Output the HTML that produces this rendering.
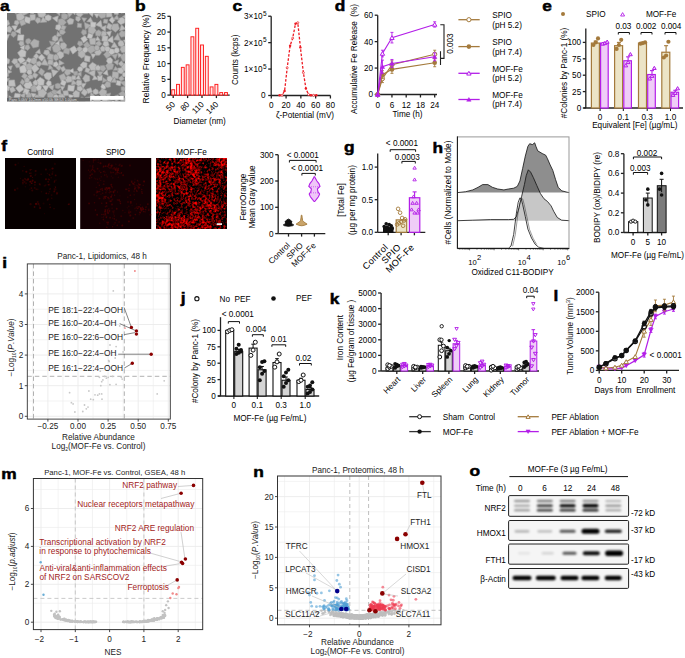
<!DOCTYPE html>
<html><head><meta charset="utf-8"><style>
html,body{margin:0;padding:0;background:#fff;}
svg{display:block;font-family:"Liberation Sans",sans-serif;font-size:8.2px;}
</style></head><body>
<svg width="685" height="658" viewBox="0 0 685 658">
<defs>
<clipPath id="clipA"><rect x="7" y="13" width="118.2" height="88.5"/></clipPath>
<filter id="fm" x="0" y="0" width="1" height="1" color-interpolation-filters="sRGB">
 <feTurbulence type="fractalNoise" baseFrequency="0.42" numOctaves="2" seed="4" result="n"/>
 <feColorMatrix in="n" type="matrix" values="1 0 0 0 0  0 0 0 0 0  0 0 0 0 0  0 0 0 0 1" result="n1"/>
 <feTurbulence type="fractalNoise" baseFrequency="0.06" numOctaves="2" seed="9" result="m"/>
 <feColorMatrix in="m" type="matrix" values="1 0 0 0 0  0 0 0 0 0  0 0 0 0 0  0 0 0 0 1" result="m1"/>
 <feComposite in="n1" in2="m1" operator="arithmetic" k1="0" k2="1" k3="0.5" k4="-0.25" result="nm"/>
 <feGaussianBlur in="nm" stdDeviation="0.35" result="nb"/><feComponentTransfer in="nb"><feFuncR type="linear" slope="2.2" intercept="-0.8"/><feFuncA type="linear" slope="0" intercept="1"/></feComponentTransfer>
</filter>
<filter id="blur5" x="-5%" y="-5%" width="110%" height="110%"><feGaussianBlur stdDeviation="0.45"/></filter>
<filter id="bandblur" x="-10%" y="-10%" width="120%" height="120%"><feGaussianBlur stdDeviation="1.05"/></filter>
<filter id="semblur" x="-5%" y="-5%" width="110%" height="110%"><feGaussianBlur stdDeviation="0.45"/></filter>

</defs>
<rect width="685" height="658" fill="#fff"/>
<text transform="translate(0,10.8) scale(1.12,1)" font-size="15.5" font-weight="bold" fill="#000" stroke="#000" stroke-width="0.5">a</text>
<g clip-path="url(#clipA)">
<rect x="7" y="13" width="118.2" height="88.5" fill="#727272"/>
<g filter="url(#semblur)">
<polygon points="34.25,57.13 36.77,59.63 36.65,63.03 33.84,64.44 30.83,62.76 30.79,59.14" fill="rgb(177,177,177)" stroke="rgb(152,152,152)" stroke-width="0.6"/>
<polygon points="3.77,87.13 6.58,84.96 9.97,87.13 8.39,90.89 4.84,90.56" fill="rgb(198,198,198)" stroke="rgb(173,173,173)" stroke-width="0.6"/>
<polygon points="35.86,99.53 37.12,102.87 35.43,106.24 31.71,105.79 29.98,102.38 32,98.95" fill="rgb(183,183,183)" stroke="rgb(158,158,158)" stroke-width="0.6"/>
<polygon points="111.04,55.26 106.66,58.62 103.48,54.41 107.44,50.46" fill="rgb(171,171,171)" stroke="rgb(146,146,146)" stroke-width="0.6"/>
<polygon points="24.37,64.87 27.76,68.92 25.18,72.96 20.36,72.7 19.35,67.12" fill="rgb(197,197,197)" stroke="rgb(172,172,172)" stroke-width="0.6"/>
<polygon points="64.36,78.8 67.96,75.67 72.28,77.14 72.05,81.83 67.13,82.46" fill="rgb(184,184,184)" stroke="rgb(159,159,159)" stroke-width="0.6"/>
<polygon points="44.6,10.88 45.94,14.72 43.06,17.68 38.76,16.87 37.52,12.96 40.53,9.56" fill="rgb(187,187,187)" stroke="rgb(162,162,162)" stroke-width="0.6"/>
<polygon points="58.96,75.8 64.04,73.37 66.64,78.64 61.2,81.5" fill="rgb(175,175,175)" stroke="rgb(150,150,150)" stroke-width="0.6"/>
<polygon points="90.66,92.08 95.28,96.21 89.97,98.3" fill="rgb(178,178,178)" stroke="rgb(153,153,153)" stroke-width="0.6"/>
<polygon points="112.43,23.4 109.19,20.19 112.03,16.56 115.29,19.77" fill="rgb(195,195,195)" stroke="rgb(170,170,170)" stroke-width="0.6"/>
<polygon points="56.11,41.69 51.56,46.74 49.12,40.95" fill="rgb(169,169,169)" stroke="rgb(144,144,144)" stroke-width="0.6"/>
<polygon points="78.98,97.23 74.2,97.73 72.77,93.34 75.74,90.14 79.69,92.31" fill="rgb(184,184,184)" stroke="rgb(159,159,159)" stroke-width="0.6"/>
<polygon points="84.22,22.16 91.49,25.4 85.32,29.64" fill="rgb(176,176,176)" stroke="rgb(151,151,151)" stroke-width="0.6"/>
<polygon points="118.6,93.67 123.33,90.2 126.12,94.81 122.1,98.46" fill="rgb(168,168,168)" stroke="rgb(143,143,143)" stroke-width="0.6"/>
<polygon points="93.04,34.5 88.12,32.45 88.32,27.28 93.52,26.05 96.22,30.69" fill="rgb(177,177,177)" stroke="rgb(152,152,152)" stroke-width="0.6"/>
<polygon points="107.13,99.65 111.79,101.34 108.32,105" fill="rgb(187,187,187)" stroke="rgb(162,162,162)" stroke-width="0.6"/>
<polygon points="105.71,47.71 104.54,51.37 101.14,51.43 100.03,47.98 102.5,45.67" fill="rgb(185,185,185)" stroke="rgb(160,160,160)" stroke-width="0.6"/>
<polygon points="43.79,85.12 38.61,85.67 36.18,80.94 40.13,77.28 44.33,79.91" fill="rgb(194,194,194)" stroke="rgb(169,169,169)" stroke-width="0.6"/>
<polygon points="7.95,66.46 12.4,65.68 10.8,70.45" fill="rgb(184,184,184)" stroke="rgb(159,159,159)" stroke-width="0.6"/>
<polygon points="95.38,37.91 95.88,44.43 90.16,44.7 89.21,38.58" fill="rgb(181,181,181)" stroke="rgb(156,156,156)" stroke-width="0.6"/>
<polygon points="123.83,53.03 128.32,55.38 127.58,60.68 122.75,61.49 120.37,56.83" fill="rgb(170,170,170)" stroke="rgb(145,145,145)" stroke-width="0.6"/>
<polygon points="10.43,32.46 6.02,31.58 5.82,27.61 9.45,25.84 12.35,28.69" fill="rgb(185,185,185)" stroke="rgb(160,160,160)" stroke-width="0.6"/>
<polygon points="77.18,27.31 77.68,23.02 81.65,23.71 81.45,27.52" fill="rgb(177,177,177)" stroke="rgb(152,152,152)" stroke-width="0.6"/>
<polygon points="112.79,35.91 113.37,43.22 106.88,40.41" fill="rgb(194,194,194)" stroke="rgb(169,169,169)" stroke-width="0.6"/>
<polygon points="111.06,47.51 114.29,41.91 117.89,47.44" fill="rgb(185,185,185)" stroke="rgb(160,160,160)" stroke-width="0.6"/>
<polygon points="64.65,47.44 70.32,48.93 68.84,54.51 62.87,52.78" fill="rgb(168,168,168)" stroke="rgb(143,143,143)" stroke-width="0.6"/>
<polygon points="58.67,64.52 56.42,67.32 53.16,66.07 53.41,62.65 56.6,61.62" fill="rgb(194,194,194)" stroke="rgb(169,169,169)" stroke-width="0.6"/>
<polygon points="82.99,68.82 81.72,71.23 79.09,71.66 77.36,69.48 78.44,67.07 81.37,66.53" fill="rgb(192,192,192)" stroke="rgb(167,167,167)" stroke-width="0.6"/>
<polygon points="78.09,51.88 81.46,49.9 84.82,51.97 85.44,56.11 81.61,58.2 78.25,55.85" fill="rgb(180,180,180)" stroke="rgb(155,155,155)" stroke-width="0.6"/>
<polygon points="51.21,72.93 51.56,77.19 49.11,80.41 45.37,78.63 43.48,74.83 46.97,72.4" fill="rgb(189,189,189)" stroke="rgb(164,164,164)" stroke-width="0.6"/>
<polygon points="125.1,36.54 121.25,37.33 118.67,33.98 121.56,30.42 125.42,31.95" fill="rgb(172,172,172)" stroke="rgb(147,147,147)" stroke-width="0.6"/>
<polygon points="92.97,22.19 86.76,21.8 90.56,17.17" fill="rgb(186,186,186)" stroke="rgb(161,161,161)" stroke-width="0.6"/>
<polygon points="45.75,91.7 42.37,85.73 49.09,85.6" fill="rgb(197,197,197)" stroke="rgb(172,172,172)" stroke-width="0.6"/>
<polygon points="110.47,30.16 106.39,27.61 108.4,22.96 113.02,25.48" fill="rgb(185,185,185)" stroke="rgb(160,160,160)" stroke-width="0.6"/>
<polygon points="88.29,91.9 84.91,96.05 81.12,92.92 83.77,88.48" fill="rgb(185,185,185)" stroke="rgb(160,160,160)" stroke-width="0.6"/>
<polygon points="30.43,81.19 32.61,85.23 30.54,88.66 25.85,88.65 23.64,85.21 26.27,81.85" fill="rgb(193,193,193)" stroke="rgb(168,168,168)" stroke-width="0.6"/>
<polygon points="86.15,83.56 83.02,88.55 80.72,83.38" fill="rgb(189,189,189)" stroke="rgb(164,164,164)" stroke-width="0.6"/>
<polygon points="23.28,40.86 17.43,40.35 17.99,34.72 23.99,34.89" fill="rgb(197,197,197)" stroke="rgb(172,172,172)" stroke-width="0.6"/>
<polygon points="60.99,49.8 57.25,52.96 53.4,51.78 52.11,47.36 55.17,43.9 59.84,45.35" fill="rgb(173,173,173)" stroke="rgb(148,148,148)" stroke-width="0.6"/>
<polygon points="28.77,12.96 22.57,16.04 20.15,10.19 25.5,7.07" fill="rgb(182,182,182)" stroke="rgb(157,157,157)" stroke-width="0.6"/>
<polygon points="35.48,19.79 30.11,20.55 29.94,14.68 35.18,14.22" fill="rgb(185,185,185)" stroke="rgb(160,160,160)" stroke-width="0.6"/>
<polygon points="111.84,77.71 112.65,71.62 118.89,72.28 118.06,78.84" fill="rgb(179,179,179)" stroke="rgb(154,154,154)" stroke-width="0.6"/>
<polygon points="9.7,78.48 6.25,82.82 4.07,77.53" fill="rgb(181,181,181)" stroke="rgb(156,156,156)" stroke-width="0.6"/>
<polygon points="40.8,67.99 44.87,71.19 42.3,76.12 38.28,72.81" fill="rgb(171,171,171)" stroke="rgb(146,146,146)" stroke-width="0.6"/>
<polygon points="59.72,97.19 55.71,101.8 51.28,97.61 55.28,93.25" fill="rgb(190,190,190)" stroke="rgb(165,165,165)" stroke-width="0.6"/>
<polygon points="62.15,79.39 66.49,81.83 64.59,85.92 60.26,84.28" fill="rgb(195,195,195)" stroke="rgb(170,170,170)" stroke-width="0.6"/>
<polygon points="100.84,86.86 102.28,84 105.75,84.98 105.45,88.56 102.49,89.82" fill="rgb(198,198,198)" stroke="rgb(173,173,173)" stroke-width="0.6"/>
<polygon points="16.18,14.54 21.28,12.36 24.7,17 21.74,21.63 17.03,19.86" fill="rgb(187,187,187)" stroke="rgb(162,162,162)" stroke-width="0.6"/>
<polygon points="82.9,68.41 80.09,64.89 82.97,61.8 87.13,63.04 86.76,67.16" fill="rgb(190,190,190)" stroke="rgb(165,165,165)" stroke-width="0.6"/>
<polygon points="26.01,39.35 29.01,38.23 31.17,40.46 30.32,43.12 27.55,44.47 25.45,42.07" fill="rgb(168,168,168)" stroke="rgb(143,143,143)" stroke-width="0.6"/>
<polygon points="17.51,25.43 15.1,31.14 11.68,26.04" fill="rgb(195,195,195)" stroke="rgb(170,170,170)" stroke-width="0.6"/>
<polygon points="75.31,83.56 77.33,80.09 81.49,80.57 82.05,84.76 78.21,86.3" fill="rgb(185,185,185)" stroke="rgb(160,160,160)" stroke-width="0.6"/>
<polygon points="106.11,68.8 103.27,71.67 99.85,69.98 100.12,65.76 104.21,65.18" fill="rgb(169,169,169)" stroke="rgb(144,144,144)" stroke-width="0.6"/>
<polygon points="52.75,60.39 47.28,59.07 48.16,53.16 53.69,54.7" fill="rgb(178,178,178)" stroke="rgb(153,153,153)" stroke-width="0.6"/>
<polygon points="63.29,18.09 66.38,22.59 62.68,26.28 58.22,24.49 58.24,19.47" fill="rgb(170,170,170)" stroke="rgb(145,145,145)" stroke-width="0.6"/>
<polygon points="85.36,74.35 89.65,76.02 89.84,80.78 85.17,82.6 82.61,78.49" fill="rgb(182,182,182)" stroke="rgb(157,157,157)" stroke-width="0.6"/>
<polygon points="16.84,62.43 19.73,63.38 20.09,67 16.54,68.04 14.79,64.99" fill="rgb(178,178,178)" stroke="rgb(153,153,153)" stroke-width="0.6"/>
<polygon points="22.08,78.99 25.13,81.84 22.93,85.24 20,82.68" fill="rgb(173,173,173)" stroke="rgb(148,148,148)" stroke-width="0.6"/>
<polygon points="19.24,92.75 15.65,88.09 20.4,84.35 23.99,89.28" fill="rgb(193,193,193)" stroke="rgb(168,168,168)" stroke-width="0.6"/>
<polygon points="99.96,10.66 104.18,10.17 106.18,13.87 105.26,17.51 100.94,18.4 97.9,14.86" fill="rgb(174,174,174)" stroke="rgb(149,149,149)" stroke-width="0.6"/>
<polygon points="40.97,64.74 44.77,58.26 48.58,65.46" fill="rgb(181,181,181)" stroke="rgb(156,156,156)" stroke-width="0.6"/>
<polygon points="57.24,22.31 52.39,17.92 58.44,15.74" fill="rgb(192,192,192)" stroke="rgb(167,167,167)" stroke-width="0.6"/>
<polygon points="126.07,52.16 121.83,52.68 120,49.36 121.33,45.88 125.45,45.62 128.15,48.53" fill="rgb(180,180,180)" stroke="rgb(155,155,155)" stroke-width="0.6"/>
<polygon points="84.84,55.34 90.27,56.44 89.63,61.9 84.4,60.88" fill="rgb(190,190,190)" stroke="rgb(165,165,165)" stroke-width="0.6"/>
<polygon points="95.42,50.75 90.66,53.65 86.27,49.99 88.77,44.98 94.15,45.89" fill="rgb(171,171,171)" stroke="rgb(146,146,146)" stroke-width="0.6"/>
<polygon points="100.93,20.36 102.45,27.81 95.44,25.01" fill="rgb(189,189,189)" stroke="rgb(164,164,164)" stroke-width="0.6"/>
<polygon points="63.03,34.87 59.58,34.06 59.55,30.28 63.03,28.77 65.65,32.19" fill="rgb(172,172,172)" stroke="rgb(147,147,147)" stroke-width="0.6"/>
<polygon points="94.8,77.25 87.69,72.83 95.26,69.79" fill="rgb(185,185,185)" stroke="rgb(160,160,160)" stroke-width="0.6"/>
<polygon points="109.81,36.7 105.99,32.32 111.44,30.96" fill="rgb(193,193,193)" stroke="rgb(168,168,168)" stroke-width="0.6"/>
<polygon points="78.23,75.19 73.88,75.48 73.66,71.56 77.44,71.03" fill="rgb(169,169,169)" stroke="rgb(144,144,144)" stroke-width="0.6"/>
<polygon points="98.44,95.77 101.51,98.84 99.36,102.54 95.49,103.03 92.73,100.1 94.65,96.5" fill="rgb(185,185,185)" stroke="rgb(160,160,160)" stroke-width="0.6"/>
<polygon points="74.03,19.62 72.74,24.06 68.66,24.56 66.78,20.8 69.89,17.91" fill="rgb(183,183,183)" stroke="rgb(158,158,158)" stroke-width="0.6"/>
<polygon points="63.29,41.62 57.98,41.14 61.13,36.48" fill="rgb(172,172,172)" stroke="rgb(147,147,147)" stroke-width="0.6"/>
<polygon points="101.9,43.95 98.42,46.66 95.08,43.13 99.22,40.42" fill="rgb(174,174,174)" stroke="rgb(149,149,149)" stroke-width="0.6"/>
<polygon points="35.05,20.61 36.8,17.54 39.99,18.09 40.92,21.68 37.49,23.49" fill="rgb(178,178,178)" stroke="rgb(153,153,153)" stroke-width="0.6"/>
<polygon points="97.34,75.98 102.27,75.23 102.25,80.18 98.05,80.64" fill="rgb(192,192,192)" stroke="rgb(167,167,167)" stroke-width="0.6"/>
<polygon points="24.21,50.19 19.94,47.43 24.67,45.09" fill="rgb(195,195,195)" stroke="rgb(170,170,170)" stroke-width="0.6"/>
<polygon points="37.18,85.19 33.66,85.47 32.91,82.01 35.62,79.85 38,82.1" fill="rgb(189,189,189)" stroke="rgb(164,164,164)" stroke-width="0.6"/>
<polygon points="98.57,92.43 102.08,88.51 106.67,90.78 106.5,96.1 101.22,96.75" fill="rgb(179,179,179)" stroke="rgb(154,154,154)" stroke-width="0.6"/>
<polygon points="81.75,96.73 85.99,98.9 85.14,103.88 80.1,104.25 78.43,100.06" fill="rgb(170,170,170)" stroke="rgb(145,145,145)" stroke-width="0.6"/>
<polygon points="75.53,78.95 78.78,74.71 80.63,79.56" fill="rgb(189,189,189)" stroke="rgb(164,164,164)" stroke-width="0.6"/>
<polygon points="73.02,13.26 68.71,17.7 66.84,11.68" fill="rgb(177,177,177)" stroke="rgb(152,152,152)" stroke-width="0.6"/>
<polygon points="68.19,94.29 74.01,95.54 70,99.69" fill="rgb(197,197,197)" stroke="rgb(172,172,172)" stroke-width="0.6"/>
<polygon points="112.62,69.37 107.59,70.24 105.44,65.62 109.06,61.79 113.84,64.45" fill="rgb(169,169,169)" stroke="rgb(144,144,144)" stroke-width="0.6"/>
<polygon points="85.03,35.6 87.52,39.72 83.53,43.06 80.74,38.31" fill="rgb(196,196,196)" stroke="rgb(171,171,171)" stroke-width="0.6"/>
<polygon points="33.1,7.96 35.28,11.11 33.34,13.88 30.09,13.17 29.79,9.44" fill="rgb(191,191,191)" stroke="rgb(166,166,166)" stroke-width="0.6"/>
<polygon points="62.44,99.96 59.52,99.01 58.24,95.63 61.11,93.66 64.31,94.43 65.14,97.77" fill="rgb(182,182,182)" stroke="rgb(157,157,157)" stroke-width="0.6"/>
<polygon points="92.1,100.45 89.09,104.37 84.91,102.45 85.36,97.47 89.61,96.9" fill="rgb(197,197,197)" stroke="rgb(172,172,172)" stroke-width="0.6"/>
<polygon points="119.53,97.7 117.62,100.06 114.19,98.86 114.81,95.64 118.14,94.67" fill="rgb(176,176,176)" stroke="rgb(151,151,151)" stroke-width="0.6"/>
<polygon points="92.42,62.2 96.36,64.76 95.85,70.04 90.78,70.52 88.63,65.83" fill="rgb(187,187,187)" stroke="rgb(162,162,162)" stroke-width="0.6"/>
<polygon points="92.48,16.66 87.73,12.15 94.22,10.69" fill="rgb(198,198,198)" stroke="rgb(173,173,173)" stroke-width="0.6"/>
<polygon points="34.61,84.78 37.62,88.02 35.79,91.93 31.42,91.66 30.77,86.87" fill="rgb(172,172,172)" stroke="rgb(147,147,147)" stroke-width="0.6"/>
<polygon points="125.1,19.25 124.76,22.84 120.88,24.76 117.61,22.04 118.85,18.45 122.26,17.32" fill="rgb(192,192,192)" stroke="rgb(167,167,167)" stroke-width="0.6"/>
<polygon points="74.31,45.85 77.56,50.27 72.82,54.14 69.57,48.81" fill="rgb(193,193,193)" stroke="rgb(168,168,168)" stroke-width="0.6"/>
<polygon points="103.18,22.96 103.98,19.05 107.88,19.47 107.26,23.53" fill="rgb(179,179,179)" stroke="rgb(154,154,154)" stroke-width="0.6"/>
<polygon points="126.53,45.65 123.47,40.12 129.75,39.74" fill="rgb(196,196,196)" stroke="rgb(171,171,171)" stroke-width="0.6"/>
<polygon points="122.55,63.69 127.44,63.1 129.25,68.48 125.76,71.74 121.08,69.03" fill="rgb(186,186,186)" stroke="rgb(161,161,161)" stroke-width="0.6"/>
<polygon points="120.6,40.45 113.41,39.75 117.89,33.18" fill="rgb(178,178,178)" stroke="rgb(153,153,153)" stroke-width="0.6"/>
<polygon points="29.58,23.6 23.5,21.95 25.58,16.41 30.78,18.02" fill="rgb(195,195,195)" stroke="rgb(170,170,170)" stroke-width="0.6"/>
<polygon points="128.68,99.89 125.37,105.7 119.51,102.53 122.76,96.77" fill="rgb(170,170,170)" stroke="rgb(145,145,145)" stroke-width="0.6"/>
<polygon points="8.25,20.16 9.74,24.08 6.45,26.45 2.42,24.44 3.94,19.85" fill="rgb(189,189,189)" stroke="rgb(164,164,164)" stroke-width="0.6"/>
<polygon points="119.75,81.86 128.16,80.46 125.62,87.4" fill="rgb(171,171,171)" stroke="rgb(146,146,146)" stroke-width="0.6"/>
<polygon points="101.56,36.27 100.45,33.11 102.81,30.97 105.79,31.62 106.63,34.44 104.54,36.92" fill="rgb(181,181,181)" stroke="rgb(156,156,156)" stroke-width="0.6"/>
<polygon points="75.65,13.99 79.55,10.31 83.69,13.65 79.88,17.69" fill="rgb(186,186,186)" stroke="rgb(161,161,161)" stroke-width="0.6"/>
<polygon points="86.13,48.83 83.29,44.7 87.08,41.3 90.81,45.64" fill="rgb(168,168,168)" stroke="rgb(143,143,143)" stroke-width="0.6"/>
<polygon points="26.02,96.74 26.58,93.45 29.5,92.32 31.56,94.66 31.04,98.03 28.16,98.92" fill="rgb(170,170,170)" stroke="rgb(145,145,145)" stroke-width="0.6"/>
<polygon points="48.05,86.38 54.14,84.93 52.79,90.55" fill="rgb(180,180,180)" stroke="rgb(155,155,155)" stroke-width="0.6"/>
<polygon points="42.21,101.36 35,101.61 34.42,95.37 41.03,94.52" fill="rgb(177,177,177)" stroke="rgb(152,152,152)" stroke-width="0.6"/>
<polygon points="1.7,35.5 9.55,34.19 6.42,41.89" fill="rgb(194,194,194)" stroke="rgb(169,169,169)" stroke-width="0.6"/>
<polygon points="118.03,23.76 119.44,28.67 115.46,32.24 110.88,28.68 112.9,23.97" fill="rgb(177,177,177)" stroke="rgb(152,152,152)" stroke-width="0.6"/>
<polygon points="85.99,67.36 90.37,69.24 88.42,73.03 84.79,71.53" fill="rgb(185,185,185)" stroke="rgb(160,160,160)" stroke-width="0.6"/>
<polygon points="9.15,102.62 9.05,95.82 15.12,99.48" fill="rgb(196,196,196)" stroke="rgb(171,171,171)" stroke-width="0.6"/>
<polygon points="19.13,21.24 23.88,19.15 25.84,23.88 21.33,26.1" fill="rgb(175,175,175)" stroke="rgb(150,150,150)" stroke-width="0.6"/>
<polygon points="113.46,19.12 117.12,14.64 119.29,19.99" fill="rgb(174,174,174)" stroke="rgb(149,149,149)" stroke-width="0.6"/>
<polygon points="38.62,46.78 33.06,48.03 30.08,43.14 34.09,38.99 39.12,41" fill="rgb(174,174,174)" stroke="rgb(149,149,149)" stroke-width="0.6"/>
<polygon points="63.79,56.22 60.86,58.96 57.27,57.6 56.9,53.57 59.48,50.98 63.49,52.7" fill="rgb(186,186,186)" stroke="rgb(161,161,161)" stroke-width="0.6"/>
<polygon points="55.77,67.81 58.89,64.69 61.79,67.86 58.85,70.76" fill="rgb(175,175,175)" stroke="rgb(150,150,150)" stroke-width="0.6"/>
<polygon points="9.07,88.54 13.1,86.49 15.65,90.5 11.34,92.9" fill="rgb(184,184,184)" stroke="rgb(159,159,159)" stroke-width="0.6"/>
<polygon points="41.66,61.27 37.92,57.47 41.69,54.12 44.98,57.51" fill="rgb(192,192,192)" stroke="rgb(167,167,167)" stroke-width="0.6"/>
<polygon points="49.56,64.2 53.06,68.53 47.89,69.67" fill="rgb(177,177,177)" stroke="rgb(152,152,152)" stroke-width="0.6"/>
<polygon points="80.63,19.46 78.34,21.67 75.71,20.04 75.9,16.66 79.53,16.31" fill="rgb(182,182,182)" stroke="rgb(157,157,157)" stroke-width="0.6"/>
<polygon points="122.48,72.56 126.94,72.74 126.47,76.82 122.41,76.8" fill="rgb(192,192,192)" stroke="rgb(167,167,167)" stroke-width="0.6"/>
<polygon points="107.49,58.19 110.7,57.4 112.75,59.94 111.99,63.2 108.66,63.95 106.47,61.25" fill="rgb(193,193,193)" stroke="rgb(168,168,168)" stroke-width="0.6"/>
<polygon points="21.64,56.21 25.52,60.33 20.76,63.74 17.44,59.5" fill="rgb(193,193,193)" stroke="rgb(168,168,168)" stroke-width="0.6"/>
<polygon points="107.02,81.06 107.15,77.11 110.32,75.84 112.89,78.58 110.89,82.14" fill="rgb(187,187,187)" stroke="rgb(162,162,162)" stroke-width="0.6"/>
<polygon points="31.71,76 34.19,72.61 38.25,74.69 35.65,78.52" fill="rgb(181,181,181)" stroke="rgb(156,156,156)" stroke-width="0.6"/>
<polygon points="14.47,79.89 15.42,86.29 8.65,86.3 8.7,80.18" fill="rgb(192,192,192)" stroke="rgb(167,167,167)" stroke-width="0.6"/>
<polygon points="43.41,97.72 38.23,96.16 38.04,90.66 43.14,88.64 46.92,92.84" fill="rgb(182,182,182)" stroke="rgb(157,157,157)" stroke-width="0.6"/>
<polygon points="119.47,31.03 121.43,24.57 125.71,29.04" fill="rgb(185,185,185)" stroke="rgb(160,160,160)" stroke-width="0.6"/>
<polygon points="22.93,97.39 27.66,98.57 28,103.34 23.23,104.92 19.65,101.56" fill="rgb(194,194,194)" stroke="rgb(169,169,169)" stroke-width="0.6"/>
<polygon points="63.66,100.28 63.27,105.4 59.09,105.65 56.27,102.02 59.92,98.71" fill="rgb(182,182,182)" stroke="rgb(157,157,157)" stroke-width="0.6"/>
<polygon points="20.82,94.09 19.25,99.64 13.69,98.29 15.03,93.27" fill="rgb(195,195,195)" stroke="rgb(170,170,170)" stroke-width="0.6"/>
<polygon points="125.59,25.46 124.62,19.51 130.99,21.57" fill="rgb(189,189,189)" stroke="rgb(164,164,164)" stroke-width="0.6"/>
<polygon points="26.51,69.74 25.31,65.01 29.37,63.06 33.18,65.87 30.97,70.61" fill="rgb(174,174,174)" stroke="rgb(149,149,149)" stroke-width="0.6"/>
<polygon points="66.79,44.94 65.78,48.39 62.39,49.68 59.88,46.78 60.82,42.99 64.31,42.46" fill="rgb(179,179,179)" stroke="rgb(154,154,154)" stroke-width="0.6"/>
<polygon points="16.49,35.11 13.5,37.53 10.52,34.97 12.01,31.55 15.59,31.58" fill="rgb(168,168,168)" stroke="rgb(143,143,143)" stroke-width="0.6"/>
<polygon points="117.81,65.17 113.36,61.92 118.56,59.7" fill="rgb(179,179,179)" stroke="rgb(154,154,154)" stroke-width="0.6"/>
<polygon points="8.99,63.47 5.94,64.35 2.73,62.63 3.6,59.07 6.7,57.63 9.73,59.78" fill="rgb(190,190,190)" stroke="rgb(165,165,165)" stroke-width="0.6"/>
<polygon points="68.18,84.94 74.7,85.55 73.72,91.33 67.58,90.79" fill="rgb(195,195,195)" stroke="rgb(170,170,170)" stroke-width="0.6"/>
<polygon points="33.15,75.54 32.9,78.62 29.53,79.32 27.54,76.42 30.22,74.31" fill="rgb(181,181,181)" stroke="rgb(156,156,156)" stroke-width="0.6"/>
<polygon points="117.53,68.19 121.87,67.71 124.1,71.07 121.47,73.94 117.78,72.51" fill="rgb(189,189,189)" stroke="rgb(164,164,164)" stroke-width="0.6"/>
<polygon points="64.25,63.32 58.6,65.92 59.13,60.07" fill="rgb(181,181,181)" stroke="rgb(156,156,156)" stroke-width="0.6"/>
<polygon points="109.12,45.27 105.33,46.99 102.81,44.52 104.1,40.64 107.8,41.04" fill="rgb(190,190,190)" stroke="rgb(165,165,165)" stroke-width="0.6"/>
<polygon points="105.94,11.26 111.59,10.55 112.14,16.65 106.43,17.13" fill="rgb(188,188,188)" stroke="rgb(163,163,163)" stroke-width="0.6"/>
<polygon points="67.53,18.58 64.42,19.9 61.43,18.01 61.23,14.54 64.62,13.1 68.04,14.78" fill="rgb(168,168,168)" stroke="rgb(143,143,143)" stroke-width="0.6"/>
<polygon points="126.83,12.23 121.13,13.19 122.9,8.06" fill="rgb(186,186,186)" stroke="rgb(161,161,161)" stroke-width="0.6"/>
<polygon points="107.63,96.27 107.87,100.67 103.68,102.61 101.21,98.94 103.7,94.92" fill="rgb(191,191,191)" stroke="rgb(166,166,166)" stroke-width="0.6"/>
<polygon points="98.51,93.46 95.8,94.55 93.2,93.58 92.94,90.39 95.6,88.83 98.09,90.3" fill="rgb(188,188,188)" stroke="rgb(163,163,163)" stroke-width="0.6"/>
<polygon points="121.21,81.35 120.27,85.8 116.08,84.73 116.64,80.39" fill="rgb(196,196,196)" stroke="rgb(171,171,171)" stroke-width="0.6"/>
<polygon points="3.75,96.26 7.99,96.79 8.49,100.81 5.36,102.69 1.87,100.24" fill="rgb(189,189,189)" stroke="rgb(164,164,164)" stroke-width="0.6"/>
<polygon points="111.39,55.12 108.63,52.6 109.53,48.6 113.83,49.34 114.96,52.83" fill="rgb(196,196,196)" stroke="rgb(171,171,171)" stroke-width="0.6"/>
<polygon points="100.05,36.25 95.76,35.72 95.15,31.7 98.85,29.7 102.1,32.5" fill="rgb(171,171,171)" stroke="rgb(146,146,146)" stroke-width="0.6"/>
<polygon points="81.27,76.4 76.79,74.01 81.24,71.67" fill="rgb(176,176,176)" stroke="rgb(151,151,151)" stroke-width="0.6"/>
<polygon points="114.37,52.57 114,49.64 115.94,47.51 118.94,48.38 119.25,51.41 117.29,53.15" fill="rgb(197,197,197)" stroke="rgb(172,172,172)" stroke-width="0.6"/>
<polygon points="8.04,96.31 3.34,96.58 2.35,92.25 7.43,91.05" fill="rgb(182,182,182)" stroke="rgb(157,157,157)" stroke-width="0.6"/>
<polygon points="93.86,13.56 99.49,13.18 97,18.12" fill="rgb(193,193,193)" stroke="rgb(168,168,168)" stroke-width="0.6"/>
<polygon points="65.74,69.31 70.04,69.41 70.49,73.81 67,75.67 64.23,72.9" fill="rgb(176,176,176)" stroke="rgb(151,151,151)" stroke-width="0.6"/>
<polygon points="51.22,107.49 46.84,105.39 46.92,101.36 50.04,98.27 54.08,100.28 54.61,104.27" fill="rgb(176,176,176)" stroke="rgb(151,151,151)" stroke-width="0.6"/>
<polygon points="118.25,63.71 121.48,60.72 123.97,64 121.2,66.57" fill="rgb(183,183,183)" stroke="rgb(158,158,158)" stroke-width="0.6"/>
<polygon points="69.33,101.55 66.7,103.83 63.64,102.5 63.95,98.8 67.45,98.25" fill="rgb(170,170,170)" stroke="rgb(145,145,145)" stroke-width="0.6"/>
<polygon points="57.41,90.75 56.72,94.26 52.99,94.97 50.96,91.86 53.84,89.48" fill="rgb(168,168,168)" stroke="rgb(143,143,143)" stroke-width="0.6"/>
<polygon points="59.13,30.42 55.58,28.92 56.06,25.17 59.8,24.22 61.58,27.7" fill="rgb(192,192,192)" stroke="rgb(167,167,167)" stroke-width="0.6"/>
<polygon points="82.88,48.84 79.49,52.23 76.15,48.96 79.36,46.13" fill="rgb(180,180,180)" stroke="rgb(155,155,155)" stroke-width="0.6"/>
<polygon points="48.11,99.06 43.2,103.2 41.5,97.36" fill="rgb(196,196,196)" stroke="rgb(171,171,171)" stroke-width="0.6"/>
<polygon points="103.18,71.69 99.89,76.72 97.27,71.3" fill="rgb(174,174,174)" stroke="rgb(149,149,149)" stroke-width="0.6"/>
<polygon points="44.55,50.2 48.54,49.8 49.83,53.17 47.01,55.57 43.52,53.6" fill="rgb(183,183,183)" stroke="rgb(158,158,158)" stroke-width="0.6"/>
<polygon points="95.21,27.21 90.57,27.17 90.67,21.84 96.11,22.48" fill="rgb(198,198,198)" stroke="rgb(173,173,173)" stroke-width="0.6"/>
<polygon points="83.06,9.14 87.62,8.67 88.16,13.93 82.99,14.11" fill="rgb(176,176,176)" stroke="rgb(151,151,151)" stroke-width="0.6"/>
<polygon points="58.14,89.06 55.28,88 54.95,84.3 57.93,83.02 60.62,84.23 60.67,87.6" fill="rgb(168,168,168)" stroke="rgb(143,143,143)" stroke-width="0.6"/>
<polygon points="113.23,11.11 116,8.57 118.94,10.82 118.16,14.57 114.39,14.29" fill="rgb(197,197,197)" stroke="rgb(172,172,172)" stroke-width="0.6"/>
<polygon points="82.61,29.53 86.26,30.37 86.63,33.81 83.13,35.55 81.15,32.47" fill="rgb(169,169,169)" stroke="rgb(144,144,144)" stroke-width="0.6"/>
<polygon points="93.07,34.8 91.55,38.83 87.12,37.71 88.37,33.17" fill="rgb(198,198,198)" stroke="rgb(173,173,173)" stroke-width="0.6"/>
<polygon points="81.58,17.68 86.76,18.13 84.01,22.14" fill="rgb(178,178,178)" stroke="rgb(153,153,153)" stroke-width="0.6"/>
<polygon points="115.49,66.34 118.49,70.33 113.13,70.56" fill="rgb(174,174,174)" stroke="rgb(149,149,149)" stroke-width="0.6"/>
<polygon points="122.33,16.74 127.19,13.43 127.49,19.91" fill="rgb(183,183,183)" stroke="rgb(158,158,158)" stroke-width="0.6"/>
<polygon points="76.47,10.37 74.74,14.96 71.39,11.23" fill="rgb(186,186,186)" stroke="rgb(161,161,161)" stroke-width="0.6"/>
<polygon points="50.79,91.55 54.13,94.83 51.74,98.92 47.62,97.77 47.09,93.59" fill="rgb(170,170,170)" stroke="rgb(145,145,145)" stroke-width="0.6"/>
<polygon points="68.86,95.48 63.61,95.78 62.9,91.08 67.83,90.45" fill="rgb(184,184,184)" stroke="rgb(159,159,159)" stroke-width="0.6"/>
<polygon points="58.29,71.18 53.07,77.08 51.3,69.15" fill="rgb(187,187,187)" stroke="rgb(162,162,162)" stroke-width="0.6"/>
<polygon points="76.9,98.25 76.47,102.94 71.68,102.67 71.94,97.68" fill="rgb(173,173,173)" stroke="rgb(148,148,148)" stroke-width="0.6"/>
<polygon points="35.52,52.63 39.58,48.89 40.64,53.94" fill="rgb(185,185,185)" stroke="rgb(160,160,160)" stroke-width="0.6"/>
<polygon points="24.5,48.65 25.51,45.21 28.7,44.74 30.16,47.95 27.75,50.39" fill="rgb(173,173,173)" stroke="rgb(148,148,148)" stroke-width="0.6"/>
<polygon points="3.38,66.76 7.56,67.97 6.75,71.93 2.15,71.35" fill="rgb(176,176,176)" stroke="rgb(151,151,151)" stroke-width="0.6"/>
<polygon points="17.55,52.65 21.79,49 26.13,51.38 25.44,56.64 20.38,57.27" fill="rgb(193,193,193)" stroke="rgb(168,168,168)" stroke-width="0.6"/>
<polygon points="13.89,100.29 19.58,101.35 16,105.39" fill="rgb(174,174,174)" stroke="rgb(149,149,149)" stroke-width="0.6"/>
<polygon points="102.49,83.11 102.69,77.2 107.56,80.52" fill="rgb(168,168,168)" stroke="rgb(143,143,143)" stroke-width="0.6"/>
<polygon points="55.38,92.45 60.64,89.06 61.17,95.18" fill="rgb(183,183,183)" stroke="rgb(158,158,158)" stroke-width="0.6"/>
<polygon points="103.06,73.59 107.17,69.6 108.23,75.43" fill="rgb(192,192,192)" stroke="rgb(167,167,167)" stroke-width="0.6"/>
<polygon points="99.82,49.49 101.66,52.61 99.48,55.21 95.91,55.22 94.51,52.13 96.61,49.68" fill="rgb(184,184,184)" stroke="rgb(159,159,159)" stroke-width="0.6"/>
<polygon points="29.35,90.07 27.51,94.98 22.91,92.97 24.51,88.22" fill="rgb(193,193,193)" stroke="rgb(168,168,168)" stroke-width="0.6"/>
<polygon points="110.9,82.26 114.66,76.88 116.74,82.7" fill="rgb(176,176,176)" stroke="rgb(151,151,151)" stroke-width="0.6"/>
<polygon points="105.39,31.4 100.51,27.72 106.18,25.32" fill="rgb(188,188,188)" stroke="rgb(163,163,163)" stroke-width="0.6"/>
<polygon points="111.84,96.18 114.68,99.94 110.21,100.51" fill="rgb(177,177,177)" stroke="rgb(152,152,152)" stroke-width="0.6"/>
<polygon points="121.93,46.84 118.64,45.77 117.94,42.89 120,40.2 122.94,41.04 124.45,44.42" fill="rgb(187,187,187)" stroke="rgb(162,162,162)" stroke-width="0.6"/>
<polygon points="15.12,31.37 20.55,28.03 20.5,34" fill="rgb(194,194,194)" stroke="rgb(169,169,169)" stroke-width="0.6"/>
<polygon points="36.33,65.39 36.26,62.24 39.59,60.94 41.86,63.58 39.71,66.47" fill="rgb(181,181,181)" stroke="rgb(156,156,156)" stroke-width="0.6"/>
<polygon points="53.22,55.83 55.84,54.04 58.43,55.85 58.84,58.9 55.8,60.8 53.38,58.95" fill="rgb(175,175,175)" stroke="rgb(150,150,150)" stroke-width="0.6"/>
<polygon points="11.8,71.92 7.53,74.1 7.66,69.54" fill="rgb(190,190,190)" stroke="rgb(165,165,165)" stroke-width="0.6"/>
<polygon points="47.06,21.99 40.45,22.55 42.96,16.62" fill="rgb(182,182,182)" stroke="rgb(157,157,157)" stroke-width="0.6"/>
<polygon points="14.49,64.47 11.58,62.02 13.58,58.78 17.23,59.03 17.7,62.73" fill="rgb(184,184,184)" stroke="rgb(159,159,159)" stroke-width="0.6"/>
<polygon points="115.42,59.7 111.51,54.72 117.71,53.71" fill="rgb(172,172,172)" stroke="rgb(147,147,147)" stroke-width="0.6"/>
<polygon points="34.54,73.09 30.83,67.83 35.38,63.98 39.16,68.67" fill="rgb(190,190,190)" stroke="rgb(165,165,165)" stroke-width="0.6"/>
<polygon points="29.55,79.26 28.8,82.45 25.23,82.51 24.27,79.01 27.28,76.91" fill="rgb(180,180,180)" stroke="rgb(155,155,155)" stroke-width="0.6"/>
<polygon points="63.82,65.91 65.8,69.77 62.51,72.01 60.44,68.3" fill="rgb(181,181,181)" stroke="rgb(156,156,156)" stroke-width="0.6"/>
<polygon points="31.39,70.06 31.98,73.63 28.76,74.98 26.49,72.3 28.22,69.48" fill="rgb(191,191,191)" stroke="rgb(166,166,166)" stroke-width="0.6"/>
<polygon points="78.44,40.91 82.3,41.44 82.97,44.77 79.78,46.6 77.3,44.1" fill="rgb(169,169,169)" stroke="rgb(144,144,144)" stroke-width="0.6"/>
<polygon points="90.9,53.64 96.09,54.09 92.86,58.66" fill="rgb(189,189,189)" stroke="rgb(164,164,164)" stroke-width="0.6"/>
<polygon points="102.44,35.62 108.13,36.19 107.23,41.31 101.85,40.94" fill="rgb(191,191,191)" stroke="rgb(166,166,166)" stroke-width="0.6"/>
<polygon points="77.1,83.64 71.08,85.57 72.58,79.32" fill="rgb(178,178,178)" stroke="rgb(153,153,153)" stroke-width="0.6"/>
<polygon points="33.02,98.25 30.91,93.12 36.23,93.95" fill="rgb(189,189,189)" stroke="rgb(164,164,164)" stroke-width="0.6"/>
<polygon points="86.41,89.14 90.77,87.69 92.53,91.93 87.97,93.6" fill="rgb(187,187,187)" stroke="rgb(162,162,162)" stroke-width="0.6"/>
<polygon points="64.73,86.5 62.16,90.83 60.27,86.21" fill="rgb(187,187,187)" stroke="rgb(162,162,162)" stroke-width="0.6"/>
<polygon points="55.61,12.33 60.36,10.66 59.76,15.79" fill="rgb(185,185,185)" stroke="rgb(160,160,160)" stroke-width="0.6"/>
<polygon points="19.47,23.07 17.11,25.62 14.04,23.79 14.87,20.69 17.98,20.02" fill="rgb(180,180,180)" stroke="rgb(155,155,155)" stroke-width="0.6"/>
<polygon points="24.65,98.73 19.87,95.22 25.28,92.76" fill="rgb(177,177,177)" stroke="rgb(152,152,152)" stroke-width="0.6"/>
<polygon points="31.71,59.15 30.03,63.11 26.07,61.11 28.11,57.73" fill="rgb(192,192,192)" stroke="rgb(167,167,167)" stroke-width="0.6"/>
<polygon points="121.03,86.99 124.32,86.36 125.96,88.89 124.21,91.46 121.12,90.46" fill="rgb(169,169,169)" stroke="rgb(144,144,144)" stroke-width="0.6"/>
<polygon points="83.2,89.13 80.23,91.45 77.04,90.02 77.24,86.41 80.95,85.96" fill="rgb(188,188,188)" stroke="rgb(163,163,163)" stroke-width="0.6"/>
<polygon points="52.16,40.07 52.47,36.96 55.05,35.21 57.99,36.97 58.08,40.09 55.13,41.59" fill="rgb(181,181,181)" stroke="rgb(156,156,156)" stroke-width="0.6"/>
<polygon points="56.17,36.95 57.54,31.48 61.39,35.79" fill="rgb(177,177,177)" stroke="rgb(152,152,152)" stroke-width="0.6"/>
<polygon points="60.61,28.71 62.22,24.97 66.33,26.5 64.25,30.41" fill="rgb(175,175,175)" stroke="rgb(150,150,150)" stroke-width="0.6"/>
<polygon points="71.87,79.75 71.92,75.83 75.69,75.8 75.77,79.63" fill="rgb(187,187,187)" stroke="rgb(162,162,162)" stroke-width="0.6"/>
<polygon points="51.02,81.56 51.29,85.01 48.08,86.55 46.11,83.56 47.94,80.47" fill="rgb(197,197,197)" stroke="rgb(172,172,172)" stroke-width="0.6"/>
<polygon points="97.57,36.26 100.37,40.48 95.1,40.53" fill="rgb(189,189,189)" stroke="rgb(164,164,164)" stroke-width="0.6"/>
<polygon points="55.31,43.69 59.1,40.74 59.47,45.53" fill="rgb(196,196,196)" stroke="rgb(171,171,171)" stroke-width="0.6"/>
<polygon points="104.09,84.83 106.78,81.26 110.56,82.55 110.51,86.78 106.92,87.68" fill="rgb(173,173,173)" stroke="rgb(148,148,148)" stroke-width="0.6"/>
<polygon points="87.16,51.64 84.74,52.65 82.3,50.83 83.17,48.02 85.76,47.04 87.94,48.86" fill="rgb(193,193,193)" stroke="rgb(168,168,168)" stroke-width="0.6"/>
<polygon points="51.07,46.31 50.69,50.75 46.33,48.35" fill="rgb(179,179,179)" stroke="rgb(154,154,154)" stroke-width="0.6"/>
<polygon points="117.98,53.01 122.23,54.99 118.45,57.65" fill="rgb(187,187,187)" stroke="rgb(162,162,162)" stroke-width="0.6"/>
<polygon points="38.47,84.71 41.52,86.59 40.88,89.9 37.61,90.75 35.92,87.41" fill="rgb(197,197,197)" stroke="rgb(172,172,172)" stroke-width="0.6"/>
<polygon points="36.33,59.5 33.54,56.29 36.25,53.14 38.86,56.2" fill="rgb(187,187,187)" stroke="rgb(162,162,162)" stroke-width="0.6"/>
<polygon points="51.06,19.57 48.39,20.88 45.13,19.63 45.01,16.2 48.08,14.77 51.23,16.25" fill="rgb(191,191,191)" stroke="rgb(166,166,166)" stroke-width="0.6"/>
<polygon points="98,79.14 92.41,79.99 94.3,75.05" fill="rgb(189,189,189)" stroke="rgb(164,164,164)" stroke-width="0.6"/>
<polygon points="61.82,13.49 59.95,11.09 61.68,8.06 64.55,8 66.09,10.93 64.68,13.75" fill="rgb(175,175,175)" stroke="rgb(150,150,150)" stroke-width="0.6"/>
<polygon points="115.85,99.24 119.39,101.46 117.39,105.33 113.51,103.06" fill="rgb(188,188,188)" stroke="rgb(163,163,163)" stroke-width="0.6"/>
<polygon points="108.55,46.44 110.06,48.5 108.97,51.55 106.19,51.62 104.57,49.36 105.41,46.55" fill="rgb(189,189,189)" stroke="rgb(164,164,164)" stroke-width="0.6"/>
<polygon points="21.04,46.54 18.75,43.87 19.98,41.03 23.59,41.14 24.11,44.64" fill="rgb(179,179,179)" stroke="rgb(154,154,154)" stroke-width="0.6"/>
<polygon points="21.48,76.43 24.26,72.87 27.51,75.58 25.19,79.5" fill="rgb(177,177,177)" stroke="rgb(152,152,152)" stroke-width="0.6"/>
<polygon points="109.19,98.39 105.31,94.31 110.73,92.88" fill="rgb(177,177,177)" stroke="rgb(152,152,152)" stroke-width="0.6"/>
<polygon points="17.79,8.32 19.62,12.15 15.37,13.99 13.77,9.96" fill="rgb(181,181,181)" stroke="rgb(156,156,156)" stroke-width="0.6"/>
<polygon points="2.15,75.53 4,71.81 8.02,72.18 8.78,76.06 5.21,78.28" fill="rgb(179,179,179)" stroke="rgb(154,154,154)" stroke-width="0.6"/>
<polygon points="96.26,70.17 94.98,66.93 98.15,64.89 100.7,67.23 99.55,70.5" fill="rgb(188,188,188)" stroke="rgb(163,163,163)" stroke-width="0.6"/>
<polygon points="26.33,66.41 21.84,63.26 26.64,61.22" fill="rgb(190,190,190)" stroke="rgb(165,165,165)" stroke-width="0.6"/>
<polygon points="124.07,31.95 127.41,28.44 128.87,32.9" fill="rgb(180,180,180)" stroke="rgb(155,155,155)" stroke-width="0.6"/>
<polygon points="120.71,81.24 118.54,78.12 121.69,75.65 124.58,79.06" fill="rgb(177,177,177)" stroke="rgb(152,152,152)" stroke-width="0.6"/>
<polygon points="73.61,73.19 68.86,71.02 73.14,68.58" fill="rgb(198,198,198)" stroke="rgb(173,173,173)" stroke-width="0.6"/>
<polygon points="53.15,60.28 52.75,65.09 47.41,64.28 48.53,59.5" fill="rgb(179,179,179)" stroke="rgb(154,154,154)" stroke-width="0.6"/>
<polygon points="93.86,47.97 95.55,45.31 98.2,45.06 99.53,47.7 98.59,50.37 95.72,50.67" fill="rgb(177,177,177)" stroke="rgb(152,152,152)" stroke-width="0.6"/>
</g>
<rect x="7" y="97.6" width="83" height="4" fill="#6a6a6a"/>
<text x="9" y="100.8" font-size="3.6" fill="#ddd">Panc 5.0kV 10.2mm x50.0k SE(U)     1.00um</text>
</g>
<rect x="90.2" y="96" width="33.4" height="3.8" fill="#fff"/>
<text transform="translate(135,10.7) scale(1.12,1)" font-size="15.5" font-weight="bold" fill="#000" stroke="#000" stroke-width="0.5">b</text>
<line x1="170.4" y1="16.3" x2="170.4" y2="95.1" stroke="#222" stroke-width="1.3"/>
<line x1="167.4" y1="95.1" x2="170.4" y2="95.1" stroke="#222" stroke-width="1.3"/>
<text x="165.8" y="98.05" text-anchor="end">0</text>
<line x1="167.4" y1="79.34" x2="170.4" y2="79.34" stroke="#222" stroke-width="1.3"/>
<text x="165.8" y="82.29" text-anchor="end">5</text>
<line x1="167.4" y1="63.58" x2="170.4" y2="63.58" stroke="#222" stroke-width="1.3"/>
<text x="165.8" y="66.53" text-anchor="end">10</text>
<line x1="167.4" y1="47.82" x2="170.4" y2="47.82" stroke="#222" stroke-width="1.3"/>
<text x="165.8" y="50.77" text-anchor="end">15</text>
<line x1="167.4" y1="32.06" x2="170.4" y2="32.06" stroke="#222" stroke-width="1.3"/>
<text x="165.8" y="35.01" text-anchor="end">20</text>
<line x1="167.4" y1="16.3" x2="170.4" y2="16.3" stroke="#222" stroke-width="1.3"/>
<text x="165.8" y="19.25" text-anchor="end">25</text>
<line x1="170.4" y1="95.1" x2="229.7" y2="95.1" stroke="#222" stroke-width="1.3"/>
<line x1="173.2" y1="95.1" x2="173.2" y2="98.1" stroke="#222" stroke-width="1.3"/>
<line x1="187.6" y1="95.1" x2="187.6" y2="98.1" stroke="#222" stroke-width="1.3"/>
<line x1="202" y1="95.1" x2="202" y2="98.1" stroke="#222" stroke-width="1.3"/>
<line x1="216.4" y1="95.1" x2="216.4" y2="98.1" stroke="#222" stroke-width="1.3"/>
<rect x="171.75" y="89.74" width="2.9" height="5.36" fill="#ffe6e6" stroke="#ff1a1a" stroke-width="0.95"/>
<rect x="176.55" y="84.38" width="2.9" height="10.72" fill="#ffe6e6" stroke="#ff1a1a" stroke-width="0.95"/>
<rect x="181.35" y="67.36" width="2.9" height="27.74" fill="#ffe6e6" stroke="#ff1a1a" stroke-width="0.95"/>
<rect x="186.15" y="64.84" width="2.9" height="30.26" fill="#ffe6e6" stroke="#ff1a1a" stroke-width="0.95"/>
<rect x="190.95" y="36.79" width="2.9" height="58.31" fill="#ffe6e6" stroke="#ff1a1a" stroke-width="0.95"/>
<rect x="195.75" y="28.28" width="2.9" height="66.82" fill="#ffe6e6" stroke="#ff1a1a" stroke-width="0.95"/>
<rect x="200.55" y="44.98" width="2.9" height="50.12" fill="#ffe6e6" stroke="#ff1a1a" stroke-width="0.95"/>
<rect x="205.35" y="56.33" width="2.9" height="38.77" fill="#ffe6e6" stroke="#ff1a1a" stroke-width="0.95"/>
<rect x="210.15" y="86.9" width="2.9" height="8.2" fill="#ffe6e6" stroke="#ff1a1a" stroke-width="0.95"/>
<rect x="214.95" y="84.38" width="2.9" height="10.72" fill="#ffe6e6" stroke="#ff1a1a" stroke-width="0.95"/>
<rect x="219.75" y="92.58" width="2.9" height="2.52" fill="#ffe6e6" stroke="#ff1a1a" stroke-width="0.95"/>
<rect x="224.55" y="92.58" width="2.9" height="2.52" fill="#ffe6e6" stroke="#ff1a1a" stroke-width="0.95"/>
<text x="175.7" y="105.1" text-anchor="end" transform="rotate(-45 175.7 105.1)">50</text>
<text x="190.1" y="105.1" text-anchor="end" transform="rotate(-45 190.1 105.1)">80</text>
<text x="204.5" y="105.1" text-anchor="end" transform="rotate(-45 204.5 105.1)">110</text>
<text x="218.9" y="105.1" text-anchor="end" transform="rotate(-45 218.9 105.1)">140</text>
<text x="149.3" y="59" font-size="8.5" text-anchor="middle" transform="rotate(-90 149.3 59)">Relative Frequency (%)</text>
<text x="199.7" y="124" text-anchor="middle">Diameter (nm)</text>
<text transform="translate(232.6,11.1) scale(1.12,1)" font-size="15.5" font-weight="bold" fill="#000" stroke="#000" stroke-width="0.5">c</text>
<line x1="271.2" y1="16.2" x2="271.2" y2="95.5" stroke="#222" stroke-width="1.3"/>
<line x1="268.2" y1="95.5" x2="271.2" y2="95.5" stroke="#222" stroke-width="1.3"/>
<line x1="268.2" y1="69.07" x2="271.2" y2="69.07" stroke="#222" stroke-width="1.3"/>
<line x1="268.2" y1="42.64" x2="271.2" y2="42.64" stroke="#222" stroke-width="1.3"/>
<line x1="268.2" y1="16.21" x2="271.2" y2="16.21" stroke="#222" stroke-width="1.3"/>
<text x="265.5" y="98.4" text-anchor="end">0</text>
<text x="262.5" y="71.97" text-anchor="end">1×10</text>
<text x="263" y="68.57" font-size="6.5">5</text>
<text x="262.5" y="45.54" text-anchor="end">2×10</text>
<text x="263" y="42.14" font-size="6.5">5</text>
<text x="262.5" y="19.11" text-anchor="end">3×10</text>
<text x="263" y="15.71" font-size="6.5">5</text>
<line x1="271.2" y1="95.5" x2="330.5" y2="95.5" stroke="#222" stroke-width="1.3"/>
<line x1="271.3" y1="95.5" x2="271.3" y2="98.5" stroke="#222" stroke-width="1.3"/>
<line x1="286.08" y1="95.5" x2="286.08" y2="98.5" stroke="#222" stroke-width="1.3"/>
<line x1="300.86" y1="95.5" x2="300.86" y2="98.5" stroke="#222" stroke-width="1.3"/>
<line x1="315.64" y1="95.5" x2="315.64" y2="98.5" stroke="#222" stroke-width="1.3"/>
<line x1="330.42" y1="95.5" x2="330.42" y2="98.5" stroke="#222" stroke-width="1.3"/>
<text x="271.3" y="108.3" text-anchor="middle">0</text>
<text x="286.08" y="108.3" text-anchor="middle">20</text>
<text x="300.86" y="108.3" text-anchor="middle">40</text>
<text x="315.64" y="108.3" text-anchor="middle">60</text>
<text x="330.42" y="108.3" text-anchor="middle">80</text>
<text x="305" y="118.3" text-anchor="middle">ζ-Potential (mV)</text>
<text x="238.5" y="59.8" text-anchor="middle" transform="rotate(-90 238.5 59.8)">Counts (kcps)</text>
<polyline points="279.6,95.3 282,95.3 284.6,90.9 287.2,67.8 290.1,45.8 292.7,38.1 295.5,23.7 297.8,22.7 300.4,47.4 303.4,72.7 305.9,88.5 308.5,94.5 311,95.3 313.5,95.3 316.3,95.3" fill="none" stroke="#ee1c24" stroke-width="1.3" stroke-dasharray="2.6,1.6"/>
<circle cx="279.6" cy="95.3" r="1.2" fill="#ee1c24"/>
<circle cx="282" cy="95.3" r="1" fill="#fff" stroke="#ee1c24" stroke-width="0.7"/>
<circle cx="284.6" cy="90.9" r="1.2" fill="#ee1c24"/>
<circle cx="287.2" cy="67.8" r="1" fill="#fff" stroke="#ee1c24" stroke-width="0.7"/>
<circle cx="290.1" cy="45.8" r="1.2" fill="#ee1c24"/>
<circle cx="292.7" cy="38.1" r="1" fill="#fff" stroke="#ee1c24" stroke-width="0.7"/>
<circle cx="295.5" cy="23.7" r="1.2" fill="#ee1c24"/>
<circle cx="297.8" cy="22.7" r="1" fill="#fff" stroke="#ee1c24" stroke-width="0.7"/>
<circle cx="300.4" cy="47.4" r="1.2" fill="#ee1c24"/>
<circle cx="303.4" cy="72.7" r="1" fill="#fff" stroke="#ee1c24" stroke-width="0.7"/>
<circle cx="305.9" cy="88.5" r="1.2" fill="#ee1c24"/>
<circle cx="308.5" cy="94.5" r="1" fill="#fff" stroke="#ee1c24" stroke-width="0.7"/>
<circle cx="311" cy="95.3" r="1.2" fill="#ee1c24"/>
<circle cx="313.5" cy="95.3" r="1" fill="#fff" stroke="#ee1c24" stroke-width="0.7"/>
<circle cx="316.3" cy="95.3" r="1.2" fill="#ee1c24"/>
<text transform="translate(334.7,10.5) scale(1.12,1)" font-size="15.5" font-weight="bold" fill="#000" stroke="#000" stroke-width="0.5">d</text>
<line x1="377.7" y1="15.2" x2="377.7" y2="94.5" stroke="#222" stroke-width="1.3"/>
<line x1="374.7" y1="94.5" x2="377.7" y2="94.5" stroke="#222" stroke-width="1.3"/>
<text x="373.1" y="97.45" text-anchor="end">0</text>
<line x1="374.7" y1="68.07" x2="377.7" y2="68.07" stroke="#222" stroke-width="1.3"/>
<text x="373.1" y="71.02" text-anchor="end">20</text>
<line x1="374.7" y1="41.63" x2="377.7" y2="41.63" stroke="#222" stroke-width="1.3"/>
<text x="373.1" y="44.58" text-anchor="end">40</text>
<line x1="374.7" y1="15.2" x2="377.7" y2="15.2" stroke="#222" stroke-width="1.3"/>
<text x="373.1" y="18.15" text-anchor="end">60</text>
<line x1="377.7" y1="94.5" x2="437" y2="94.5" stroke="#222" stroke-width="1.3"/>
<line x1="377.7" y1="94.5" x2="377.7" y2="97.5" stroke="#222" stroke-width="1.3"/>
<line x1="391.95" y1="94.5" x2="391.95" y2="97.5" stroke="#222" stroke-width="1.3"/>
<line x1="406.2" y1="94.5" x2="406.2" y2="97.5" stroke="#222" stroke-width="1.3"/>
<line x1="420.45" y1="94.5" x2="420.45" y2="97.5" stroke="#222" stroke-width="1.3"/>
<line x1="434.7" y1="94.5" x2="434.7" y2="97.5" stroke="#222" stroke-width="1.3"/>
<text x="377.7" y="107.7" text-anchor="middle">0</text>
<text x="391.95" y="107.7" text-anchor="middle">6</text>
<text x="406.2" y="107.7" text-anchor="middle">12</text>
<text x="420.45" y="107.7" text-anchor="middle">18</text>
<text x="434.7" y="107.7" text-anchor="middle">24</text>
<text x="407.5" y="117.4" text-anchor="middle">Time (h)</text>
<text x="357" y="59" text-anchor="middle" transform="rotate(-90 357 59)">Accumulative Fe Release &#160;(%)</text>
<polyline points="377.7,94.5 382.45,78.64 391.95,64.76 434.7,54.19" fill="none" stroke="#a47a3c" stroke-width="1.1"/>
<circle cx="377.7" cy="94.5" r="2.1" fill="#fff" stroke="#a47a3c" stroke-width="1"/>
<line x1="382.45" y1="74.67" x2="382.45" y2="82.6" stroke="#a47a3c" stroke-width="0.9"/>
<line x1="380.95" y1="74.67" x2="383.95" y2="74.67" stroke="#a47a3c" stroke-width="0.9"/>
<line x1="380.95" y1="82.6" x2="383.95" y2="82.6" stroke="#a47a3c" stroke-width="0.9"/>
<circle cx="382.45" cy="78.64" r="2.1" fill="#fff" stroke="#a47a3c" stroke-width="1"/>
<line x1="391.95" y1="60.8" x2="391.95" y2="68.73" stroke="#a47a3c" stroke-width="0.9"/>
<line x1="390.45" y1="60.8" x2="393.45" y2="60.8" stroke="#a47a3c" stroke-width="0.9"/>
<line x1="390.45" y1="68.73" x2="393.45" y2="68.73" stroke="#a47a3c" stroke-width="0.9"/>
<circle cx="391.95" cy="64.76" r="2.1" fill="#fff" stroke="#a47a3c" stroke-width="1"/>
<line x1="434.7" y1="50.22" x2="434.7" y2="58.15" stroke="#a47a3c" stroke-width="0.9"/>
<line x1="433.2" y1="50.22" x2="436.2" y2="50.22" stroke="#a47a3c" stroke-width="0.9"/>
<line x1="433.2" y1="58.15" x2="436.2" y2="58.15" stroke="#a47a3c" stroke-width="0.9"/>
<circle cx="434.7" cy="54.19" r="2.1" fill="#fff" stroke="#a47a3c" stroke-width="1"/>
<polyline points="377.7,94.5 382.45,74.67 391.95,69.39 434.7,62.78" fill="none" stroke="#a47a3c" stroke-width="1.1"/>
<circle cx="377.7" cy="94.5" r="2.3" fill="#a47a3c"/>
<line x1="382.45" y1="70.71" x2="382.45" y2="78.64" stroke="#a47a3c" stroke-width="0.9"/>
<line x1="380.95" y1="70.71" x2="383.95" y2="70.71" stroke="#a47a3c" stroke-width="0.9"/>
<line x1="380.95" y1="78.64" x2="383.95" y2="78.64" stroke="#a47a3c" stroke-width="0.9"/>
<circle cx="382.45" cy="74.67" r="2.3" fill="#a47a3c"/>
<line x1="391.95" y1="65.42" x2="391.95" y2="73.35" stroke="#a47a3c" stroke-width="0.9"/>
<line x1="390.45" y1="65.42" x2="393.45" y2="65.42" stroke="#a47a3c" stroke-width="0.9"/>
<line x1="390.45" y1="73.35" x2="393.45" y2="73.35" stroke="#a47a3c" stroke-width="0.9"/>
<circle cx="391.95" cy="69.39" r="2.3" fill="#a47a3c"/>
<line x1="434.7" y1="58.81" x2="434.7" y2="66.74" stroke="#a47a3c" stroke-width="0.9"/>
<line x1="433.2" y1="58.81" x2="436.2" y2="58.81" stroke="#a47a3c" stroke-width="0.9"/>
<line x1="433.2" y1="66.74" x2="436.2" y2="66.74" stroke="#a47a3c" stroke-width="0.9"/>
<circle cx="434.7" cy="62.78" r="2.3" fill="#a47a3c"/>
<polyline points="377.7,94.5 382.45,53.53 391.95,37.67 434.7,24.45" fill="none" stroke="#b31ee8" stroke-width="1.1"/>
<polygon points="375.5,96.26 379.9,96.26 377.7,92.52" fill="#fff" stroke="#b31ee8" stroke-width="1"/>
<line x1="382.45" y1="50.22" x2="382.45" y2="56.83" stroke="#b31ee8" stroke-width="0.9"/>
<line x1="380.95" y1="50.22" x2="383.95" y2="50.22" stroke="#b31ee8" stroke-width="0.9"/>
<line x1="380.95" y1="56.83" x2="383.95" y2="56.83" stroke="#b31ee8" stroke-width="0.9"/>
<polygon points="380.25,55.29 384.65,55.29 382.45,51.55" fill="#fff" stroke="#b31ee8" stroke-width="1"/>
<line x1="391.95" y1="32.38" x2="391.95" y2="42.95" stroke="#b31ee8" stroke-width="0.9"/>
<line x1="390.45" y1="32.38" x2="393.45" y2="32.38" stroke="#b31ee8" stroke-width="0.9"/>
<line x1="390.45" y1="42.95" x2="393.45" y2="42.95" stroke="#b31ee8" stroke-width="0.9"/>
<polygon points="389.75,39.43 394.15,39.43 391.95,35.69" fill="#fff" stroke="#b31ee8" stroke-width="1"/>
<line x1="434.7" y1="21.81" x2="434.7" y2="27.09" stroke="#b31ee8" stroke-width="0.9"/>
<line x1="433.2" y1="21.81" x2="436.2" y2="21.81" stroke="#b31ee8" stroke-width="0.9"/>
<line x1="433.2" y1="27.09" x2="436.2" y2="27.09" stroke="#b31ee8" stroke-width="0.9"/>
<polygon points="432.5,26.21 436.9,26.21 434.7,22.47" fill="#fff" stroke="#b31ee8" stroke-width="1"/>
<polyline points="377.7,94.5 382.45,66.74 391.95,63.44 434.7,56.83" fill="none" stroke="#b31ee8" stroke-width="1.1"/>
<polygon points="375.5,96.26 379.9,96.26 377.7,92.52" fill="#b31ee8" stroke="#b31ee8" stroke-width="0.5"/>
<line x1="382.45" y1="60.14" x2="382.45" y2="73.35" stroke="#b31ee8" stroke-width="0.9"/>
<line x1="380.95" y1="60.14" x2="383.95" y2="60.14" stroke="#b31ee8" stroke-width="0.9"/>
<line x1="380.95" y1="73.35" x2="383.95" y2="73.35" stroke="#b31ee8" stroke-width="0.9"/>
<polygon points="380.25,68.5 384.65,68.5 382.45,64.76" fill="#b31ee8" stroke="#b31ee8" stroke-width="0.5"/>
<line x1="391.95" y1="59.47" x2="391.95" y2="67.41" stroke="#b31ee8" stroke-width="0.9"/>
<line x1="390.45" y1="59.47" x2="393.45" y2="59.47" stroke="#b31ee8" stroke-width="0.9"/>
<line x1="390.45" y1="67.41" x2="393.45" y2="67.41" stroke="#b31ee8" stroke-width="0.9"/>
<polygon points="389.75,65.2 394.15,65.2 391.95,61.46" fill="#b31ee8" stroke="#b31ee8" stroke-width="0.5"/>
<line x1="434.7" y1="52.87" x2="434.7" y2="60.8" stroke="#b31ee8" stroke-width="0.9"/>
<line x1="433.2" y1="52.87" x2="436.2" y2="52.87" stroke="#b31ee8" stroke-width="0.9"/>
<line x1="433.2" y1="60.8" x2="436.2" y2="60.8" stroke="#b31ee8" stroke-width="0.9"/>
<polygon points="432.5,58.59 436.9,58.59 434.7,54.85" fill="#b31ee8" stroke="#b31ee8" stroke-width="0.5"/>
<polyline points="440.3,24.8 444,24.8 444,58.4 440.5,58.4" fill="none" stroke="#222" stroke-width="1.1"/>
<polyline points="440.5,51.2 440.5,65" fill="none" stroke="#222" stroke-width="1.1"/>
<text x="453.3" y="43.6" text-anchor="middle" transform="rotate(-90 453.3 43.6)">0.003</text>
<line x1="458.4" y1="19.7" x2="479.7" y2="19.7" stroke="#a47a3c" stroke-width="1.3"/>
<circle cx="468.9" cy="19.7" r="2.1" fill="#fff" stroke="#a47a3c" stroke-width="1"/>
<text x="492.3" y="17.7">SPIO</text>
<text x="492.3" y="27.6">(pH 5.2)</text>
<line x1="458.4" y1="46.6" x2="479.7" y2="46.6" stroke="#a47a3c" stroke-width="1.3"/>
<circle cx="468.9" cy="46.6" r="2.3" fill="#a47a3c"/>
<text x="492.3" y="44.9">SPIO</text>
<text x="492.3" y="54.5">(pH 7.4)</text>
<line x1="458.4" y1="73.3" x2="479.7" y2="73.3" stroke="#b31ee8" stroke-width="1.3"/>
<polygon points="466.7,75.06 471.1,75.06 468.9,71.32" fill="#fff" stroke="#b31ee8" stroke-width="1"/>
<text x="492.3" y="71.7">MOF-Fe</text>
<text x="492.3" y="80.5">(pH 5.2)</text>
<line x1="458.4" y1="99.5" x2="479.7" y2="99.5" stroke="#b31ee8" stroke-width="1.3"/>
<polygon points="466.7,101.26 471.1,101.26 468.9,97.52" fill="#b31ee8" stroke="#b31ee8" stroke-width="0.5"/>
<text x="492.3" y="97.9">MOF-Fe</text>
<text x="492.3" y="107">(pH 7.4)</text>
<text transform="translate(542.3,11) scale(1.12,1)" font-size="15.5" font-weight="bold" fill="#000" stroke="#000" stroke-width="0.5">e</text>
<line x1="585.8" y1="28.6" x2="585.8" y2="108" stroke="#222" stroke-width="1.3"/>
<line x1="582.8" y1="108" x2="585.8" y2="108" stroke="#222" stroke-width="1.3"/>
<text x="581.2" y="110.95" text-anchor="end">0</text>
<line x1="582.8" y1="91.6" x2="585.8" y2="91.6" stroke="#222" stroke-width="1.3"/>
<text x="581.2" y="94.55" text-anchor="end">25</text>
<line x1="582.8" y1="75.2" x2="585.8" y2="75.2" stroke="#222" stroke-width="1.3"/>
<text x="581.2" y="78.15" text-anchor="end">50</text>
<line x1="582.8" y1="58.8" x2="585.8" y2="58.8" stroke="#222" stroke-width="1.3"/>
<text x="581.2" y="61.75" text-anchor="end">75</text>
<line x1="582.8" y1="42.4" x2="585.8" y2="42.4" stroke="#222" stroke-width="1.3"/>
<text x="581.2" y="45.35" text-anchor="end">100</text>
<line x1="583.5" y1="108" x2="683" y2="108" stroke="#222" stroke-width="1.3"/>
<circle cx="563" cy="14" r="2" fill="#a47a3c"/>
<text x="586.1" y="16.9">SPIO</text>
<polygon points="620.6,16 624.6,16 622.6,12.6" fill="#fff" stroke="#b31ee8" stroke-width="0.9"/>
<text x="645.9" y="16.9">MOF-Fe</text>
<line x1="600.1" y1="108" x2="600.1" y2="111" stroke="#111" stroke-width="1"/>
<rect x="591.4" y="43.06" width="8" height="64.94" fill="#ece4c6" stroke="#a47a3c" stroke-width="1.2"/>
<rect x="600.6" y="43.06" width="7.6" height="64.94" fill="#efcdf7" stroke="#b31ee8" stroke-width="1.2"/>
<line x1="595.7" y1="43.06" x2="595.7" y2="41.09" stroke="#a47a3c" stroke-width="1.1"/>
<line x1="593.7" y1="41.09" x2="597.7" y2="41.09" stroke="#a47a3c" stroke-width="1.1"/>
<line x1="604.9" y1="43.06" x2="604.9" y2="42.4" stroke="#b31ee8" stroke-width="1.1"/>
<line x1="602.9" y1="42.4" x2="606.9" y2="42.4" stroke="#b31ee8" stroke-width="1.1"/>
<circle cx="593.4" cy="45.02" r="2.1" fill="#a47a3c"/>
<circle cx="595.7" cy="42.4" r="2.1" fill="#a47a3c"/>
<circle cx="598" cy="38.46" r="2.1" fill="#a47a3c"/>
<polygon points="600.7,45.23 604.5,45.23 602.6,42" fill="#efcdf7" stroke="#b31ee8" stroke-width="1"/>
<polygon points="603,44.58 606.8,44.58 604.9,41.35" fill="#efcdf7" stroke="#b31ee8" stroke-width="1"/>
<polygon points="605.3,43.26 609.1,43.26 607.2,40.03" fill="#efcdf7" stroke="#b31ee8" stroke-width="1"/>
<line x1="623.3" y1="108" x2="623.3" y2="111" stroke="#111" stroke-width="1"/>
<rect x="614.6" y="45.68" width="8" height="62.32" fill="#ece4c6" stroke="#a47a3c" stroke-width="1.2"/>
<rect x="623.8" y="60.77" width="7.6" height="47.23" fill="#efcdf7" stroke="#b31ee8" stroke-width="1.2"/>
<line x1="618.9" y1="45.68" x2="618.9" y2="42.4" stroke="#a47a3c" stroke-width="1.1"/>
<line x1="616.9" y1="42.4" x2="620.9" y2="42.4" stroke="#a47a3c" stroke-width="1.1"/>
<line x1="628.1" y1="60.77" x2="628.1" y2="56.83" stroke="#b31ee8" stroke-width="1.1"/>
<line x1="626.1" y1="56.83" x2="630.1" y2="56.83" stroke="#b31ee8" stroke-width="1.1"/>
<circle cx="616.6" cy="48.96" r="2.1" fill="#a47a3c"/>
<circle cx="618.9" cy="45.02" r="2.1" fill="#a47a3c"/>
<circle cx="621.2" cy="39.78" r="2.1" fill="#a47a3c"/>
<polygon points="623.9,66.88 627.7,66.88 625.8,63.65" fill="#efcdf7" stroke="#b31ee8" stroke-width="1"/>
<polygon points="626.2,63.6 630,63.6 628.1,60.37" fill="#efcdf7" stroke="#b31ee8" stroke-width="1"/>
<polygon points="628.5,55.73 632.3,55.73 630.4,52.5" fill="#efcdf7" stroke="#b31ee8" stroke-width="1"/>
<line x1="647.2" y1="108" x2="647.2" y2="111" stroke="#111" stroke-width="1"/>
<rect x="638.5" y="43.06" width="8" height="64.94" fill="#ece4c6" stroke="#a47a3c" stroke-width="1.2"/>
<rect x="647.7" y="74.54" width="7.6" height="33.46" fill="#efcdf7" stroke="#b31ee8" stroke-width="1.2"/>
<line x1="642.8" y1="43.06" x2="642.8" y2="42.4" stroke="#a47a3c" stroke-width="1.1"/>
<line x1="640.8" y1="42.4" x2="644.8" y2="42.4" stroke="#a47a3c" stroke-width="1.1"/>
<line x1="652" y1="74.54" x2="652" y2="70.61" stroke="#b31ee8" stroke-width="1.1"/>
<line x1="650" y1="70.61" x2="654" y2="70.61" stroke="#b31ee8" stroke-width="1.1"/>
<circle cx="640.5" cy="43.71" r="2.1" fill="#a47a3c"/>
<circle cx="642.8" cy="43.06" r="2.1" fill="#a47a3c"/>
<circle cx="645.1" cy="42.4" r="2.1" fill="#a47a3c"/>
<polygon points="647.8,80 651.6,80 649.7,76.77" fill="#efcdf7" stroke="#b31ee8" stroke-width="1"/>
<polygon points="650.1,77.38 653.9,77.38 652,74.15" fill="#efcdf7" stroke="#b31ee8" stroke-width="1"/>
<polygon points="652.4,69.5 656.2,69.5 654.3,66.27" fill="#efcdf7" stroke="#b31ee8" stroke-width="1"/>
<line x1="670.5" y1="108" x2="670.5" y2="111" stroke="#111" stroke-width="1"/>
<rect x="661.8" y="52.24" width="8" height="55.76" fill="#ece4c6" stroke="#a47a3c" stroke-width="1.2"/>
<rect x="671" y="92.26" width="7.6" height="15.74" fill="#efcdf7" stroke="#b31ee8" stroke-width="1.2"/>
<line x1="666.1" y1="52.24" x2="666.1" y2="45.68" stroke="#a47a3c" stroke-width="1.1"/>
<line x1="664.1" y1="45.68" x2="668.1" y2="45.68" stroke="#a47a3c" stroke-width="1.1"/>
<line x1="675.3" y1="92.26" x2="675.3" y2="90.29" stroke="#b31ee8" stroke-width="1.1"/>
<line x1="673.3" y1="90.29" x2="677.3" y2="90.29" stroke="#b31ee8" stroke-width="1.1"/>
<circle cx="663.8" cy="57.49" r="2.1" fill="#a47a3c"/>
<circle cx="666.1" cy="55.52" r="2.1" fill="#a47a3c"/>
<circle cx="668.4" cy="41.74" r="2.1" fill="#a47a3c"/>
<polygon points="671.1,96.4 674.9,96.4 673,93.17" fill="#efcdf7" stroke="#b31ee8" stroke-width="1"/>
<polygon points="673.4,94.43 677.2,94.43 675.3,91.2" fill="#efcdf7" stroke="#b31ee8" stroke-width="1"/>
<polygon points="675.7,89.84 679.5,89.84 677.6,86.61" fill="#efcdf7" stroke="#b31ee8" stroke-width="1"/>
<text x="600.1" y="120.3" text-anchor="middle">0</text>
<text x="623.3" y="120.3" text-anchor="middle">0.1</text>
<text x="647.2" y="120.3" text-anchor="middle">0.3</text>
<text x="670.5" y="120.3" text-anchor="middle">1.0</text>
<text x="623.4" y="29.1" text-anchor="middle">0.03</text>
<text x="646.2" y="29.1" text-anchor="middle">0.002</text>
<text x="671.2" y="29.1" text-anchor="middle">0.004</text>
<polyline points="618.3,34.5 618.3,32.5 629.4,32.5 629.4,34.5" fill="none" stroke="#111" stroke-width="1"/>
<polyline points="641,34.5 641,32.5 652,32.5 652,34.5" fill="none" stroke="#111" stroke-width="1"/>
<polyline points="665,34.5 665,32.5 676,32.5 676,34.5" fill="none" stroke="#111" stroke-width="1"/>
<text x="634.8" y="127.6" text-anchor="middle">Equivalent [Fe] (µg/mL)</text>
<text x="567" y="73" text-anchor="middle" transform="rotate(-90 567 73)">#Colonies by Panc-1 (%)</text>
<text transform="translate(1.3,150.8) scale(1.12,1)" font-size="15.5" font-weight="bold" fill="#000" stroke="#000" stroke-width="0.5">f</text>
<text x="40.5" y="154.8" text-anchor="middle">Control</text>
<text x="115.7" y="154.8" text-anchor="middle">SPIO</text>
<text x="191.5" y="154.8" text-anchor="middle">MOF-Fe</text>
<rect x="5" y="158" width="71" height="71" fill="#070000"/>
<rect x="80.2" y="158" width="71" height="71" fill="#130003"/>
<rect x="156" y="158" width="71" height="71" fill="#000" filter="url(#fm)"/>
<g filter="url(#blur5)">
<circle cx="34.68" cy="187.9" r="0.92" fill="#6a0000" opacity="0.37"/>
<circle cx="32.26" cy="190.4" r="1" fill="#6a0000" opacity="0.38"/>
<circle cx="25.6" cy="179.86" r="0.6" fill="#6a0000" opacity="0.33"/>
<circle cx="28.05" cy="178.84" r="1" fill="#6a0000" opacity="0.28"/>
<circle cx="30.19" cy="181.75" r="1.1" fill="#6a0000" opacity="0.46"/>
<circle cx="35.87" cy="174.13" r="0.62" fill="#6a0000" opacity="0.32"/>
<circle cx="27.02" cy="180.05" r="1.08" fill="#6a0000" opacity="0.33"/>
<circle cx="36.23" cy="189.15" r="0.66" fill="#6a0000" opacity="0.52"/>
<circle cx="22.72" cy="182.21" r="0.77" fill="#6a0000" opacity="0.37"/>
<circle cx="30.64" cy="181.52" r="1.03" fill="#6a0000" opacity="0.28"/>
<circle cx="30.78" cy="175.97" r="1.08" fill="#6a0000" opacity="0.51"/>
<circle cx="30.31" cy="169.83" r="0.89" fill="#6a0000" opacity="0.46"/>
<circle cx="34.9" cy="184.75" r="1.01" fill="#6a0000" opacity="0.27"/>
<circle cx="41.11" cy="174.18" r="0.8" fill="#6a0000" opacity="0.33"/>
<circle cx="24.35" cy="181.78" r="1.1" fill="#6a0000" opacity="0.34"/>
<circle cx="32.62" cy="180.45" r="0.96" fill="#6a0000" opacity="0.55"/>
<circle cx="23.02" cy="180.17" r="0.88" fill="#6a0000" opacity="0.46"/>
<circle cx="31.44" cy="188.09" r="0.88" fill="#6a0000" opacity="0.42"/>
<circle cx="31.55" cy="183.32" r="0.77" fill="#6a0000" opacity="0.52"/>
<circle cx="25.38" cy="186.65" r="0.75" fill="#6a0000" opacity="0.24"/>
<circle cx="40.08" cy="184.41" r="0.99" fill="#6a0000" opacity="0.33"/>
<circle cx="26.34" cy="171.77" r="1.05" fill="#6a0000" opacity="0.54"/>
<circle cx="14.95" cy="189.95" r="1.08" fill="#6a0000" opacity="0.41"/>
<circle cx="35.18" cy="175.33" r="0.79" fill="#6a0000" opacity="0.29"/>
<circle cx="32.54" cy="177.49" r="0.63" fill="#6a0000" opacity="0.48"/>
<circle cx="31.03" cy="173.18" r="1.02" fill="#6a0000" opacity="0.22"/>
<circle cx="29.75" cy="184.96" r="0.81" fill="#6a0000" opacity="0.26"/>
<circle cx="34.94" cy="182.3" r="1.05" fill="#6a0000" opacity="0.54"/>
<circle cx="29.82" cy="173.15" r="0.73" fill="#6a0000" opacity="0.54"/>
<circle cx="20.44" cy="178.45" r="0.61" fill="#6a0000" opacity="0.27"/>
<circle cx="35.63" cy="170.92" r="1.04" fill="#6a0000" opacity="0.41"/>
<circle cx="22.92" cy="183.55" r="1.02" fill="#6a0000" opacity="0.31"/>
<circle cx="25.29" cy="178.97" r="0.98" fill="#6a0000" opacity="0.20"/>
<circle cx="24.11" cy="166.33" r="0.61" fill="#6a0000" opacity="0.41"/>
<circle cx="22.75" cy="170.79" r="0.89" fill="#6a0000" opacity="0.29"/>
<circle cx="17.44" cy="188.47" r="1.05" fill="#6a0000" opacity="0.25"/>
<circle cx="32.21" cy="181.5" r="0.61" fill="#6a0000" opacity="0.36"/>
<circle cx="37.64" cy="189.33" r="0.93" fill="#6a0000" opacity="0.24"/>
<circle cx="24.84" cy="178.72" r="0.85" fill="#6a0000" opacity="0.28"/>
<circle cx="31.93" cy="183.31" r="0.79" fill="#6a0000" opacity="0.45"/>
<circle cx="28.25" cy="179.43" r="0.96" fill="#6a0000" opacity="0.51"/>
<circle cx="31.61" cy="169.51" r="0.6" fill="#6a0000" opacity="0.36"/>
<circle cx="39.39" cy="183.96" r="0.69" fill="#6a0000" opacity="0.45"/>
<circle cx="29.83" cy="189.27" r="0.76" fill="#6a0000" opacity="0.21"/>
<circle cx="26.05" cy="183.32" r="1.05" fill="#6a0000" opacity="0.30"/>
<circle cx="44.7" cy="185.76" r="1.07" fill="#6a0000" opacity="0.23"/>
<circle cx="45.97" cy="179.21" r="0.97" fill="#6a0000" opacity="0.54"/>
<circle cx="47.6" cy="199.83" r="0.86" fill="#6a0000" opacity="0.40"/>
<circle cx="57.1" cy="192.87" r="1.09" fill="#6a0000" opacity="0.32"/>
<circle cx="44.49" cy="213.6" r="0.65" fill="#6a0000" opacity="0.23"/>
<circle cx="56.9" cy="193.83" r="0.98" fill="#6a0000" opacity="0.36"/>
<circle cx="49.39" cy="184.67" r="0.92" fill="#6a0000" opacity="0.35"/>
<circle cx="45.85" cy="184.96" r="0.8" fill="#6a0000" opacity="0.28"/>
<circle cx="54.27" cy="189.09" r="0.72" fill="#6a0000" opacity="0.45"/>
<circle cx="52.76" cy="171.96" r="0.83" fill="#6a0000" opacity="0.28"/>
<circle cx="46.35" cy="193.31" r="0.92" fill="#6a0000" opacity="0.54"/>
<circle cx="54.13" cy="191.61" r="0.85" fill="#6a0000" opacity="0.45"/>
<circle cx="55.64" cy="175.4" r="0.91" fill="#6a0000" opacity="0.47"/>
<circle cx="45.91" cy="169.47" r="0.95" fill="#6a0000" opacity="0.44"/>
<circle cx="50.28" cy="207.39" r="0.79" fill="#6a0000" opacity="0.42"/>
<circle cx="54.9" cy="163.96" r="1.09" fill="#6a0000" opacity="0.20"/>
<circle cx="48.61" cy="193.66" r="0.8" fill="#6a0000" opacity="0.25"/>
<circle cx="48.39" cy="184.72" r="0.75" fill="#6a0000" opacity="0.53"/>
<circle cx="49.78" cy="175.32" r="0.65" fill="#6a0000" opacity="0.53"/>
<circle cx="49.19" cy="179.75" r="0.77" fill="#6a0000" opacity="0.42"/>
<circle cx="48.64" cy="179.21" r="1.08" fill="#6a0000" opacity="0.31"/>
<circle cx="49.78" cy="204.54" r="0.68" fill="#6a0000" opacity="0.44"/>
<circle cx="51.76" cy="198.32" r="0.74" fill="#6a0000" opacity="0.33"/>
<circle cx="54.39" cy="182.08" r="0.82" fill="#6a0000" opacity="0.42"/>
<circle cx="49.5" cy="191.83" r="0.79" fill="#6a0000" opacity="0.30"/>
<circle cx="54.03" cy="208.63" r="0.62" fill="#6a0000" opacity="0.48"/>
<circle cx="56.02" cy="180.02" r="0.61" fill="#6a0000" opacity="0.38"/>
<circle cx="55.57" cy="189.21" r="0.95" fill="#6a0000" opacity="0.28"/>
<circle cx="55.26" cy="186.57" r="0.65" fill="#6a0000" opacity="0.31"/>
<circle cx="41.46" cy="191.79" r="0.79" fill="#6a0000" opacity="0.25"/>
<circle cx="52.02" cy="168.76" r="0.86" fill="#6a0000" opacity="0.22"/>
<circle cx="51.63" cy="195.01" r="0.88" fill="#6a0000" opacity="0.28"/>
<circle cx="52.61" cy="168.5" r="1.06" fill="#6a0000" opacity="0.51"/>
<circle cx="55.51" cy="187.4" r="0.64" fill="#6a0000" opacity="0.51"/>
<circle cx="49.86" cy="169.8" r="0.69" fill="#6a0000" opacity="0.22"/>
<circle cx="52.28" cy="173.97" r="0.91" fill="#6a0000" opacity="0.36"/>
<circle cx="51.18" cy="177.71" r="0.73" fill="#6a0000" opacity="0.32"/>
<circle cx="48.25" cy="198.88" r="1.05" fill="#6a0000" opacity="0.22"/>
<circle cx="54.58" cy="190.74" r="0.94" fill="#6a0000" opacity="0.27"/>
<circle cx="49.82" cy="189.31" r="0.62" fill="#6a0000" opacity="0.37"/>
<circle cx="47.42" cy="173.33" r="0.68" fill="#6a0000" opacity="0.24"/>
<circle cx="54.74" cy="180.98" r="0.8" fill="#6a0000" opacity="0.44"/>
<circle cx="49.29" cy="174.41" r="0.64" fill="#6a0000" opacity="0.49"/>
<circle cx="50.27" cy="188.69" r="0.78" fill="#6a0000" opacity="0.39"/>
<circle cx="48.2" cy="181.72" r="0.95" fill="#6a0000" opacity="0.37"/>
<circle cx="40.07" cy="207.99" r="1" fill="#6a0000" opacity="0.52"/>
<circle cx="36.1" cy="203.86" r="0.99" fill="#6a0000" opacity="0.52"/>
<circle cx="30.58" cy="204.18" r="1.09" fill="#6a0000" opacity="0.34"/>
<circle cx="43.58" cy="203.49" r="1" fill="#6a0000" opacity="0.20"/>
<circle cx="34.53" cy="206.99" r="0.9" fill="#6a0000" opacity="0.46"/>
<circle cx="35.93" cy="204.15" r="1.07" fill="#6a0000" opacity="0.39"/>
<circle cx="38.5" cy="204.17" r="1.1" fill="#6a0000" opacity="0.39"/>
<circle cx="37.79" cy="202.08" r="1.04" fill="#6a0000" opacity="0.33"/>
<circle cx="39.65" cy="205.91" r="0.69" fill="#6a0000" opacity="0.39"/>
<circle cx="38.13" cy="203.43" r="0.67" fill="#6a0000" opacity="0.21"/>
<circle cx="68.3" cy="204.37" r="0.61" fill="#6a0000" opacity="0.43"/>
<circle cx="69.07" cy="204.28" r="1.06" fill="#6a0000" opacity="0.38"/>
<circle cx="18.14" cy="163.12" r="0.66" fill="#6a0000" opacity="0.28"/>
<circle cx="15.47" cy="164.79" r="0.99" fill="#6a0000" opacity="0.46"/>
<circle cx="92.59" cy="166.28" r="0.77" fill="#5e0000" opacity="0.40"/>
<circle cx="91.38" cy="170.31" r="0.82" fill="#5e0000" opacity="0.43"/>
<circle cx="100.73" cy="172.47" r="0.83" fill="#5e0000" opacity="0.57"/>
<circle cx="93.71" cy="160.31" r="1" fill="#5e0000" opacity="0.40"/>
<circle cx="93.96" cy="170.32" r="0.87" fill="#5e0000" opacity="0.48"/>
<circle cx="83.09" cy="160.35" r="0.68" fill="#5e0000" opacity="0.34"/>
<circle cx="93.54" cy="159.08" r="0.79" fill="#5e0000" opacity="0.27"/>
<circle cx="89.58" cy="178.16" r="0.8" fill="#5e0000" opacity="0.43"/>
<circle cx="90.31" cy="175.4" r="0.84" fill="#5e0000" opacity="0.53"/>
<circle cx="98.18" cy="162.5" r="0.75" fill="#5e0000" opacity="0.35"/>
<circle cx="95.47" cy="159.57" r="0.97" fill="#5e0000" opacity="0.33"/>
<circle cx="98.56" cy="159.68" r="0.63" fill="#5e0000" opacity="0.37"/>
<circle cx="92.85" cy="167.49" r="0.93" fill="#5e0000" opacity="0.36"/>
<circle cx="92.96" cy="165.42" r="0.69" fill="#5e0000" opacity="0.33"/>
<circle cx="88.51" cy="170.14" r="0.69" fill="#5e0000" opacity="0.52"/>
<circle cx="91.54" cy="177.47" r="0.75" fill="#5e0000" opacity="0.33"/>
<circle cx="94.99" cy="171.6" r="0.88" fill="#5e0000" opacity="0.42"/>
<circle cx="99.51" cy="178.65" r="0.86" fill="#5e0000" opacity="0.26"/>
<circle cx="93.44" cy="162.04" r="0.78" fill="#5e0000" opacity="0.45"/>
<circle cx="97.59" cy="168.63" r="0.85" fill="#5e0000" opacity="0.50"/>
<circle cx="91.99" cy="174.13" r="0.9" fill="#5e0000" opacity="0.50"/>
<circle cx="90.03" cy="171.93" r="0.69" fill="#5e0000" opacity="0.57"/>
<circle cx="99.33" cy="171.07" r="0.78" fill="#5e0000" opacity="0.34"/>
<circle cx="90.13" cy="165.88" r="0.63" fill="#5e0000" opacity="0.45"/>
<circle cx="97.48" cy="179.26" r="0.73" fill="#5e0000" opacity="0.38"/>
<circle cx="94.44" cy="171.84" r="0.67" fill="#5e0000" opacity="0.31"/>
<circle cx="89.24" cy="161.82" r="0.69" fill="#5e0000" opacity="0.29"/>
<circle cx="92.46" cy="169.36" r="0.76" fill="#5e0000" opacity="0.55"/>
<circle cx="95.82" cy="178.91" r="0.82" fill="#5e0000" opacity="0.28"/>
<circle cx="94.43" cy="178.11" r="0.64" fill="#5e0000" opacity="0.33"/>
<circle cx="103.39" cy="166.92" r="0.81" fill="#5e0000" opacity="0.52"/>
<circle cx="118.29" cy="170.17" r="0.73" fill="#5e0000" opacity="0.62"/>
<circle cx="106.62" cy="174.92" r="0.61" fill="#5e0000" opacity="0.45"/>
<circle cx="121.2" cy="166.1" r="0.83" fill="#5e0000" opacity="0.32"/>
<circle cx="115.39" cy="169.34" r="0.99" fill="#5e0000" opacity="0.56"/>
<circle cx="111.8" cy="165.65" r="0.67" fill="#5e0000" opacity="0.39"/>
<circle cx="108.69" cy="165.49" r="0.76" fill="#5e0000" opacity="0.57"/>
<circle cx="117.86" cy="170.98" r="0.64" fill="#5e0000" opacity="0.38"/>
<circle cx="115.88" cy="164.19" r="0.66" fill="#5e0000" opacity="0.37"/>
<circle cx="119.93" cy="173.43" r="0.78" fill="#5e0000" opacity="0.34"/>
<circle cx="104.75" cy="175.12" r="0.77" fill="#5e0000" opacity="0.53"/>
<circle cx="108.48" cy="167.07" r="0.82" fill="#5e0000" opacity="0.40"/>
<circle cx="115.43" cy="173.99" r="0.72" fill="#5e0000" opacity="0.38"/>
<circle cx="118.35" cy="177.34" r="0.77" fill="#5e0000" opacity="0.33"/>
<circle cx="117.28" cy="170.5" r="0.95" fill="#5e0000" opacity="0.38"/>
<circle cx="111.04" cy="167.74" r="0.86" fill="#5e0000" opacity="0.43"/>
<circle cx="112.57" cy="165.6" r="0.75" fill="#5e0000" opacity="0.36"/>
<circle cx="103.8" cy="166.2" r="0.88" fill="#5e0000" opacity="0.44"/>
<circle cx="107.21" cy="176.68" r="0.94" fill="#5e0000" opacity="0.31"/>
<circle cx="108.76" cy="164.41" r="0.87" fill="#5e0000" opacity="0.64"/>
<circle cx="116.47" cy="168.14" r="1" fill="#5e0000" opacity="0.38"/>
<circle cx="101.24" cy="176.75" r="0.67" fill="#5e0000" opacity="0.41"/>
<circle cx="109.83" cy="167.96" r="0.71" fill="#5e0000" opacity="0.57"/>
<circle cx="105.67" cy="166.14" r="0.92" fill="#5e0000" opacity="0.60"/>
<circle cx="121.97" cy="165.84" r="0.99" fill="#5e0000" opacity="0.45"/>
<circle cx="111.04" cy="165.87" r="0.99" fill="#5e0000" opacity="0.51"/>
<circle cx="105.17" cy="172.25" r="0.72" fill="#5e0000" opacity="0.30"/>
<circle cx="110.74" cy="171.28" r="0.6" fill="#5e0000" opacity="0.29"/>
<circle cx="103.43" cy="171.73" r="0.62" fill="#5e0000" opacity="0.50"/>
<circle cx="118.69" cy="172.77" r="0.72" fill="#5e0000" opacity="0.43"/>
<circle cx="111.73" cy="166.39" r="0.76" fill="#5e0000" opacity="0.54"/>
<circle cx="117.35" cy="172.22" r="0.88" fill="#5e0000" opacity="0.58"/>
<circle cx="117.79" cy="169.64" r="0.85" fill="#5e0000" opacity="0.38"/>
<circle cx="109.74" cy="163.35" r="0.65" fill="#5e0000" opacity="0.39"/>
<circle cx="118.35" cy="168.69" r="0.85" fill="#5e0000" opacity="0.58"/>
<circle cx="111.32" cy="176.2" r="0.6" fill="#5e0000" opacity="0.39"/>
<circle cx="115.96" cy="172.87" r="0.69" fill="#5e0000" opacity="0.26"/>
<circle cx="114.41" cy="167.9" r="0.83" fill="#5e0000" opacity="0.47"/>
<circle cx="120" cy="164.34" r="0.85" fill="#5e0000" opacity="0.32"/>
<circle cx="113.38" cy="168.37" r="0.97" fill="#5e0000" opacity="0.37"/>
<circle cx="113.13" cy="172.52" r="0.76" fill="#5e0000" opacity="0.57"/>
<circle cx="119.28" cy="165.29" r="0.89" fill="#5e0000" opacity="0.35"/>
<circle cx="110.99" cy="172.76" r="0.77" fill="#5e0000" opacity="0.60"/>
<circle cx="115.71" cy="169.96" r="0.99" fill="#5e0000" opacity="0.62"/>
<circle cx="104.26" cy="171.34" r="0.91" fill="#5e0000" opacity="0.32"/>
<circle cx="100.53" cy="163.23" r="0.95" fill="#5e0000" opacity="0.61"/>
<circle cx="121.39" cy="172.89" r="0.79" fill="#5e0000" opacity="0.61"/>
<circle cx="116.98" cy="173.94" r="0.65" fill="#5e0000" opacity="0.57"/>
<circle cx="112.94" cy="169.11" r="0.72" fill="#5e0000" opacity="0.31"/>
<circle cx="107.62" cy="166.18" r="0.63" fill="#5e0000" opacity="0.63"/>
<circle cx="113.51" cy="192.6" r="0.83" fill="#5e0000" opacity="0.40"/>
<circle cx="102.45" cy="190.26" r="0.78" fill="#5e0000" opacity="0.55"/>
<circle cx="109.16" cy="198.65" r="0.91" fill="#5e0000" opacity="0.34"/>
<circle cx="119.2" cy="199.54" r="0.66" fill="#5e0000" opacity="0.41"/>
<circle cx="105.38" cy="198.31" r="0.74" fill="#5e0000" opacity="0.46"/>
<circle cx="112.72" cy="198.93" r="0.62" fill="#5e0000" opacity="0.28"/>
<circle cx="108.52" cy="198.25" r="0.74" fill="#5e0000" opacity="0.37"/>
<circle cx="111.76" cy="186.49" r="0.79" fill="#5e0000" opacity="0.56"/>
<circle cx="105.15" cy="189.2" r="0.85" fill="#5e0000" opacity="0.55"/>
<circle cx="97.41" cy="191.85" r="0.85" fill="#5e0000" opacity="0.62"/>
<circle cx="106.41" cy="202.92" r="0.99" fill="#5e0000" opacity="0.46"/>
<circle cx="109.42" cy="192.5" r="0.89" fill="#5e0000" opacity="0.36"/>
<circle cx="107.21" cy="187.7" r="0.81" fill="#5e0000" opacity="0.35"/>
<circle cx="106.67" cy="206.01" r="0.86" fill="#5e0000" opacity="0.50"/>
<circle cx="110.93" cy="197.32" r="0.99" fill="#5e0000" opacity="0.33"/>
<circle cx="98.19" cy="191.82" r="0.8" fill="#5e0000" opacity="0.47"/>
<circle cx="117.48" cy="192.05" r="0.69" fill="#5e0000" opacity="0.42"/>
<circle cx="99.23" cy="198.4" r="0.87" fill="#5e0000" opacity="0.35"/>
<circle cx="104.94" cy="188.04" r="0.61" fill="#5e0000" opacity="0.37"/>
<circle cx="104.36" cy="196.78" r="0.87" fill="#5e0000" opacity="0.65"/>
<circle cx="114.89" cy="190.47" r="0.94" fill="#5e0000" opacity="0.45"/>
<circle cx="96.33" cy="187.42" r="0.62" fill="#5e0000" opacity="0.39"/>
<circle cx="103.35" cy="197.9" r="0.77" fill="#5e0000" opacity="0.27"/>
<circle cx="100.72" cy="180.43" r="0.69" fill="#5e0000" opacity="0.32"/>
<circle cx="101.77" cy="203.23" r="0.69" fill="#5e0000" opacity="0.56"/>
<circle cx="110.97" cy="201.13" r="0.89" fill="#5e0000" opacity="0.52"/>
<circle cx="120.16" cy="201.61" r="0.94" fill="#5e0000" opacity="0.44"/>
<circle cx="112.36" cy="187.71" r="0.67" fill="#5e0000" opacity="0.41"/>
<circle cx="110.08" cy="187.95" r="0.62" fill="#5e0000" opacity="0.32"/>
<circle cx="110.31" cy="201.34" r="0.86" fill="#5e0000" opacity="0.43"/>
<circle cx="94.54" cy="202.75" r="0.74" fill="#5e0000" opacity="0.52"/>
<circle cx="109.23" cy="200.92" r="0.67" fill="#5e0000" opacity="0.30"/>
<circle cx="105.66" cy="196.54" r="0.75" fill="#5e0000" opacity="0.51"/>
<circle cx="97.01" cy="190.75" r="0.79" fill="#5e0000" opacity="0.28"/>
<circle cx="106.34" cy="187.98" r="0.9" fill="#5e0000" opacity="0.64"/>
<circle cx="102.7" cy="193.31" r="0.74" fill="#5e0000" opacity="0.45"/>
<circle cx="106.03" cy="196.52" r="0.76" fill="#5e0000" opacity="0.51"/>
<circle cx="111.29" cy="184.7" r="0.95" fill="#5e0000" opacity="0.57"/>
<circle cx="99.88" cy="198.56" r="0.62" fill="#5e0000" opacity="0.57"/>
<circle cx="105.97" cy="189.45" r="0.79" fill="#5e0000" opacity="0.36"/>
<circle cx="108.97" cy="187.92" r="0.91" fill="#5e0000" opacity="0.62"/>
<circle cx="108.21" cy="188.22" r="0.74" fill="#5e0000" opacity="0.63"/>
<circle cx="110.41" cy="191.8" r="0.74" fill="#5e0000" opacity="0.57"/>
<circle cx="107.4" cy="189.11" r="0.78" fill="#5e0000" opacity="0.63"/>
<circle cx="111.25" cy="196.58" r="0.87" fill="#5e0000" opacity="0.61"/>
<circle cx="113.58" cy="191.79" r="0.92" fill="#5e0000" opacity="0.64"/>
<circle cx="105.14" cy="197.78" r="0.7" fill="#5e0000" opacity="0.56"/>
<circle cx="112.03" cy="199.8" r="0.97" fill="#5e0000" opacity="0.33"/>
<circle cx="102.11" cy="188.67" r="0.99" fill="#5e0000" opacity="0.46"/>
<circle cx="94.25" cy="194.74" r="0.9" fill="#5e0000" opacity="0.31"/>
<circle cx="109.21" cy="188.29" r="0.99" fill="#5e0000" opacity="0.64"/>
<circle cx="100.98" cy="194.27" r="0.69" fill="#5e0000" opacity="0.36"/>
<circle cx="108.19" cy="197.5" r="0.89" fill="#5e0000" opacity="0.27"/>
<circle cx="100.61" cy="189.29" r="0.89" fill="#5e0000" opacity="0.48"/>
<circle cx="111.58" cy="191.85" r="0.64" fill="#5e0000" opacity="0.48"/>
<circle cx="105.04" cy="211.73" r="0.97" fill="#5e0000" opacity="0.53"/>
<circle cx="109.45" cy="190.11" r="0.79" fill="#5e0000" opacity="0.40"/>
<circle cx="103.93" cy="198.8" r="0.79" fill="#5e0000" opacity="0.51"/>
<circle cx="114.58" cy="195.18" r="0.65" fill="#5e0000" opacity="0.64"/>
<circle cx="99.62" cy="191.44" r="0.73" fill="#5e0000" opacity="0.53"/>
<circle cx="103.93" cy="181.24" r="0.83" fill="#5e0000" opacity="0.36"/>
<circle cx="105.87" cy="192.61" r="0.9" fill="#5e0000" opacity="0.37"/>
<circle cx="106.59" cy="190.87" r="0.84" fill="#5e0000" opacity="0.32"/>
<circle cx="111.77" cy="195.07" r="0.94" fill="#5e0000" opacity="0.41"/>
<circle cx="96.7" cy="192.48" r="0.99" fill="#5e0000" opacity="0.35"/>
<circle cx="103.6" cy="184.17" r="0.92" fill="#5e0000" opacity="0.39"/>
<circle cx="96.83" cy="195.68" r="0.7" fill="#5e0000" opacity="0.44"/>
<circle cx="99.37" cy="185.29" r="0.7" fill="#5e0000" opacity="0.52"/>
<circle cx="107.92" cy="197.43" r="0.79" fill="#5e0000" opacity="0.51"/>
<circle cx="97.91" cy="182.75" r="0.67" fill="#5e0000" opacity="0.46"/>
<circle cx="106.51" cy="216.58" r="0.97" fill="#5e0000" opacity="0.31"/>
<circle cx="110.11" cy="217.72" r="0.86" fill="#5e0000" opacity="0.51"/>
<circle cx="108.07" cy="212.98" r="0.98" fill="#5e0000" opacity="0.59"/>
<circle cx="106.45" cy="227.05" r="0.65" fill="#5e0000" opacity="0.39"/>
<circle cx="99.77" cy="223.3" r="0.72" fill="#5e0000" opacity="0.40"/>
<circle cx="112.56" cy="226.7" r="0.67" fill="#5e0000" opacity="0.59"/>
<circle cx="106.92" cy="222.38" r="0.95" fill="#5e0000" opacity="0.36"/>
<circle cx="103.49" cy="214.47" r="0.83" fill="#5e0000" opacity="0.41"/>
<circle cx="107.66" cy="211.86" r="0.66" fill="#5e0000" opacity="0.25"/>
<circle cx="105.26" cy="211.16" r="0.92" fill="#5e0000" opacity="0.31"/>
<circle cx="107.74" cy="210.17" r="0.81" fill="#5e0000" opacity="0.58"/>
<circle cx="105.1" cy="215.23" r="0.86" fill="#5e0000" opacity="0.31"/>
<circle cx="114.24" cy="210.81" r="0.62" fill="#5e0000" opacity="0.44"/>
<circle cx="122.75" cy="210.41" r="0.77" fill="#5e0000" opacity="0.36"/>
<circle cx="113.82" cy="214.09" r="0.61" fill="#5e0000" opacity="0.35"/>
<circle cx="103.14" cy="217.65" r="0.63" fill="#5e0000" opacity="0.38"/>
<circle cx="109.58" cy="210.54" r="0.67" fill="#5e0000" opacity="0.53"/>
<circle cx="103.38" cy="219.59" r="0.79" fill="#5e0000" opacity="0.57"/>
<circle cx="97.2" cy="214.76" r="0.93" fill="#5e0000" opacity="0.54"/>
<circle cx="103.63" cy="216.5" r="0.75" fill="#5e0000" opacity="0.28"/>
<circle cx="116.72" cy="208.78" r="0.91" fill="#5e0000" opacity="0.59"/>
<circle cx="95.5" cy="209.92" r="0.79" fill="#5e0000" opacity="0.64"/>
<circle cx="114.29" cy="218.84" r="0.83" fill="#5e0000" opacity="0.58"/>
<circle cx="101.79" cy="214.62" r="0.75" fill="#5e0000" opacity="0.52"/>
<circle cx="112.08" cy="208.22" r="0.61" fill="#5e0000" opacity="0.51"/>
<circle cx="114.28" cy="216" r="0.65" fill="#5e0000" opacity="0.56"/>
<circle cx="113.96" cy="224.33" r="0.63" fill="#5e0000" opacity="0.33"/>
<circle cx="106.51" cy="203.16" r="0.63" fill="#5e0000" opacity="0.50"/>
<circle cx="104.85" cy="221.03" r="0.63" fill="#5e0000" opacity="0.26"/>
<circle cx="119.1" cy="222" r="0.8" fill="#5e0000" opacity="0.49"/>
<circle cx="115.09" cy="222.79" r="0.96" fill="#5e0000" opacity="0.33"/>
<circle cx="111.98" cy="204.56" r="1" fill="#5e0000" opacity="0.48"/>
<circle cx="107.49" cy="211.64" r="0.91" fill="#5e0000" opacity="0.37"/>
<circle cx="105.39" cy="210.1" r="1" fill="#5e0000" opacity="0.56"/>
<circle cx="112.67" cy="218.12" r="0.74" fill="#5e0000" opacity="0.41"/>
<circle cx="109.43" cy="211.45" r="0.82" fill="#5e0000" opacity="0.43"/>
<circle cx="107.86" cy="224.09" r="0.77" fill="#5e0000" opacity="0.64"/>
<circle cx="117.27" cy="225.32" r="0.85" fill="#5e0000" opacity="0.43"/>
<circle cx="116.31" cy="220.07" r="0.92" fill="#5e0000" opacity="0.39"/>
<circle cx="108.82" cy="208.81" r="0.64" fill="#5e0000" opacity="0.59"/>
<circle cx="108.12" cy="222.35" r="0.9" fill="#5e0000" opacity="0.60"/>
<circle cx="112.99" cy="211.44" r="0.94" fill="#5e0000" opacity="0.31"/>
<circle cx="105.36" cy="213.96" r="0.95" fill="#5e0000" opacity="0.54"/>
<circle cx="105.46" cy="206.79" r="0.74" fill="#5e0000" opacity="0.43"/>
<circle cx="139.43" cy="187.35" r="0.68" fill="#5e0000" opacity="0.54"/>
<circle cx="141.78" cy="191.77" r="0.84" fill="#5e0000" opacity="0.43"/>
<circle cx="139.59" cy="188.11" r="0.83" fill="#5e0000" opacity="0.31"/>
<circle cx="140.01" cy="184.42" r="0.77" fill="#5e0000" opacity="0.36"/>
<circle cx="135.51" cy="187.42" r="0.94" fill="#5e0000" opacity="0.28"/>
<circle cx="134.53" cy="189.26" r="0.79" fill="#5e0000" opacity="0.38"/>
<circle cx="136.13" cy="185.15" r="0.72" fill="#5e0000" opacity="0.42"/>
<circle cx="137.53" cy="180.57" r="0.77" fill="#5e0000" opacity="0.51"/>
<circle cx="136.57" cy="190.23" r="0.68" fill="#5e0000" opacity="0.50"/>
<circle cx="132.96" cy="183.51" r="0.95" fill="#5e0000" opacity="0.57"/>
<circle cx="139.38" cy="184.78" r="0.98" fill="#5e0000" opacity="0.43"/>
<circle cx="134.99" cy="188.44" r="0.97" fill="#5e0000" opacity="0.63"/>
<circle cx="138.06" cy="181.65" r="0.65" fill="#5e0000" opacity="0.33"/>
<circle cx="135.01" cy="179.23" r="0.63" fill="#5e0000" opacity="0.25"/>
<circle cx="139.92" cy="184.88" r="0.62" fill="#5e0000" opacity="0.44"/>
<circle cx="141.7" cy="189.45" r="0.81" fill="#5e0000" opacity="0.49"/>
<circle cx="138.59" cy="184.04" r="0.69" fill="#5e0000" opacity="0.56"/>
<circle cx="134.68" cy="182.18" r="0.74" fill="#5e0000" opacity="0.50"/>
<circle cx="144.07" cy="181.51" r="0.97" fill="#5e0000" opacity="0.64"/>
<circle cx="137.69" cy="185.74" r="0.93" fill="#5e0000" opacity="0.35"/>
<circle cx="133.86" cy="184.35" r="0.99" fill="#5e0000" opacity="0.43"/>
<circle cx="138.54" cy="187.13" r="0.96" fill="#5e0000" opacity="0.58"/>
<circle cx="142.13" cy="193.32" r="0.75" fill="#5e0000" opacity="0.54"/>
<circle cx="131.75" cy="181.72" r="0.8" fill="#5e0000" opacity="0.26"/>
<circle cx="131.72" cy="182.1" r="0.76" fill="#5e0000" opacity="0.58"/>
<circle cx="134.53" cy="186.3" r="0.74" fill="#5e0000" opacity="0.34"/>
<circle cx="129.61" cy="184.96" r="0.84" fill="#5e0000" opacity="0.56"/>
<circle cx="138.44" cy="188.64" r="0.83" fill="#5e0000" opacity="0.40"/>
<circle cx="143.23" cy="185.46" r="0.65" fill="#5e0000" opacity="0.51"/>
<circle cx="139.66" cy="184.58" r="0.71" fill="#5e0000" opacity="0.38"/>
<circle cx="127.25" cy="207.81" r="0.66" fill="#5e0000" opacity="0.35"/>
<circle cx="143.27" cy="208.53" r="0.87" fill="#5e0000" opacity="0.54"/>
<circle cx="141.33" cy="210" r="0.9" fill="#5e0000" opacity="0.62"/>
<circle cx="138.37" cy="206.84" r="0.64" fill="#5e0000" opacity="0.46"/>
<circle cx="143.48" cy="211.69" r="0.61" fill="#5e0000" opacity="0.46"/>
<circle cx="136.35" cy="210.5" r="0.69" fill="#5e0000" opacity="0.28"/>
<circle cx="142.66" cy="210.27" r="0.99" fill="#5e0000" opacity="0.26"/>
<circle cx="139.09" cy="206.76" r="0.84" fill="#5e0000" opacity="0.37"/>
<circle cx="148.85" cy="209.35" r="0.76" fill="#5e0000" opacity="0.42"/>
<circle cx="142.64" cy="209.14" r="0.95" fill="#5e0000" opacity="0.50"/>
<circle cx="134.79" cy="208.49" r="0.84" fill="#5e0000" opacity="0.29"/>
<circle cx="140.22" cy="212.8" r="0.69" fill="#5e0000" opacity="0.28"/>
<circle cx="139.03" cy="206.95" r="0.9" fill="#5e0000" opacity="0.41"/>
<circle cx="143.55" cy="209.2" r="0.8" fill="#5e0000" opacity="0.42"/>
<circle cx="140.85" cy="208.46" r="0.82" fill="#5e0000" opacity="0.43"/>
<circle cx="137.72" cy="208.46" r="0.82" fill="#5e0000" opacity="0.64"/>
<circle cx="150.43" cy="214.82" r="0.99" fill="#5e0000" opacity="0.43"/>
<circle cx="145.11" cy="211.71" r="0.99" fill="#5e0000" opacity="0.25"/>
<circle cx="140.35" cy="204.78" r="0.65" fill="#5e0000" opacity="0.49"/>
<circle cx="141.51" cy="211.1" r="0.81" fill="#5e0000" opacity="0.37"/>
<circle cx="137.03" cy="206.91" r="0.69" fill="#5e0000" opacity="0.62"/>
<circle cx="148.83" cy="210.21" r="0.71" fill="#5e0000" opacity="0.61"/>
<circle cx="136.04" cy="207.93" r="0.69" fill="#5e0000" opacity="0.59"/>
<circle cx="147.86" cy="204.05" r="0.84" fill="#5e0000" opacity="0.62"/>
<circle cx="145.81" cy="207.27" r="0.74" fill="#5e0000" opacity="0.49"/>
<circle cx="135.34" cy="214.58" r="0.82" fill="#5e0000" opacity="0.60"/>
<circle cx="146.46" cy="206.84" r="0.68" fill="#5e0000" opacity="0.38"/>
<circle cx="143.93" cy="211.39" r="0.66" fill="#5e0000" opacity="0.37"/>
<circle cx="140.86" cy="208.54" r="0.97" fill="#5e0000" opacity="0.62"/>
<circle cx="140.67" cy="207.81" r="0.72" fill="#5e0000" opacity="0.43"/>
<circle cx="132.16" cy="205.35" r="0.61" fill="#5e0000" opacity="0.28"/>
<circle cx="140.65" cy="209.42" r="0.96" fill="#5e0000" opacity="0.32"/>
<circle cx="145.56" cy="209.5" r="0.84" fill="#5e0000" opacity="0.58"/>
<circle cx="142.41" cy="207.22" r="0.78" fill="#5e0000" opacity="0.57"/>
<circle cx="140.04" cy="212.56" r="0.95" fill="#5e0000" opacity="0.60"/>
<circle cx="142.26" cy="207.57" r="0.74" fill="#5e0000" opacity="0.29"/>
<circle cx="140.95" cy="209.18" r="0.67" fill="#5e0000" opacity="0.26"/>
<circle cx="124.95" cy="212.62" r="0.63" fill="#5e0000" opacity="0.35"/>
<circle cx="139.35" cy="214.63" r="0.74" fill="#5e0000" opacity="0.32"/>
<circle cx="136.51" cy="203.98" r="0.67" fill="#5e0000" opacity="0.28"/>
<circle cx="101.78" cy="217.25" r="0.62" fill="#5e0000" opacity="0.31"/>
<circle cx="112.8" cy="177.88" r="0.78" fill="#5e0000" opacity="0.27"/>
<circle cx="119.98" cy="195.84" r="0.63" fill="#5e0000" opacity="0.27"/>
<circle cx="130.36" cy="195.31" r="0.79" fill="#5e0000" opacity="0.58"/>
<circle cx="128.83" cy="212.21" r="0.92" fill="#5e0000" opacity="0.48"/>
<circle cx="130.31" cy="215.48" r="1" fill="#5e0000" opacity="0.58"/>
<circle cx="127.75" cy="197.24" r="0.62" fill="#5e0000" opacity="0.45"/>
<circle cx="121.23" cy="216.29" r="0.95" fill="#5e0000" opacity="0.42"/>
<circle cx="125.87" cy="189.35" r="0.78" fill="#5e0000" opacity="0.54"/>
<circle cx="117.67" cy="199.91" r="0.94" fill="#5e0000" opacity="0.39"/>
<circle cx="134.1" cy="191.2" r="0.93" fill="#5e0000" opacity="0.30"/>
<circle cx="111.78" cy="165.12" r="0.85" fill="#5e0000" opacity="0.42"/>
<circle cx="128.93" cy="188.44" r="0.64" fill="#5e0000" opacity="0.50"/>
<circle cx="128.02" cy="201.95" r="0.82" fill="#5e0000" opacity="0.63"/>
<circle cx="122.29" cy="225.59" r="0.98" fill="#5e0000" opacity="0.63"/>
<circle cx="130.82" cy="201.94" r="0.98" fill="#5e0000" opacity="0.64"/>
<circle cx="128.79" cy="206.35" r="0.88" fill="#5e0000" opacity="0.29"/>
<circle cx="130.83" cy="203.38" r="0.83" fill="#5e0000" opacity="0.40"/>
<circle cx="129" cy="190.78" r="0.96" fill="#5e0000" opacity="0.56"/>
<circle cx="113.67" cy="212.49" r="0.87" fill="#5e0000" opacity="0.30"/>
<circle cx="136.97" cy="191.31" r="0.81" fill="#5e0000" opacity="0.59"/>
<circle cx="134.58" cy="199.55" r="0.61" fill="#5e0000" opacity="0.54"/>
<circle cx="128.94" cy="221.4" r="0.89" fill="#5e0000" opacity="0.65"/>
<circle cx="130.47" cy="212.04" r="0.92" fill="#5e0000" opacity="0.43"/>
<circle cx="133.28" cy="218.08" r="0.92" fill="#5e0000" opacity="0.43"/>
<circle cx="120.49" cy="203.4" r="0.76" fill="#5e0000" opacity="0.59"/>
<circle cx="107.04" cy="227.46" r="0.74" fill="#5e0000" opacity="0.44"/>
<circle cx="129.98" cy="165.49" r="0.94" fill="#5e0000" opacity="0.42"/>
<circle cx="119.17" cy="200.37" r="0.82" fill="#5e0000" opacity="0.58"/>
<circle cx="129.01" cy="210.16" r="0.63" fill="#5e0000" opacity="0.43"/>
<circle cx="89.09" cy="203.46" r="0.87" fill="#5e0000" opacity="0.62"/>
<circle cx="129.15" cy="213.32" r="0.88" fill="#5e0000" opacity="0.28"/>
<circle cx="110.03" cy="188.92" r="0.61" fill="#5e0000" opacity="0.33"/>
<circle cx="126.72" cy="189.29" r="0.86" fill="#5e0000" opacity="0.42"/>
<circle cx="106.36" cy="217.59" r="0.76" fill="#5e0000" opacity="0.60"/>
<circle cx="131.76" cy="180.78" r="0.64" fill="#5e0000" opacity="0.38"/>
<circle cx="134.22" cy="194.72" r="0.84" fill="#5e0000" opacity="0.33"/>
<circle cx="123.17" cy="175.25" r="0.96" fill="#5e0000" opacity="0.49"/>
</g>
<rect x="216.7" y="223.3" width="5.3" height="1.6" fill="#fff"/>
<line x1="278.2" y1="154.7" x2="278.2" y2="233.6" stroke="#222" stroke-width="1.3"/>
<line x1="275.2" y1="233.6" x2="278.2" y2="233.6" stroke="#222" stroke-width="1.3"/>
<text x="273.6" y="236.55" text-anchor="end">0</text>
<line x1="275.2" y1="207.3" x2="278.2" y2="207.3" stroke="#222" stroke-width="1.3"/>
<text x="273.6" y="210.25" text-anchor="end">100</text>
<line x1="275.2" y1="181" x2="278.2" y2="181" stroke="#222" stroke-width="1.3"/>
<text x="273.6" y="183.95" text-anchor="end">200</text>
<line x1="275.2" y1="154.7" x2="278.2" y2="154.7" stroke="#222" stroke-width="1.3"/>
<text x="273.6" y="157.65" text-anchor="end">300</text>
<line x1="278.2" y1="233.6" x2="325.3" y2="233.6" stroke="#222" stroke-width="1.3"/>
<line x1="288.5" y1="233.6" x2="288.5" y2="236.6" stroke="#222" stroke-width="1.3"/>
<line x1="301.6" y1="233.6" x2="301.6" y2="236.6" stroke="#222" stroke-width="1.3"/>
<line x1="314.4" y1="233.6" x2="314.4" y2="236.6" stroke="#222" stroke-width="1.3"/>
<polygon points="288,226.24 284.5,225.71 283.3,224.92 284.5,224.13 286,223.08 285,222.03 285.5,220.98 287,219.92 288.2,219.13 288.8,219.13 290,219.92 291.5,220.98 292,222.03 291,223.08 292.5,224.13 293.7,224.92 292.5,225.71 289,226.24" fill="#111" stroke="#111" stroke-width="0.9"/>
<polygon points="301.1,225.71 298.6,225.18 296.1,224.13 297.6,223.08 299.6,221.76 300.6,220.45 301,217.82 301.3,215.19 301.9,215.19 302.2,217.82 302.6,220.45 303.6,221.76 305.6,223.08 307.1,224.13 304.6,225.18 302.1,225.71" fill="#c9a46a" stroke="#a47a3c" stroke-width="0.9"/>
<polygon points="314.1,201.51 312.4,199.41 310.4,196.78 309.2,194.15 310.9,191.52 311.4,188.89 308.8,186.26 309.9,183.63 311.9,181 313.4,178.37 314.1,176.79 314.7,176.79 315.4,178.37 316.9,181 318.9,183.63 320,186.26 317.4,188.89 317.9,191.52 319.6,194.15 318.4,196.78 316.4,199.41 314.7,201.51" fill="#efc6f8" stroke="#b31ee8" stroke-width="1.1"/>
<line x1="311" y1="192.83" x2="318" y2="192.83" stroke="#b31ee8" stroke-width="0.6" stroke-dasharray="1,1"/>
<line x1="311" y1="186.79" x2="318" y2="186.79" stroke="#b31ee8" stroke-width="0.6" stroke-dasharray="1,1"/>
<text x="302.7" y="158.4" text-anchor="middle">&lt; 0.0001</text>
<polyline points="289.4,162.5 289.4,160.4 316.1,160.4 316.1,162.5" fill="none" stroke="#111" stroke-width="1"/>
<text x="307" y="171" text-anchor="middle">&lt; 0.0001</text>
<polyline points="301.9,175.5 301.9,173.4 315.3,173.4 315.3,175.5" fill="none" stroke="#111" stroke-width="1"/>
<text x="246.1" y="197" text-anchor="middle" transform="rotate(-90 246.1 197)">FerroOrange</text>
<text x="255.3" y="197" text-anchor="middle" transform="rotate(-90 255.3 197)">Mean Gray Value</text>
<text x="290.5" y="245.9" text-anchor="end" transform="rotate(-45 290.5 245.9)">Control</text>
<text x="303.6" y="245.9" text-anchor="end" transform="rotate(-45 303.6 245.9)">SPIO</text>
<text x="316.4" y="245.9" text-anchor="end" transform="rotate(-45 316.4 245.9)">MOF-Fe</text>
<text transform="translate(344.1,151.8) scale(1.12,1)" font-size="15.5" font-weight="bold" fill="#000" stroke="#000" stroke-width="0.5">g</text>
<line x1="377.7" y1="153.4" x2="377.7" y2="232.3" stroke="#222" stroke-width="1.3"/>
<line x1="374.7" y1="232.3" x2="377.7" y2="232.3" stroke="#222" stroke-width="1.3"/>
<text x="373.1" y="235.25" text-anchor="end">0.0</text>
<line x1="374.7" y1="199.7" x2="377.7" y2="199.7" stroke="#222" stroke-width="1.3"/>
<text x="373.1" y="202.65" text-anchor="end">0.5</text>
<line x1="374.7" y1="167.1" x2="377.7" y2="167.1" stroke="#222" stroke-width="1.3"/>
<text x="373.1" y="170.05" text-anchor="end">1.0</text>
<line x1="377.7" y1="232.3" x2="425.3" y2="232.3" stroke="#222" stroke-width="1.3"/>
<line x1="388.2" y1="232.3" x2="388.2" y2="235.3" stroke="#222" stroke-width="1.3"/>
<line x1="401.1" y1="232.3" x2="401.1" y2="235.3" stroke="#222" stroke-width="1.3"/>
<line x1="414.4" y1="232.3" x2="414.4" y2="235.3" stroke="#222" stroke-width="1.3"/>
<rect x="383.5" y="227.08" width="9.5" height="5.22" fill="#111" stroke="#111" stroke-width="1"/>
<circle cx="385.2" cy="229.04" r="1.8" fill="#111"/>
<circle cx="387.2" cy="227.08" r="1.8" fill="#111"/>
<circle cx="389.2" cy="224.48" r="1.8" fill="#111"/>
<circle cx="391.2" cy="225.78" r="1.8" fill="#111"/>
<circle cx="386.2" cy="223.82" r="1.8" fill="#111"/>
<circle cx="390.2" cy="230.34" r="1.8" fill="#111"/>
<circle cx="388.2" cy="231" r="1.8" fill="#111"/>
<circle cx="392.2" cy="228.39" r="1.8" fill="#111"/>
<circle cx="384.2" cy="226.43" r="1.8" fill="#111"/>
<rect x="396.2" y="219.91" width="10.5" height="12.39" fill="#ece4c6" stroke="#a47a3c" stroke-width="1.2"/>
<circle cx="398.1" cy="208.83" r="1.8" fill="none" stroke="#a47a3c" stroke-width="0.9"/>
<circle cx="400.1" cy="212.74" r="1.8" fill="none" stroke="#a47a3c" stroke-width="0.9"/>
<circle cx="402.1" cy="217.96" r="1.8" fill="none" stroke="#a47a3c" stroke-width="0.9"/>
<circle cx="404.1" cy="220.56" r="1.8" fill="none" stroke="#a47a3c" stroke-width="0.9"/>
<circle cx="399.1" cy="223.17" r="1.8" fill="none" stroke="#a47a3c" stroke-width="0.9"/>
<circle cx="403.1" cy="225.78" r="1.8" fill="none" stroke="#a47a3c" stroke-width="0.9"/>
<circle cx="401.1" cy="221.87" r="1.8" fill="none" stroke="#a47a3c" stroke-width="0.9"/>
<circle cx="405.1" cy="219.26" r="1.8" fill="none" stroke="#a47a3c" stroke-width="0.9"/>
<circle cx="397.1" cy="224.48" r="1.8" fill="none" stroke="#a47a3c" stroke-width="0.9"/>
<rect x="409.4" y="197.74" width="10.4" height="34.56" fill="#efcdf7" stroke="#b31ee8" stroke-width="1.2"/>
<line x1="414.6" y1="197.74" x2="414.6" y2="191.88" stroke="#b31ee8" stroke-width="1.1"/>
<line x1="412.6" y1="191.88" x2="416.6" y2="191.88" stroke="#b31ee8" stroke-width="1.1"/>
<polygon points="412.9,169.11 416.3,169.11 414.6,166.22" fill="none" stroke="#b31ee8" stroke-width="0.9"/>
<polygon points="412.9,180.85 416.3,180.85 414.6,177.96" fill="none" stroke="#b31ee8" stroke-width="0.9"/>
<polygon points="411.9,197.8 415.3,197.8 413.6,194.91" fill="none" stroke="#b31ee8" stroke-width="0.9"/>
<polygon points="414.9,204.32 418.3,204.32 416.6,201.43" fill="none" stroke="#b31ee8" stroke-width="0.9"/>
<polygon points="409.9,210.84 413.3,210.84 411.6,207.95" fill="none" stroke="#b31ee8" stroke-width="0.9"/>
<polygon points="415.9,214.1 419.3,214.1 417.6,211.21" fill="none" stroke="#b31ee8" stroke-width="0.9"/>
<polygon points="412.9,214.1 416.3,214.1 414.6,211.21" fill="none" stroke="#b31ee8" stroke-width="0.9"/>
<polygon points="410.9,204.32 414.3,204.32 412.6,201.43" fill="none" stroke="#b31ee8" stroke-width="0.9"/>
<polygon points="416.9,210.84 420.3,210.84 418.6,207.95" fill="none" stroke="#b31ee8" stroke-width="0.9"/>
<text x="401.9" y="146.2" text-anchor="middle">&lt; 0.0001</text>
<polyline points="390.2,151.8 390.2,149.7 415.6,149.7 415.6,151.8" fill="none" stroke="#111" stroke-width="1"/>
<text x="407.3" y="160.1" text-anchor="middle">0.0003</text>
<polyline points="401.9,163.5 401.9,161.4 415.3,161.4 415.3,163.5" fill="none" stroke="#111" stroke-width="1"/>
<text x="343.8" y="200" text-anchor="middle" transform="rotate(-90 343.8 200)">[Total Fe]</text>
<text x="354.5" y="200" text-anchor="middle" transform="rotate(-90 354.5 200)">(µg per mg protein)</text>
<text x="388.7" y="247.8" font-size="9.2" text-anchor="end" transform="rotate(-45 388.7 247.8)" letter-spacing="0.3">Control</text>
<text x="401.6" y="247.8" font-size="9.2" text-anchor="end" transform="rotate(-45 401.6 247.8)" letter-spacing="0.3">SPIO</text>
<text x="414.9" y="247.8" font-size="9.2" text-anchor="end" transform="rotate(-45 414.9 247.8)" letter-spacing="0.3">MOF-Fe</text>
<text transform="translate(432.6,152.5) scale(1.12,1)" font-size="15.5" font-weight="bold" fill="#000" stroke="#000" stroke-width="0.5">h</text>
<polygon points="457.7,192.6 465.7,191.7 472.8,189.9 478.1,187.3 482.6,184.6 487.9,184.6 492.4,187.3 497.7,189 503.9,189.9 508.4,189 513.7,188.2 517.3,186.4 519.9,181 522.6,168.6 525.3,156.1 527.9,146.3 529.7,143.7 532.4,144.6 534.7,142.8 535.9,146.3 537.7,150.8 542.2,153.5 545.7,155.2 547.5,158.8 550.2,165 552.8,170.4 555.5,179.3 558.2,187.3 561.7,190.8 567.1,192.2 569.2,192.6" fill="#8e8e8e" stroke="none" stroke-width="1"/>
<polygon points="457.7,220.7 472.8,220.2 490.6,219.6 508.4,219.6 513.7,219.3 516.4,216.6 519,207.7 521.7,196.2 524.4,184.6 526.2,175.7 528.3,169.8 530.6,172.1 533.3,177.5 536.8,185.5 540.4,193.5 544,198.8 547.5,201.5 551.1,205.9 553.7,211.3 557.3,217.5 561.7,220.2 569.2,220.7" fill="rgba(0,0,0,0.22)" stroke="none" stroke-width="1"/>
<polyline points="457.7,192.6 465.7,191.7 472.8,189.9 478.1,187.3 482.6,184.6 487.9,184.6 492.4,187.3 497.7,189 503.9,189.9 508.4,189 513.7,188.2 517.3,186.4 519.9,181 522.6,168.6 525.3,156.1 527.9,146.3 529.7,143.7 532.4,144.6 534.7,142.8 535.9,146.3 537.7,150.8 542.2,153.5 545.7,155.2 547.5,158.8 550.2,165 552.8,170.4 555.5,179.3 558.2,187.3 561.7,190.8 567.1,192.2 569.2,192.6" fill="none" stroke="#111" stroke-width="0.8"/>
<polyline points="457.7,220.7 472.8,220.2 490.6,219.6 508.4,219.6 513.7,219.3 516.4,216.6 519,207.7 521.7,196.2 524.4,184.6 526.2,175.7 528.3,169.8 530.6,172.1 533.3,177.5 536.8,185.5 540.4,193.5 544,198.8 547.5,201.5 551.1,205.9 553.7,211.3 557.3,217.5 561.7,220.2 569.2,220.7" fill="none" stroke="#111" stroke-width="0.8"/>
<polyline points="457.7,248.3 508.4,248.3 511,246 513.7,234.4 516.4,213.1 518.2,202.4 519.9,197.9 521.2,198.8 522.6,204.2 525.3,216.6 527.9,229.1 531.5,238 535.1,244.2 538.6,247.2 544,248.3 569.2,248.3" fill="none" stroke="#111" stroke-width="0.8"/>
<polyline points="512.6,246.3 515.3,234.7 518,213.4 519.8,202.7 521.5,198.2 522.8,199.1 524.2,204.5 526.9,216.9 529.5,229.4 533.1,238.3 536.7,244.5" fill="none" stroke="#222" stroke-width="0.45"/>
<rect x="457.4" y="136.9" width="111.6" height="111.4" fill="none" stroke="#999" stroke-width="1"/>
<line x1="457.4" y1="136.4" x2="457.4" y2="248.6" stroke="#111" stroke-width="1"/>
<line x1="457.4" y1="248.6" x2="569.2" y2="248.6" stroke="#111" stroke-width="1"/>
<line x1="459.84" y1="248.6" x2="459.84" y2="249.6" stroke="#111" stroke-width="0.6"/>
<line x1="462.22" y1="248.6" x2="462.22" y2="249.6" stroke="#111" stroke-width="0.6"/>
<line x1="464.16" y1="248.6" x2="464.16" y2="249.6" stroke="#111" stroke-width="0.6"/>
<line x1="465.8" y1="248.6" x2="465.8" y2="249.6" stroke="#111" stroke-width="0.6"/>
<line x1="467.22" y1="248.6" x2="467.22" y2="249.6" stroke="#111" stroke-width="0.6"/>
<line x1="468.48" y1="248.6" x2="468.48" y2="249.6" stroke="#111" stroke-width="0.6"/>
<line x1="469.6" y1="248.6" x2="469.6" y2="250.3" stroke="#111" stroke-width="0.6"/>
<line x1="476.98" y1="248.6" x2="476.98" y2="249.6" stroke="#111" stroke-width="0.6"/>
<line x1="481.3" y1="248.6" x2="481.3" y2="249.6" stroke="#111" stroke-width="0.6"/>
<line x1="484.36" y1="248.6" x2="484.36" y2="249.6" stroke="#111" stroke-width="0.6"/>
<line x1="486.74" y1="248.6" x2="486.74" y2="249.6" stroke="#111" stroke-width="0.6"/>
<line x1="488.68" y1="248.6" x2="488.68" y2="249.6" stroke="#111" stroke-width="0.6"/>
<line x1="490.32" y1="248.6" x2="490.32" y2="249.6" stroke="#111" stroke-width="0.6"/>
<line x1="491.74" y1="248.6" x2="491.74" y2="249.6" stroke="#111" stroke-width="0.6"/>
<line x1="493" y1="248.6" x2="493" y2="249.6" stroke="#111" stroke-width="0.6"/>
<line x1="494.12" y1="248.6" x2="494.12" y2="250.3" stroke="#111" stroke-width="0.6"/>
<line x1="501.5" y1="248.6" x2="501.5" y2="249.6" stroke="#111" stroke-width="0.6"/>
<line x1="505.82" y1="248.6" x2="505.82" y2="249.6" stroke="#111" stroke-width="0.6"/>
<line x1="508.88" y1="248.6" x2="508.88" y2="249.6" stroke="#111" stroke-width="0.6"/>
<line x1="511.26" y1="248.6" x2="511.26" y2="249.6" stroke="#111" stroke-width="0.6"/>
<line x1="513.2" y1="248.6" x2="513.2" y2="249.6" stroke="#111" stroke-width="0.6"/>
<line x1="514.84" y1="248.6" x2="514.84" y2="249.6" stroke="#111" stroke-width="0.6"/>
<line x1="516.26" y1="248.6" x2="516.26" y2="249.6" stroke="#111" stroke-width="0.6"/>
<line x1="517.52" y1="248.6" x2="517.52" y2="249.6" stroke="#111" stroke-width="0.6"/>
<line x1="518.64" y1="248.6" x2="518.64" y2="250.3" stroke="#111" stroke-width="0.6"/>
<line x1="526.02" y1="248.6" x2="526.02" y2="249.6" stroke="#111" stroke-width="0.6"/>
<line x1="530.34" y1="248.6" x2="530.34" y2="249.6" stroke="#111" stroke-width="0.6"/>
<line x1="533.4" y1="248.6" x2="533.4" y2="249.6" stroke="#111" stroke-width="0.6"/>
<line x1="535.78" y1="248.6" x2="535.78" y2="249.6" stroke="#111" stroke-width="0.6"/>
<line x1="537.72" y1="248.6" x2="537.72" y2="249.6" stroke="#111" stroke-width="0.6"/>
<line x1="539.36" y1="248.6" x2="539.36" y2="249.6" stroke="#111" stroke-width="0.6"/>
<line x1="540.78" y1="248.6" x2="540.78" y2="249.6" stroke="#111" stroke-width="0.6"/>
<line x1="542.04" y1="248.6" x2="542.04" y2="249.6" stroke="#111" stroke-width="0.6"/>
<line x1="543.16" y1="248.6" x2="543.16" y2="250.3" stroke="#111" stroke-width="0.6"/>
<line x1="550.54" y1="248.6" x2="550.54" y2="249.6" stroke="#111" stroke-width="0.6"/>
<line x1="554.86" y1="248.6" x2="554.86" y2="249.6" stroke="#111" stroke-width="0.6"/>
<line x1="557.92" y1="248.6" x2="557.92" y2="249.6" stroke="#111" stroke-width="0.6"/>
<line x1="560.3" y1="248.6" x2="560.3" y2="249.6" stroke="#111" stroke-width="0.6"/>
<line x1="562.24" y1="248.6" x2="562.24" y2="249.6" stroke="#111" stroke-width="0.6"/>
<line x1="563.88" y1="248.6" x2="563.88" y2="249.6" stroke="#111" stroke-width="0.6"/>
<line x1="565.3" y1="248.6" x2="565.3" y2="249.6" stroke="#111" stroke-width="0.6"/>
<line x1="566.56" y1="248.6" x2="566.56" y2="249.6" stroke="#111" stroke-width="0.6"/>
<line x1="567.68" y1="248.6" x2="567.68" y2="250.3" stroke="#111" stroke-width="0.6"/>
<text x="472.5" y="264.5" font-size="7.6" text-anchor="middle">10</text>
<text x="477" y="259.5" font-size="7.6">2</text>
<text x="522" y="264.5" font-size="7.6" text-anchor="middle">10</text>
<text x="526.5" y="259.5" font-size="7.6">4</text>
<text x="561.5" y="264.5" font-size="7.6" text-anchor="middle">10</text>
<text x="566" y="259.5" font-size="7.6">6</text>
<text x="512.5" y="274.7" text-anchor="middle">Oxidized C11-BODIPY</text>
<text x="451" y="192.5" text-anchor="middle" transform="rotate(-90 451 192.5)">#Cells (Normalized to Mode)</text>
<line x1="623.9" y1="153.7" x2="623.9" y2="232.5" stroke="#222" stroke-width="1.3"/>
<line x1="620.9" y1="232.5" x2="623.9" y2="232.5" stroke="#222" stroke-width="1.3"/>
<text x="619.3" y="235.45" text-anchor="end">0.0</text>
<line x1="620.9" y1="212.8" x2="623.9" y2="212.8" stroke="#222" stroke-width="1.3"/>
<text x="619.3" y="215.75" text-anchor="end">0.2</text>
<line x1="620.9" y1="193.1" x2="623.9" y2="193.1" stroke="#222" stroke-width="1.3"/>
<text x="619.3" y="196.05" text-anchor="end">0.4</text>
<line x1="620.9" y1="173.4" x2="623.9" y2="173.4" stroke="#222" stroke-width="1.3"/>
<text x="619.3" y="176.35" text-anchor="end">0.6</text>
<line x1="620.9" y1="153.7" x2="623.9" y2="153.7" stroke="#222" stroke-width="1.3"/>
<text x="619.3" y="156.65" text-anchor="end">0.8</text>
<line x1="623.9" y1="232.5" x2="666.2" y2="232.5" stroke="#222" stroke-width="1.3"/>
<line x1="633.1" y1="232.5" x2="633.1" y2="235.5" stroke="#222" stroke-width="1.3"/>
<line x1="647.8" y1="232.5" x2="647.8" y2="235.5" stroke="#222" stroke-width="1.3"/>
<line x1="661.6" y1="232.5" x2="661.6" y2="235.5" stroke="#222" stroke-width="1.3"/>
<rect x="628.6" y="221.66" width="9.2" height="10.84" fill="#fff" stroke="#111" stroke-width="1"/>
<rect x="643.4" y="198.03" width="8.8" height="34.47" fill="#d3d3d3" stroke="#111" stroke-width="1"/>
<rect x="657.3" y="185.71" width="8.8" height="46.79" fill="#7b7b7b" stroke="#111" stroke-width="1"/>
<line x1="633.1" y1="222.65" x2="633.1" y2="220.68" stroke="#111" stroke-width="1"/>
<line x1="631.1" y1="220.68" x2="635.1" y2="220.68" stroke="#111" stroke-width="1"/>
<line x1="647.8" y1="202.95" x2="647.8" y2="193.1" stroke="#111" stroke-width="1"/>
<line x1="645.8" y1="193.1" x2="649.8" y2="193.1" stroke="#111" stroke-width="1"/>
<line x1="661.6" y1="192.12" x2="661.6" y2="179.31" stroke="#111" stroke-width="1"/>
<line x1="659.6" y1="179.31" x2="663.6" y2="179.31" stroke="#111" stroke-width="1"/>
<circle cx="631" cy="221.66" r="1.6" fill="#fff" stroke="#111" stroke-width="0.9"/>
<circle cx="633.1" cy="220.68" r="1.6" fill="#fff" stroke="#111" stroke-width="0.9"/>
<circle cx="635.3" cy="221.66" r="1.6" fill="#fff" stroke="#111" stroke-width="0.9"/>
<circle cx="647.8" cy="189.16" r="1.8" fill="#111"/>
<circle cx="645.8" cy="200" r="1.8" fill="#111"/>
<circle cx="647.8" cy="204.92" r="1.8" fill="#111"/>
<circle cx="661.6" cy="173.4" r="1.8" fill="#111"/>
<circle cx="659.6" cy="189.16" r="1.8" fill="#111"/>
<circle cx="661.6" cy="195.07" r="1.8" fill="#111"/>
<text x="633.1" y="245.4" text-anchor="middle">0</text>
<text x="647.8" y="245.4" text-anchor="middle">5</text>
<text x="661.6" y="245.4" text-anchor="middle">10</text>
<text x="647.5" y="257.7" text-anchor="middle">MOF-Fe (µg Fe/mL)</text>
<text x="647" y="155.5" text-anchor="middle">0.002</text>
<polyline points="633.4,159.2 633.4,157 661.6,157 661.6,159.2" fill="none" stroke="#111" stroke-width="1"/>
<text x="640.3" y="170.5" text-anchor="middle">0.003</text>
<polyline points="633.4,174.7 633.4,172.5 647.6,172.5 647.6,174.7" fill="none" stroke="#111" stroke-width="1"/>
<text x="600" y="197.5" text-anchor="middle" transform="rotate(-90 600 197.5)">BODIPY (ox)/BIDIPY (re)</text>
<text transform="translate(2.3,267.5) scale(1.12,1)" font-size="15.5" font-weight="bold" fill="#000" stroke="#000" stroke-width="0.5">i</text>
<rect x="27.3" y="263.9" width="143" height="155.2" fill="#fff"/>
<line x1="32.85" y1="263.9" x2="32.85" y2="419.1" stroke="#ebebeb" stroke-width="0.6"/>
<line x1="47.9" y1="263.9" x2="47.9" y2="419.1" stroke="#ebebeb" stroke-width="0.9"/>
<line x1="62.95" y1="263.9" x2="62.95" y2="419.1" stroke="#ebebeb" stroke-width="0.6"/>
<line x1="78" y1="263.9" x2="78" y2="419.1" stroke="#ebebeb" stroke-width="0.9"/>
<line x1="93.05" y1="263.9" x2="93.05" y2="419.1" stroke="#ebebeb" stroke-width="0.6"/>
<line x1="108.1" y1="263.9" x2="108.1" y2="419.1" stroke="#ebebeb" stroke-width="0.9"/>
<line x1="123.15" y1="263.9" x2="123.15" y2="419.1" stroke="#ebebeb" stroke-width="0.6"/>
<line x1="138.2" y1="263.9" x2="138.2" y2="419.1" stroke="#ebebeb" stroke-width="0.9"/>
<line x1="153.25" y1="263.9" x2="153.25" y2="419.1" stroke="#ebebeb" stroke-width="0.6"/>
<line x1="168.3" y1="263.9" x2="168.3" y2="419.1" stroke="#ebebeb" stroke-width="0.9"/>
<line x1="27.3" y1="416.3" x2="170.3" y2="416.3" stroke="#ebebeb" stroke-width="0.9"/>
<line x1="27.3" y1="401" x2="170.3" y2="401" stroke="#ebebeb" stroke-width="0.6"/>
<line x1="27.3" y1="385.7" x2="170.3" y2="385.7" stroke="#ebebeb" stroke-width="0.9"/>
<line x1="27.3" y1="370.4" x2="170.3" y2="370.4" stroke="#ebebeb" stroke-width="0.6"/>
<line x1="27.3" y1="355.1" x2="170.3" y2="355.1" stroke="#ebebeb" stroke-width="0.9"/>
<line x1="27.3" y1="339.8" x2="170.3" y2="339.8" stroke="#ebebeb" stroke-width="0.6"/>
<line x1="27.3" y1="324.5" x2="170.3" y2="324.5" stroke="#ebebeb" stroke-width="0.9"/>
<line x1="27.3" y1="309.2" x2="170.3" y2="309.2" stroke="#ebebeb" stroke-width="0.6"/>
<line x1="27.3" y1="293.9" x2="170.3" y2="293.9" stroke="#ebebeb" stroke-width="0.9"/>
<line x1="27.3" y1="278.6" x2="170.3" y2="278.6" stroke="#ebebeb" stroke-width="0.6"/>
<line x1="33.5" y1="263.9" x2="33.5" y2="419.1" stroke="#a8a8a8" stroke-width="0.9" stroke-dasharray="4.5,3"/>
<line x1="124.3" y1="263.9" x2="124.3" y2="419.1" stroke="#a8a8a8" stroke-width="0.9" stroke-dasharray="4.5,3"/>
<line x1="27.3" y1="376.3" x2="170.3" y2="376.3" stroke="#a8a8a8" stroke-width="0.9" stroke-dasharray="4.5,3"/>
<circle cx="69.6" cy="392.7" r="0.9" fill="#c8c8c8"/>
<circle cx="71.4" cy="402.7" r="0.9" fill="#c8c8c8"/>
<circle cx="73.1" cy="403.9" r="0.9" fill="#c8c8c8"/>
<circle cx="74.9" cy="412" r="0.9" fill="#c8c8c8"/>
<circle cx="82.8" cy="411.5" r="0.9" fill="#c8c8c8"/>
<circle cx="84.5" cy="405" r="0.9" fill="#c8c8c8"/>
<circle cx="86.3" cy="408.8" r="0.9" fill="#c8c8c8"/>
<circle cx="88" cy="407.1" r="0.9" fill="#c8c8c8"/>
<circle cx="88.9" cy="391" r="0.9" fill="#c8c8c8"/>
<circle cx="90.7" cy="399.2" r="0.9" fill="#c8c8c8"/>
<circle cx="93.3" cy="399.7" r="0.9" fill="#c8c8c8"/>
<circle cx="95" cy="394.8" r="0.9" fill="#c8c8c8"/>
<circle cx="97.7" cy="395.2" r="0.9" fill="#c8c8c8"/>
<circle cx="99.4" cy="393.9" r="0.9" fill="#c8c8c8"/>
<circle cx="101.7" cy="393.9" r="0.9" fill="#c8c8c8"/>
<circle cx="102" cy="399.2" r="0.9" fill="#c8c8c8"/>
<circle cx="100.8" cy="385.7" r="0.9" fill="#c8c8c8"/>
<circle cx="101.7" cy="381.7" r="0.9" fill="#c8c8c8"/>
<circle cx="102.9" cy="379.9" r="0.9" fill="#c8c8c8"/>
<circle cx="106.4" cy="378.2" r="0.9" fill="#c8c8c8"/>
<circle cx="108.2" cy="377.3" r="0.9" fill="#c8c8c8"/>
<circle cx="109.9" cy="384.7" r="0.9" fill="#c8c8c8"/>
<circle cx="109.1" cy="361.5" r="0.9" fill="#c8c8c8"/>
<circle cx="112.6" cy="376.4" r="0.9" fill="#c8c8c8"/>
<circle cx="116.1" cy="346.6" r="0.9" fill="#c8c8c8"/>
<circle cx="116.1" cy="384.3" r="0.9" fill="#c8c8c8"/>
<circle cx="115.2" cy="358" r="0.9" fill="#c8c8c8"/>
<circle cx="121.3" cy="377.3" r="0.9" fill="#c8c8c8"/>
<circle cx="122.2" cy="379.1" r="0.9" fill="#c8c8c8"/>
<circle cx="123.1" cy="351.9" r="0.9" fill="#c8c8c8"/>
<circle cx="157.2" cy="393.9" r="0.9" fill="#c8c8c8"/>
<circle cx="164.2" cy="380.8" r="0.9" fill="#c8c8c8"/>
<circle cx="99.4" cy="377.3" r="0.9" fill="#c8c8c8"/>
<circle cx="100.3" cy="371.2" r="0.9" fill="#c8c8c8"/>
<circle cx="104.7" cy="376.4" r="0.9" fill="#c8c8c8"/>
<circle cx="108.7" cy="360.7" r="0.9" fill="#c8c8c8"/>
<circle cx="113.3" cy="290.9" r="0.9" fill="#c8c8c8"/>
<circle cx="119.7" cy="325.9" r="0.9" fill="#c8c8c8"/>
<circle cx="110" cy="345" r="0.9" fill="#c8c8c8"/>
<circle cx="118" cy="340" r="0.9" fill="#c8c8c8"/>
<circle cx="106" cy="355" r="0.9" fill="#c8c8c8"/>
<circle cx="125" cy="328.2" r="0.9" fill="#f4a0a0"/>
<circle cx="134.9" cy="271" r="0.9" fill="#f08080"/>
<line x1="124.1" y1="307.5" x2="131.4" y2="327.4" stroke="#333" stroke-width="0.6"/>
<line x1="119.7" y1="323.6" x2="134.9" y2="330.3" stroke="#333" stroke-width="0.6"/>
<line x1="124.1" y1="334.7" x2="134.9" y2="332.6" stroke="#333" stroke-width="0.6"/>
<line x1="118.2" y1="354.2" x2="150.4" y2="354.2" stroke="#333" stroke-width="0.6"/>
<line x1="124.1" y1="368.2" x2="131.4" y2="363.9" stroke="#333" stroke-width="0.6"/>
<circle cx="131.4" cy="327.4" r="1.7" fill="#8b0000"/>
<circle cx="136.4" cy="330.9" r="1.7" fill="#8b0000"/>
<circle cx="136.4" cy="334.1" r="1.7" fill="#8b0000"/>
<circle cx="151.2" cy="354.2" r="1.7" fill="#8b0000"/>
<circle cx="132.3" cy="363.3" r="1.7" fill="#8b0000"/>
<text x="48.2" y="313.3" font-size="8.4" fill="#222">PE 18:1−22:4−OOH</text>
<text x="48.2" y="326.4" font-size="8.4" fill="#222">PE 16:0−20:4−OH</text>
<text x="48.2" y="340.4" font-size="8.4" fill="#222">PE 16:0−22:6−OOH</text>
<text x="48.2" y="355.6" font-size="8.4" fill="#222">PE 16:0−22:4−OH</text>
<text x="48.2" y="370.5" font-size="8.4" fill="#222">PE 16:1−22:4−OOH</text>
<rect x="27.3" y="263.9" width="143" height="155.2" fill="none" stroke="#333" stroke-width="0.9"/>
<line x1="24.8" y1="416.3" x2="27.3" y2="416.3" stroke="#333" stroke-width="0.9"/>
<text x="23.3" y="419.2" text-anchor="end" fill="#222">0</text>
<line x1="24.8" y1="385.7" x2="27.3" y2="385.7" stroke="#333" stroke-width="0.9"/>
<text x="23.3" y="388.6" text-anchor="end" fill="#222">1</text>
<line x1="24.8" y1="355.1" x2="27.3" y2="355.1" stroke="#333" stroke-width="0.9"/>
<text x="23.3" y="358" text-anchor="end" fill="#222">2</text>
<line x1="24.8" y1="324.5" x2="27.3" y2="324.5" stroke="#333" stroke-width="0.9"/>
<text x="23.3" y="327.4" text-anchor="end" fill="#222">3</text>
<line x1="24.8" y1="293.9" x2="27.3" y2="293.9" stroke="#333" stroke-width="0.9"/>
<text x="23.3" y="296.8" text-anchor="end" fill="#222">4</text>
<line x1="47.9" y1="419.1" x2="47.9" y2="421.6" stroke="#333" stroke-width="0.9"/>
<text x="47.9" y="428.8" text-anchor="middle" fill="#222">−0.25</text>
<line x1="78" y1="419.1" x2="78" y2="421.6" stroke="#333" stroke-width="0.9"/>
<text x="78" y="428.8" text-anchor="middle" fill="#222">0.00</text>
<line x1="108.1" y1="419.1" x2="108.1" y2="421.6" stroke="#333" stroke-width="0.9"/>
<text x="108.1" y="428.8" text-anchor="middle" fill="#222">0.25</text>
<line x1="138.2" y1="419.1" x2="138.2" y2="421.6" stroke="#333" stroke-width="0.9"/>
<text x="138.2" y="428.8" text-anchor="middle" fill="#222">0.50</text>
<line x1="168.3" y1="419.1" x2="168.3" y2="421.6" stroke="#333" stroke-width="0.9"/>
<text x="168.3" y="428.8" text-anchor="middle" fill="#222">0.75</text>
<text x="98.5" y="440.1" text-anchor="middle" fill="#222">Relative Abundance</text>
<text x="98.5" y="449.3" text-anchor="middle" fill="#222">Log<tspan font-size="5" dy="1.5">2</tspan><tspan dy="-1.5">(MOF-Fe vs. Control)</tspan></text>
<text x="102" y="258.8" text-anchor="middle" fill="#222">Panc-1, Lipidomics, 48 h</text>
<text transform="translate(14,347.5) rotate(-90)" text-anchor="middle" fill="#222">−Log<tspan font-size="5" dy="1.5">10</tspan><tspan dy="-1.5">(</tspan><tspan font-style="italic">P</tspan><tspan>.</tspan><tspan font-style="italic">Value</tspan>)</text>
<text transform="translate(180.7,302.5) scale(1.12,1)" font-size="15.5" font-weight="bold" fill="#000" stroke="#000" stroke-width="0.5">j</text>
<line x1="220.5" y1="317.2" x2="220.5" y2="396" stroke="#222" stroke-width="1.3"/>
<line x1="217.5" y1="396" x2="220.5" y2="396" stroke="#222" stroke-width="1.3"/>
<text x="215.9" y="398.95" text-anchor="end">0</text>
<line x1="217.5" y1="379.6" x2="220.5" y2="379.6" stroke="#222" stroke-width="1.3"/>
<text x="215.9" y="382.55" text-anchor="end">25</text>
<line x1="217.5" y1="363.2" x2="220.5" y2="363.2" stroke="#222" stroke-width="1.3"/>
<text x="215.9" y="366.15" text-anchor="end">50</text>
<line x1="217.5" y1="346.8" x2="220.5" y2="346.8" stroke="#222" stroke-width="1.3"/>
<text x="215.9" y="349.75" text-anchor="end">75</text>
<line x1="217.5" y1="330.4" x2="220.5" y2="330.4" stroke="#222" stroke-width="1.3"/>
<text x="215.9" y="333.35" text-anchor="end">100</text>
<line x1="218" y1="396" x2="319.2" y2="396" stroke="#222" stroke-width="1.3"/>
<circle cx="196.9" cy="298.7" r="2.1" fill="#fff" stroke="#111" stroke-width="1.1"/>
<text x="219.5" y="301.6">No &#160;PEF</text>
<circle cx="273.5" cy="298.5" r="2.3" fill="#111"/>
<text x="296" y="301.3">PEF</text>
<line x1="233.9" y1="396" x2="233.9" y2="399" stroke="#111" stroke-width="1"/>
<rect x="225.7" y="330.4" width="8" height="65.6" fill="#fff" stroke="#111" stroke-width="1.1"/>
<rect x="234.7" y="351.39" width="8" height="44.61" fill="#d4d4d4" stroke="#111" stroke-width="1.1"/>
<line x1="229.7" y1="330.4" x2="229.7" y2="329.74" stroke="#111" stroke-width="1"/>
<line x1="227.9" y1="329.74" x2="231.5" y2="329.74" stroke="#111" stroke-width="1"/>
<line x1="238.7" y1="351.39" x2="238.7" y2="349.42" stroke="#111" stroke-width="1"/>
<line x1="236.9" y1="349.42" x2="240.5" y2="349.42" stroke="#111" stroke-width="1"/>
<circle cx="227.5" cy="331.71" r="2" fill="#fff" stroke="#111" stroke-width="1"/>
<circle cx="229.7" cy="330.4" r="2" fill="#fff" stroke="#111" stroke-width="1"/>
<circle cx="231.9" cy="329.74" r="2" fill="#fff" stroke="#111" stroke-width="1"/>
<circle cx="236.4" cy="354.02" r="2" fill="#111"/>
<circle cx="238.7" cy="352.7" r="2" fill="#111"/>
<circle cx="241" cy="350.08" r="2" fill="#111"/>
<circle cx="236.4" cy="348.77" r="2" fill="#111"/>
<circle cx="238.7" cy="344.83" r="2" fill="#111"/>
<circle cx="241" cy="351.39" r="2" fill="#111"/>
<line x1="257.3" y1="396" x2="257.3" y2="399" stroke="#111" stroke-width="1"/>
<rect x="249.1" y="348.11" width="8" height="47.89" fill="#fff" stroke="#111" stroke-width="1.1"/>
<rect x="258.1" y="369.76" width="8" height="26.24" fill="#d4d4d4" stroke="#111" stroke-width="1.1"/>
<line x1="253.1" y1="348.11" x2="253.1" y2="344.18" stroke="#111" stroke-width="1"/>
<line x1="251.3" y1="344.18" x2="254.9" y2="344.18" stroke="#111" stroke-width="1"/>
<line x1="262.1" y1="369.76" x2="262.1" y2="366.48" stroke="#111" stroke-width="1"/>
<line x1="260.3" y1="366.48" x2="263.9" y2="366.48" stroke="#111" stroke-width="1"/>
<circle cx="250.9" cy="355.33" r="2" fill="#fff" stroke="#111" stroke-width="1"/>
<circle cx="253.1" cy="350.08" r="2" fill="#fff" stroke="#111" stroke-width="1"/>
<circle cx="255.3" cy="342.21" r="2" fill="#fff" stroke="#111" stroke-width="1"/>
<circle cx="259.8" cy="380.26" r="2" fill="#111"/>
<circle cx="262.1" cy="373.7" r="2" fill="#111"/>
<circle cx="264.4" cy="371.07" r="2" fill="#111"/>
<circle cx="259.8" cy="367.14" r="2" fill="#111"/>
<circle cx="262.1" cy="361.89" r="2" fill="#111"/>
<circle cx="264.4" cy="361.23" r="2" fill="#111"/>
<line x1="281.2" y1="396" x2="281.2" y2="399" stroke="#111" stroke-width="1"/>
<rect x="273" y="362.54" width="8" height="33.46" fill="#fff" stroke="#111" stroke-width="1.1"/>
<rect x="282" y="380.26" width="8" height="15.74" fill="#d4d4d4" stroke="#111" stroke-width="1.1"/>
<line x1="277" y1="362.54" x2="277" y2="358.61" stroke="#111" stroke-width="1"/>
<line x1="275.2" y1="358.61" x2="278.8" y2="358.61" stroke="#111" stroke-width="1"/>
<line x1="286" y1="380.26" x2="286" y2="376.98" stroke="#111" stroke-width="1"/>
<line x1="284.2" y1="376.98" x2="287.8" y2="376.98" stroke="#111" stroke-width="1"/>
<circle cx="274.8" cy="367.14" r="2" fill="#fff" stroke="#111" stroke-width="1"/>
<circle cx="277" cy="361.89" r="2" fill="#fff" stroke="#111" stroke-width="1"/>
<circle cx="279.2" cy="354.02" r="2" fill="#fff" stroke="#111" stroke-width="1"/>
<circle cx="283.7" cy="386.82" r="2" fill="#111"/>
<circle cx="286" cy="382.88" r="2" fill="#111"/>
<circle cx="288.3" cy="380.26" r="2" fill="#111"/>
<circle cx="283.7" cy="376.32" r="2" fill="#111"/>
<circle cx="286" cy="372.38" r="2" fill="#111"/>
<circle cx="288.3" cy="369.76" r="2" fill="#111"/>
<line x1="305.2" y1="396" x2="305.2" y2="399" stroke="#111" stroke-width="1"/>
<rect x="297" y="380.26" width="8" height="15.74" fill="#fff" stroke="#111" stroke-width="1.1"/>
<rect x="306" y="389.44" width="8" height="6.56" fill="#d4d4d4" stroke="#111" stroke-width="1.1"/>
<line x1="301" y1="380.26" x2="301" y2="378.29" stroke="#111" stroke-width="1"/>
<line x1="299.2" y1="378.29" x2="302.8" y2="378.29" stroke="#111" stroke-width="1"/>
<line x1="310" y1="389.44" x2="310" y2="387.47" stroke="#111" stroke-width="1"/>
<line x1="308.2" y1="387.47" x2="311.8" y2="387.47" stroke="#111" stroke-width="1"/>
<circle cx="298.8" cy="381.57" r="2" fill="#fff" stroke="#111" stroke-width="1"/>
<circle cx="301" cy="380.26" r="2" fill="#fff" stroke="#111" stroke-width="1"/>
<circle cx="303.2" cy="375.01" r="2" fill="#fff" stroke="#111" stroke-width="1"/>
<circle cx="307.7" cy="393.38" r="2" fill="#111"/>
<circle cx="310" cy="392.06" r="2" fill="#111"/>
<circle cx="312.3" cy="389.44" r="2" fill="#111"/>
<circle cx="307.7" cy="386.82" r="2" fill="#111"/>
<circle cx="310" cy="385.5" r="2" fill="#111"/>
<circle cx="312.3" cy="382.22" r="2" fill="#111"/>
<text x="233.9" y="407.8" text-anchor="middle">0</text>
<text x="257.3" y="407.8" text-anchor="middle">0.1</text>
<text x="281.2" y="407.8" text-anchor="middle">0.3</text>
<text x="305.2" y="407.8" text-anchor="middle">1.0</text>
<text x="237.8" y="317.2" text-anchor="middle">&lt; 0.0001</text>
<polyline points="228.3,323.6 228.3,321.6 239.5,321.6 239.5,323.6" fill="none" stroke="#111" stroke-width="1"/>
<text x="256" y="331.8" text-anchor="middle">0.004</text>
<polyline points="252.4,336.7 252.4,334.7 263.3,334.7 263.3,336.7" fill="none" stroke="#111" stroke-width="1"/>
<text x="278.8" y="342.2" text-anchor="middle">0.01</text>
<polyline points="271.9,346.8 271.9,344.8 285.7,344.8 285.7,346.8" fill="none" stroke="#111" stroke-width="1"/>
<text x="303.4" y="360.5" text-anchor="middle">0.02</text>
<polyline points="299.5,365.5 299.5,363.5 311.3,363.5 311.3,365.5" fill="none" stroke="#111" stroke-width="1"/>
<text x="269.9" y="420.7" text-anchor="middle">MOF-Fe (µg Fe/mL)</text>
<text x="198.1" y="361" text-anchor="middle" transform="rotate(-90 198.1 361)">#Colony by Panc-1 (%)</text>
<text transform="translate(329.7,304.3) scale(1.12,1)" font-size="15.5" font-weight="bold" fill="#000" stroke="#000" stroke-width="0.5">k</text>
<line x1="381.1" y1="292.9" x2="381.1" y2="371" stroke="#222" stroke-width="1.3"/>
<line x1="378.1" y1="371" x2="381.1" y2="371" stroke="#222" stroke-width="1.3"/>
<text x="376.5" y="373.95" text-anchor="end">0</text>
<line x1="378.1" y1="355.4" x2="381.1" y2="355.4" stroke="#222" stroke-width="1.3"/>
<text x="376.5" y="358.35" text-anchor="end">1000</text>
<line x1="378.1" y1="339.8" x2="381.1" y2="339.8" stroke="#222" stroke-width="1.3"/>
<text x="376.5" y="342.75" text-anchor="end">2000</text>
<line x1="378.1" y1="324.2" x2="381.1" y2="324.2" stroke="#222" stroke-width="1.3"/>
<text x="376.5" y="327.15" text-anchor="end">3000</text>
<line x1="378.1" y1="308.6" x2="381.1" y2="308.6" stroke="#222" stroke-width="1.3"/>
<text x="376.5" y="311.55" text-anchor="end">4000</text>
<line x1="378.1" y1="293" x2="381.1" y2="293" stroke="#222" stroke-width="1.3"/>
<text x="376.5" y="295.95" text-anchor="end">5000</text>
<line x1="381.1" y1="371" x2="539" y2="371" stroke="#222" stroke-width="1.3"/>
<line x1="396.8" y1="371" x2="396.8" y2="374" stroke="#222" stroke-width="1.3"/>
<line x1="422.7" y1="371" x2="422.7" y2="374" stroke="#222" stroke-width="1.3"/>
<line x1="448.9" y1="371" x2="448.9" y2="374" stroke="#222" stroke-width="1.3"/>
<line x1="474.6" y1="371" x2="474.6" y2="374" stroke="#222" stroke-width="1.3"/>
<line x1="500.3" y1="371" x2="500.3" y2="374" stroke="#222" stroke-width="1.3"/>
<line x1="526" y1="371" x2="526" y2="374" stroke="#222" stroke-width="1.3"/>
<rect x="386.2" y="367.1" width="6.6" height="3.9" fill="#fff" stroke="#111" stroke-width="1"/>
<line x1="389.5" y1="367.1" x2="389.5" y2="366.63" stroke="#111" stroke-width="0.9"/>
<line x1="387.9" y1="366.63" x2="391.1" y2="366.63" stroke="#111" stroke-width="0.9"/>
<circle cx="387.7" cy="368.66" r="1.9" fill="#fff" stroke="#111" stroke-width="1"/>
<circle cx="389.5" cy="367.1" r="1.9" fill="#fff" stroke="#111" stroke-width="1"/>
<circle cx="391.3" cy="366.32" r="1.9" fill="#fff" stroke="#111" stroke-width="1"/>
<circle cx="387.7" cy="364.76" r="1.9" fill="#fff" stroke="#111" stroke-width="1"/>
<circle cx="389.5" cy="365.54" r="1.9" fill="#fff" stroke="#111" stroke-width="1"/>
<rect x="393.6" y="366.32" width="6.6" height="4.68" fill="#d4d4d4" stroke="#111" stroke-width="1"/>
<line x1="396.9" y1="366.32" x2="396.9" y2="365.76" stroke="#111" stroke-width="0.9"/>
<line x1="395.3" y1="365.76" x2="398.5" y2="365.76" stroke="#111" stroke-width="0.9"/>
<circle cx="395.1" cy="367.88" r="1.9" fill="#111"/>
<circle cx="396.9" cy="366.32" r="1.9" fill="#111"/>
<circle cx="398.7" cy="365.54" r="1.9" fill="#111"/>
<circle cx="395.1" cy="363.98" r="1.9" fill="#111"/>
<circle cx="396.9" cy="364.76" r="1.9" fill="#111"/>
<rect x="401" y="365.54" width="6.6" height="5.46" fill="#efcdf7" stroke="#b31ee8" stroke-width="1"/>
<line x1="404.3" y1="365.54" x2="404.3" y2="364.88" stroke="#b31ee8" stroke-width="0.9"/>
<line x1="402.7" y1="364.88" x2="405.9" y2="364.88" stroke="#b31ee8" stroke-width="0.9"/>
<polygon points="400.6,365.58 404.4,365.58 402.5,368.81" fill="none" stroke="#b31ee8" stroke-width="1"/>
<polygon points="402.4,364.8 406.2,364.8 404.3,368.03" fill="none" stroke="#b31ee8" stroke-width="1"/>
<polygon points="404.2,364.02 408,364.02 406.1,367.25" fill="none" stroke="#b31ee8" stroke-width="1"/>
<polygon points="400.6,363.24 404.4,363.24 402.5,366.47" fill="none" stroke="#b31ee8" stroke-width="1"/>
<polygon points="402.4,362.46 406.2,362.46 404.3,365.69" fill="none" stroke="#b31ee8" stroke-width="1"/>
<rect x="412.1" y="367.41" width="6.6" height="3.59" fill="#fff" stroke="#111" stroke-width="1"/>
<line x1="415.4" y1="367.41" x2="415.4" y2="366.98" stroke="#111" stroke-width="0.9"/>
<line x1="413.8" y1="366.98" x2="417" y2="366.98" stroke="#111" stroke-width="0.9"/>
<circle cx="413.6" cy="368.66" r="1.9" fill="#fff" stroke="#111" stroke-width="1"/>
<circle cx="415.4" cy="367.88" r="1.9" fill="#fff" stroke="#111" stroke-width="1"/>
<circle cx="417.2" cy="367.1" r="1.9" fill="#fff" stroke="#111" stroke-width="1"/>
<circle cx="413.6" cy="366.32" r="1.9" fill="#fff" stroke="#111" stroke-width="1"/>
<circle cx="415.4" cy="367.1" r="1.9" fill="#fff" stroke="#111" stroke-width="1"/>
<rect x="419.5" y="367.26" width="6.6" height="3.74" fill="#d4d4d4" stroke="#111" stroke-width="1"/>
<line x1="422.8" y1="367.26" x2="422.8" y2="366.81" stroke="#111" stroke-width="0.9"/>
<line x1="421.2" y1="366.81" x2="424.4" y2="366.81" stroke="#111" stroke-width="0.9"/>
<circle cx="421" cy="367.88" r="1.9" fill="#111"/>
<circle cx="422.8" cy="367.41" r="1.9" fill="#111"/>
<circle cx="424.6" cy="367.1" r="1.9" fill="#111"/>
<circle cx="421" cy="366.63" r="1.9" fill="#111"/>
<circle cx="422.8" cy="366.79" r="1.9" fill="#111"/>
<rect x="426.9" y="365.85" width="6.6" height="5.15" fill="#efcdf7" stroke="#b31ee8" stroke-width="1"/>
<line x1="430.2" y1="365.85" x2="430.2" y2="365.23" stroke="#b31ee8" stroke-width="0.9"/>
<line x1="428.6" y1="365.23" x2="431.8" y2="365.23" stroke="#b31ee8" stroke-width="0.9"/>
<polygon points="426.5,365.58 430.3,365.58 428.4,368.81" fill="none" stroke="#b31ee8" stroke-width="1"/>
<polygon points="428.3,364.8 432.1,364.8 430.2,368.03" fill="none" stroke="#b31ee8" stroke-width="1"/>
<polygon points="430.1,364.02 433.9,364.02 432,367.25" fill="none" stroke="#b31ee8" stroke-width="1"/>
<polygon points="426.5,363.55 430.3,363.55 428.4,366.78" fill="none" stroke="#b31ee8" stroke-width="1"/>
<polygon points="428.3,363.24 432.1,363.24 430.2,366.47" fill="none" stroke="#b31ee8" stroke-width="1"/>
<rect x="438.3" y="345.26" width="6.6" height="25.74" fill="#fff" stroke="#111" stroke-width="1"/>
<line x1="441.6" y1="345.26" x2="441.6" y2="342.17" stroke="#111" stroke-width="0.9"/>
<line x1="440" y1="342.17" x2="443.2" y2="342.17" stroke="#111" stroke-width="0.9"/>
<circle cx="439.8" cy="356.96" r="1.9" fill="#fff" stroke="#111" stroke-width="1"/>
<circle cx="441.6" cy="350.72" r="1.9" fill="#fff" stroke="#111" stroke-width="1"/>
<circle cx="443.4" cy="346.04" r="1.9" fill="#fff" stroke="#111" stroke-width="1"/>
<circle cx="439.8" cy="339.8" r="1.9" fill="#fff" stroke="#111" stroke-width="1"/>
<rect x="445.7" y="350.72" width="6.6" height="20.28" fill="#d4d4d4" stroke="#111" stroke-width="1"/>
<line x1="449" y1="350.72" x2="449" y2="348.29" stroke="#111" stroke-width="0.9"/>
<line x1="447.4" y1="348.29" x2="450.6" y2="348.29" stroke="#111" stroke-width="0.9"/>
<circle cx="447.2" cy="356.96" r="1.9" fill="#111"/>
<circle cx="449" cy="353.84" r="1.9" fill="#111"/>
<circle cx="450.8" cy="350.72" r="1.9" fill="#111"/>
<circle cx="447.2" cy="347.6" r="1.9" fill="#111"/>
<rect x="453.1" y="343.7" width="6.6" height="27.3" fill="#efcdf7" stroke="#b31ee8" stroke-width="1"/>
<line x1="456.4" y1="343.7" x2="456.4" y2="340.42" stroke="#b31ee8" stroke-width="0.9"/>
<line x1="454.8" y1="340.42" x2="458" y2="340.42" stroke="#b31ee8" stroke-width="0.9"/>
<polygon points="452.7,347.64 456.5,347.64 454.6,350.87" fill="none" stroke="#b31ee8" stroke-width="1"/>
<polygon points="454.5,344.52 458.3,344.52 456.4,347.75" fill="none" stroke="#b31ee8" stroke-width="1"/>
<polygon points="456.3,341.4 460.1,341.4 458.2,344.63" fill="none" stroke="#b31ee8" stroke-width="1"/>
<polygon points="452.7,338.28 456.5,338.28 454.6,341.51" fill="none" stroke="#b31ee8" stroke-width="1"/>
<rect x="464" y="366.63" width="6.6" height="4.37" fill="#fff" stroke="#111" stroke-width="1"/>
<line x1="467.3" y1="366.63" x2="467.3" y2="366.11" stroke="#111" stroke-width="0.9"/>
<line x1="465.7" y1="366.11" x2="468.9" y2="366.11" stroke="#111" stroke-width="0.9"/>
<circle cx="465.5" cy="367.88" r="1.9" fill="#fff" stroke="#111" stroke-width="1"/>
<circle cx="467.3" cy="367.1" r="1.9" fill="#fff" stroke="#111" stroke-width="1"/>
<circle cx="469.1" cy="366.32" r="1.9" fill="#fff" stroke="#111" stroke-width="1"/>
<circle cx="465.5" cy="365.54" r="1.9" fill="#fff" stroke="#111" stroke-width="1"/>
<circle cx="467.3" cy="366.32" r="1.9" fill="#fff" stroke="#111" stroke-width="1"/>
<rect x="471.4" y="366.79" width="6.6" height="4.21" fill="#d4d4d4" stroke="#111" stroke-width="1"/>
<line x1="474.7" y1="366.79" x2="474.7" y2="366.28" stroke="#111" stroke-width="0.9"/>
<line x1="473.1" y1="366.28" x2="476.3" y2="366.28" stroke="#111" stroke-width="0.9"/>
<circle cx="472.9" cy="367.88" r="1.9" fill="#111"/>
<circle cx="474.7" cy="367.1" r="1.9" fill="#111"/>
<circle cx="476.5" cy="366.63" r="1.9" fill="#111"/>
<circle cx="472.9" cy="366.32" r="1.9" fill="#111"/>
<circle cx="474.7" cy="366.01" r="1.9" fill="#111"/>
<rect x="478.8" y="365.07" width="6.6" height="5.93" fill="#efcdf7" stroke="#b31ee8" stroke-width="1"/>
<line x1="482.1" y1="365.07" x2="482.1" y2="364.36" stroke="#b31ee8" stroke-width="0.9"/>
<line x1="480.5" y1="364.36" x2="483.7" y2="364.36" stroke="#b31ee8" stroke-width="0.9"/>
<polygon points="478.4,366.36 482.2,366.36 480.3,369.59" fill="none" stroke="#b31ee8" stroke-width="1"/>
<polygon points="480.2,364.8 484,364.8 482.1,368.03" fill="none" stroke="#b31ee8" stroke-width="1"/>
<polygon points="482,363.24 485.8,363.24 483.9,366.47" fill="none" stroke="#b31ee8" stroke-width="1"/>
<polygon points="478.4,361.68 482.2,361.68 480.3,364.91" fill="none" stroke="#b31ee8" stroke-width="1"/>
<polygon points="480.2,360.12 484,360.12 482.1,363.35" fill="none" stroke="#b31ee8" stroke-width="1"/>
<rect x="489.7" y="367.88" width="6.6" height="3.12" fill="#fff" stroke="#111" stroke-width="1"/>
<line x1="493" y1="367.88" x2="493" y2="367.51" stroke="#111" stroke-width="0.9"/>
<line x1="491.4" y1="367.51" x2="494.6" y2="367.51" stroke="#111" stroke-width="0.9"/>
<circle cx="491.2" cy="370.22" r="1.9" fill="#fff" stroke="#111" stroke-width="1"/>
<circle cx="493" cy="368.66" r="1.9" fill="#fff" stroke="#111" stroke-width="1"/>
<circle cx="494.8" cy="367.88" r="1.9" fill="#fff" stroke="#111" stroke-width="1"/>
<circle cx="491.2" cy="367.1" r="1.9" fill="#fff" stroke="#111" stroke-width="1"/>
<circle cx="493" cy="366.32" r="1.9" fill="#fff" stroke="#111" stroke-width="1"/>
<rect x="497.1" y="367.88" width="6.6" height="3.12" fill="#d4d4d4" stroke="#111" stroke-width="1"/>
<line x1="500.4" y1="367.88" x2="500.4" y2="367.51" stroke="#111" stroke-width="0.9"/>
<line x1="498.8" y1="367.51" x2="502" y2="367.51" stroke="#111" stroke-width="0.9"/>
<circle cx="498.6" cy="368.66" r="1.9" fill="#111"/>
<circle cx="500.4" cy="368.19" r="1.9" fill="#111"/>
<circle cx="502.2" cy="367.88" r="1.9" fill="#111"/>
<circle cx="498.6" cy="367.57" r="1.9" fill="#111"/>
<circle cx="500.4" cy="367.1" r="1.9" fill="#111"/>
<rect x="504.5" y="366.63" width="6.6" height="4.37" fill="#efcdf7" stroke="#b31ee8" stroke-width="1"/>
<line x1="507.8" y1="366.63" x2="507.8" y2="366.11" stroke="#b31ee8" stroke-width="0.9"/>
<line x1="506.2" y1="366.11" x2="509.4" y2="366.11" stroke="#b31ee8" stroke-width="0.9"/>
<polygon points="504.1,366.36 507.9,366.36 506,369.59" fill="none" stroke="#b31ee8" stroke-width="1"/>
<polygon points="505.9,365.58 509.7,365.58 507.8,368.81" fill="none" stroke="#b31ee8" stroke-width="1"/>
<polygon points="507.7,364.8 511.5,364.8 509.6,368.03" fill="none" stroke="#b31ee8" stroke-width="1"/>
<polygon points="504.1,364.02 507.9,364.02 506,367.25" fill="none" stroke="#b31ee8" stroke-width="1"/>
<polygon points="505.9,364.49 509.7,364.49 507.8,367.72" fill="none" stroke="#b31ee8" stroke-width="1"/>
<rect x="515.4" y="367.88" width="6.6" height="3.12" fill="#fff" stroke="#111" stroke-width="1"/>
<line x1="518.7" y1="367.88" x2="518.7" y2="367.51" stroke="#111" stroke-width="0.9"/>
<line x1="517.1" y1="367.51" x2="520.3" y2="367.51" stroke="#111" stroke-width="0.9"/>
<circle cx="516.9" cy="369.44" r="1.9" fill="#fff" stroke="#111" stroke-width="1"/>
<circle cx="518.7" cy="368.66" r="1.9" fill="#fff" stroke="#111" stroke-width="1"/>
<circle cx="520.5" cy="367.88" r="1.9" fill="#fff" stroke="#111" stroke-width="1"/>
<circle cx="516.9" cy="367.1" r="1.9" fill="#fff" stroke="#111" stroke-width="1"/>
<circle cx="518.7" cy="366.32" r="1.9" fill="#fff" stroke="#111" stroke-width="1"/>
<rect x="522.8" y="365.07" width="6.6" height="5.93" fill="#d4d4d4" stroke="#111" stroke-width="1"/>
<line x1="526.1" y1="365.07" x2="526.1" y2="364.36" stroke="#111" stroke-width="0.9"/>
<line x1="524.5" y1="364.36" x2="527.7" y2="364.36" stroke="#111" stroke-width="0.9"/>
<circle cx="524.3" cy="367.1" r="1.9" fill="#111"/>
<circle cx="526.1" cy="365.54" r="1.9" fill="#111"/>
<circle cx="527.9" cy="363.98" r="1.9" fill="#111"/>
<circle cx="524.3" cy="362.42" r="1.9" fill="#111"/>
<circle cx="526.1" cy="361.64" r="1.9" fill="#111"/>
<rect x="530.2" y="341.05" width="6.6" height="29.95" fill="#efcdf7" stroke="#b31ee8" stroke-width="1"/>
<polygon points="529.8,364.8 533.6,364.8 531.7,368.03" fill="none" stroke="#b31ee8" stroke-width="1"/>
<polygon points="531.6,358.56 535.4,358.56 533.5,361.79" fill="none" stroke="#b31ee8" stroke-width="1"/>
<polygon points="533.4,352.32 537.2,352.32 535.3,355.55" fill="none" stroke="#b31ee8" stroke-width="1"/>
<polygon points="529.8,346.08 533.6,346.08 531.7,349.31" fill="none" stroke="#b31ee8" stroke-width="1"/>
<polygon points="531.6,339.84 535.4,339.84 533.5,343.07" fill="none" stroke="#b31ee8" stroke-width="1"/>
<polygon points="533.4,333.6 537.2,333.6 535.3,336.83" fill="none" stroke="#b31ee8" stroke-width="1"/>
<circle cx="441.7" cy="326.23" r="1.7" fill="#fff" stroke="#111" stroke-width="0.9"/>
<circle cx="441.5" cy="339.8" r="1.7" fill="#fff" stroke="#111" stroke-width="0.9"/>
<circle cx="449.2" cy="340.58" r="1.7" fill="#111"/>
<polygon points="454.9,327.52 458.3,327.52 456.6,330.41" fill="none" stroke="#b31ee8" stroke-width="0.9"/>
<polygon points="531.6,302.56 535,302.56 533.3,305.45" fill="none" stroke="#b31ee8" stroke-width="0.9"/>
<polygon points="531.6,308.02 535,308.02 533.3,310.91" fill="none" stroke="#b31ee8" stroke-width="0.9"/>
<line x1="533.3" y1="341.05" x2="533.3" y2="329.66" stroke="#b31ee8" stroke-width="1"/>
<line x1="531.5" y1="329.66" x2="535.1" y2="329.66" stroke="#b31ee8" stroke-width="1"/>
<text x="530.7" y="293.2" text-anchor="middle">0.04</text>
<polyline points="526.7,298.2 526.7,296.2 534.2,296.2 534.2,298.2" fill="none" stroke="#111" stroke-width="1"/>
<text x="400.8" y="380" text-anchor="end" transform="rotate(-45 400.8 380)">Heart</text>
<text x="426.7" y="380" text-anchor="end" transform="rotate(-45 426.7 380)">Liver</text>
<text x="452.9" y="380" text-anchor="end" transform="rotate(-45 452.9 380)">Spleen</text>
<text x="478.6" y="380" text-anchor="end" transform="rotate(-45 478.6 380)">Lung</text>
<text x="504.3" y="380" text-anchor="end" transform="rotate(-45 504.3 380)">Kidney</text>
<text x="530" y="380" text-anchor="end" transform="rotate(-45 530 380)">Tumor</text>
<text x="343" y="337.6" text-anchor="middle" transform="rotate(-90 343 337.6)">Iron Content</text>
<text x="353.5" y="341" text-anchor="middle" transform="rotate(-90 353.5 341)">(µg Fe/gram of tissue )</text>
<line x1="409.2" y1="416.7" x2="430.8" y2="416.7" stroke="#333" stroke-width="1.3"/>
<circle cx="419.6" cy="416.7" r="2" fill="#fff" stroke="#111" stroke-width="1"/>
<text x="442.7" y="419.6">Sham &#160;Control</text>
<line x1="409.2" y1="431.6" x2="430.8" y2="431.6" stroke="#333" stroke-width="1.3"/>
<circle cx="419.6" cy="431.6" r="2.2" fill="#111"/>
<text x="442.7" y="434.5">MOF-Fe</text>
<line x1="517.7" y1="416.7" x2="538.8" y2="416.7" stroke="#a47a3c" stroke-width="1.3"/>
<polygon points="526,418.38 530.2,418.38 528.1,414.81" fill="#fff" stroke="#a47a3c" stroke-width="1"/>
<text x="551.4" y="420">PEF Ablation</text>
<line x1="517.7" y1="431.6" x2="538.8" y2="431.6" stroke="#b31ee8" stroke-width="1.3"/>
<polygon points="526,429.92 530.2,429.92 528.1,433.49" fill="#b31ee8" stroke="#b31ee8" stroke-width="0.5"/>
<text x="551.4" y="434.7">PEF Ablation + MOF-Fe</text>
<text transform="translate(553.6,301) scale(1.12,1)" font-size="15.5" font-weight="bold" fill="#000" stroke="#000" stroke-width="0.5">l</text>
<line x1="598.8" y1="292.2" x2="598.8" y2="370.4" stroke="#222" stroke-width="1.3"/>
<line x1="595.8" y1="370.4" x2="598.8" y2="370.4" stroke="#222" stroke-width="1.3"/>
<text x="594.2" y="373.35" text-anchor="end">0</text>
<line x1="595.8" y1="350.85" x2="598.8" y2="350.85" stroke="#222" stroke-width="1.3"/>
<text x="594.2" y="353.8" text-anchor="end">500</text>
<line x1="595.8" y1="331.3" x2="598.8" y2="331.3" stroke="#222" stroke-width="1.3"/>
<text x="594.2" y="334.25" text-anchor="end">1000</text>
<line x1="595.8" y1="311.75" x2="598.8" y2="311.75" stroke="#222" stroke-width="1.3"/>
<text x="594.2" y="314.7" text-anchor="end">1500</text>
<line x1="595.8" y1="292.2" x2="598.8" y2="292.2" stroke="#222" stroke-width="1.3"/>
<text x="594.2" y="295.15" text-anchor="end">2000</text>
<line x1="598.8" y1="370.4" x2="679" y2="370.4" stroke="#222" stroke-width="1.3"/>
<line x1="599.2" y1="370.4" x2="599.2" y2="373.4" stroke="#222" stroke-width="1.3"/>
<line x1="621.7" y1="370.4" x2="621.7" y2="373.4" stroke="#222" stroke-width="1.3"/>
<line x1="644.2" y1="370.4" x2="644.2" y2="373.4" stroke="#222" stroke-width="1.3"/>
<line x1="666.7" y1="370.4" x2="666.7" y2="373.4" stroke="#222" stroke-width="1.3"/>
<text x="599.2" y="382.7" text-anchor="middle">0</text>
<text x="621.7" y="382.7" text-anchor="middle">10</text>
<text x="644.2" y="382.7" text-anchor="middle">20</text>
<text x="666.7" y="382.7" text-anchor="middle">30</text>
<text x="634.9" y="393.3" text-anchor="middle">Days from &#160;Enrollment</text>
<text transform="translate(573,336) rotate(-90)" text-anchor="middle" fill="#111">Tumor Volume (mm<tspan font-size="6" dy="-3">3</tspan><tspan dy="3">)</tspan></text>
<text x="649.6" y="357.6">&lt; 0.0001</text>
<polyline points="599.2,366.88 605.95,368.84 614.95,368.84 621.7,368.05 626.2,365.71 635.2,360.62 644.2,354.76 650.95,330.13 655.45,316.44 664.45,311.75 673.45,309.01" fill="none" stroke="#b31ee8" stroke-width="1.2"/>
<polygon points="596.9,365.04 601.5,365.04 599.2,368.95" fill="#b31ee8" stroke="#b31ee8" stroke-width="0.5"/>
<polygon points="603.65,367 608.25,367 605.95,370.91" fill="#b31ee8" stroke="#b31ee8" stroke-width="0.5"/>
<polygon points="612.65,367 617.25,367 614.95,370.91" fill="#b31ee8" stroke="#b31ee8" stroke-width="0.5"/>
<polygon points="619.4,366.21 624,366.21 621.7,370.12" fill="#b31ee8" stroke="#b31ee8" stroke-width="0.5"/>
<polygon points="623.9,363.87 628.5,363.87 626.2,367.78" fill="#b31ee8" stroke="#b31ee8" stroke-width="0.5"/>
<polygon points="632.9,358.79 637.5,358.79 635.2,362.69" fill="#b31ee8" stroke="#b31ee8" stroke-width="0.5"/>
<line x1="644.2" y1="352.41" x2="644.2" y2="357.11" stroke="#b31ee8" stroke-width="0.9"/>
<line x1="642.7" y1="352.41" x2="645.7" y2="352.41" stroke="#b31ee8" stroke-width="0.9"/>
<line x1="642.7" y1="357.11" x2="645.7" y2="357.11" stroke="#b31ee8" stroke-width="0.9"/>
<polygon points="641.9,352.92 646.5,352.92 644.2,356.83" fill="#b31ee8" stroke="#b31ee8" stroke-width="0.5"/>
<line x1="650.95" y1="327.78" x2="650.95" y2="332.47" stroke="#b31ee8" stroke-width="0.9"/>
<line x1="649.45" y1="327.78" x2="652.45" y2="327.78" stroke="#b31ee8" stroke-width="0.9"/>
<line x1="649.45" y1="332.47" x2="652.45" y2="332.47" stroke="#b31ee8" stroke-width="0.9"/>
<polygon points="648.65,328.29 653.25,328.29 650.95,332.2" fill="#b31ee8" stroke="#b31ee8" stroke-width="0.5"/>
<line x1="655.45" y1="314.1" x2="655.45" y2="318.79" stroke="#b31ee8" stroke-width="0.9"/>
<line x1="653.95" y1="314.1" x2="656.95" y2="314.1" stroke="#b31ee8" stroke-width="0.9"/>
<line x1="653.95" y1="318.79" x2="656.95" y2="318.79" stroke="#b31ee8" stroke-width="0.9"/>
<polygon points="653.15,314.6 657.75,314.6 655.45,318.51" fill="#b31ee8" stroke="#b31ee8" stroke-width="0.5"/>
<line x1="664.45" y1="309.4" x2="664.45" y2="314.1" stroke="#b31ee8" stroke-width="0.9"/>
<line x1="662.95" y1="309.4" x2="665.95" y2="309.4" stroke="#b31ee8" stroke-width="0.9"/>
<line x1="662.95" y1="314.1" x2="665.95" y2="314.1" stroke="#b31ee8" stroke-width="0.9"/>
<polygon points="662.15,309.91 666.75,309.91 664.45,313.82" fill="#b31ee8" stroke="#b31ee8" stroke-width="0.5"/>
<line x1="673.45" y1="306.67" x2="673.45" y2="311.36" stroke="#b31ee8" stroke-width="0.9"/>
<line x1="671.95" y1="306.67" x2="674.95" y2="306.67" stroke="#b31ee8" stroke-width="0.9"/>
<line x1="671.95" y1="311.36" x2="674.95" y2="311.36" stroke="#b31ee8" stroke-width="0.9"/>
<polygon points="671.15,307.17 675.75,307.17 673.45,311.08" fill="#b31ee8" stroke="#b31ee8" stroke-width="0.5"/>
<polyline points="599.2,367.27 605.95,368.05 614.95,367.27 621.7,365.32 626.2,361.8 635.2,356.71 644.2,331.3 650.95,319.57 655.45,305.88 664.45,305.1 673.45,301.97" fill="none" stroke="#a47a3c" stroke-width="1.1"/>
<polygon points="596.9,369.11 601.5,369.11 599.2,365.2" fill="#fff" stroke="#a47a3c" stroke-width="1"/>
<polygon points="603.65,369.89 608.25,369.89 605.95,365.98" fill="#fff" stroke="#a47a3c" stroke-width="1"/>
<polygon points="612.65,369.11 617.25,369.11 614.95,365.2" fill="#fff" stroke="#a47a3c" stroke-width="1"/>
<polygon points="619.4,367.16 624,367.16 621.7,363.25" fill="#fff" stroke="#a47a3c" stroke-width="1"/>
<polygon points="623.9,363.64 628.5,363.64 626.2,359.73" fill="#fff" stroke="#a47a3c" stroke-width="1"/>
<polygon points="632.9,358.55 637.5,358.55 635.2,354.64" fill="#fff" stroke="#a47a3c" stroke-width="1"/>
<line x1="644.2" y1="325.43" x2="644.2" y2="337.16" stroke="#a47a3c" stroke-width="0.9"/>
<line x1="642.7" y1="325.43" x2="645.7" y2="325.43" stroke="#a47a3c" stroke-width="0.9"/>
<line x1="642.7" y1="337.16" x2="645.7" y2="337.16" stroke="#a47a3c" stroke-width="0.9"/>
<polygon points="641.9,333.14 646.5,333.14 644.2,329.23" fill="#fff" stroke="#a47a3c" stroke-width="1"/>
<line x1="650.95" y1="313.7" x2="650.95" y2="325.44" stroke="#a47a3c" stroke-width="0.9"/>
<line x1="649.45" y1="313.7" x2="652.45" y2="313.7" stroke="#a47a3c" stroke-width="0.9"/>
<line x1="649.45" y1="325.44" x2="652.45" y2="325.44" stroke="#a47a3c" stroke-width="0.9"/>
<polygon points="648.65,321.41 653.25,321.41 650.95,317.5" fill="#fff" stroke="#a47a3c" stroke-width="1"/>
<line x1="655.45" y1="300.02" x2="655.45" y2="311.75" stroke="#a47a3c" stroke-width="0.9"/>
<line x1="653.95" y1="300.02" x2="656.95" y2="300.02" stroke="#a47a3c" stroke-width="0.9"/>
<line x1="653.95" y1="311.75" x2="656.95" y2="311.75" stroke="#a47a3c" stroke-width="0.9"/>
<polygon points="653.15,307.72 657.75,307.72 655.45,303.81" fill="#fff" stroke="#a47a3c" stroke-width="1"/>
<line x1="664.45" y1="299.24" x2="664.45" y2="310.97" stroke="#a47a3c" stroke-width="0.9"/>
<line x1="662.95" y1="299.24" x2="665.95" y2="299.24" stroke="#a47a3c" stroke-width="0.9"/>
<line x1="662.95" y1="310.97" x2="665.95" y2="310.97" stroke="#a47a3c" stroke-width="0.9"/>
<polygon points="662.15,306.94 666.75,306.94 664.45,303.03" fill="#fff" stroke="#a47a3c" stroke-width="1"/>
<line x1="673.45" y1="296.11" x2="673.45" y2="307.84" stroke="#a47a3c" stroke-width="0.9"/>
<line x1="671.95" y1="296.11" x2="674.95" y2="296.11" stroke="#a47a3c" stroke-width="0.9"/>
<line x1="671.95" y1="307.84" x2="674.95" y2="307.84" stroke="#a47a3c" stroke-width="0.9"/>
<polygon points="671.15,303.81 675.75,303.81 673.45,299.9" fill="#fff" stroke="#a47a3c" stroke-width="1"/>
<polyline points="599.2,367.27 605.95,363.75 614.95,358.67 621.7,355.54 626.2,350.46 635.2,341.47 644.2,326.61 650.95,313.7 655.45,307.06 664.45,306.28 673.45,305.88" fill="none" stroke="#111" stroke-width="1.3"/>
<circle cx="599.2" cy="367.27" r="2.2" fill="#fff" stroke="#111" stroke-width="1.1"/>
<circle cx="605.95" cy="363.75" r="2.2" fill="#fff" stroke="#111" stroke-width="1.1"/>
<circle cx="614.95" cy="358.67" r="2.2" fill="#fff" stroke="#111" stroke-width="1.1"/>
<circle cx="621.7" cy="355.54" r="2.2" fill="#fff" stroke="#111" stroke-width="1.1"/>
<circle cx="626.2" cy="350.46" r="2.2" fill="#fff" stroke="#111" stroke-width="1.1"/>
<circle cx="635.2" cy="341.47" r="2.2" fill="#fff" stroke="#111" stroke-width="1.1"/>
<line x1="644.2" y1="324.26" x2="644.2" y2="328.95" stroke="#111" stroke-width="0.9"/>
<line x1="642.7" y1="324.26" x2="645.7" y2="324.26" stroke="#111" stroke-width="0.9"/>
<line x1="642.7" y1="328.95" x2="645.7" y2="328.95" stroke="#111" stroke-width="0.9"/>
<circle cx="644.2" cy="326.61" r="2.2" fill="#fff" stroke="#111" stroke-width="1.1"/>
<line x1="650.95" y1="311.36" x2="650.95" y2="316.05" stroke="#111" stroke-width="0.9"/>
<line x1="649.45" y1="311.36" x2="652.45" y2="311.36" stroke="#111" stroke-width="0.9"/>
<line x1="649.45" y1="316.05" x2="652.45" y2="316.05" stroke="#111" stroke-width="0.9"/>
<circle cx="650.95" cy="313.7" r="2.2" fill="#fff" stroke="#111" stroke-width="1.1"/>
<line x1="655.45" y1="304.71" x2="655.45" y2="309.4" stroke="#111" stroke-width="0.9"/>
<line x1="653.95" y1="304.71" x2="656.95" y2="304.71" stroke="#111" stroke-width="0.9"/>
<line x1="653.95" y1="309.4" x2="656.95" y2="309.4" stroke="#111" stroke-width="0.9"/>
<circle cx="655.45" cy="307.06" r="2.2" fill="#fff" stroke="#111" stroke-width="1.1"/>
<line x1="664.45" y1="303.93" x2="664.45" y2="308.62" stroke="#111" stroke-width="0.9"/>
<line x1="662.95" y1="303.93" x2="665.95" y2="303.93" stroke="#111" stroke-width="0.9"/>
<line x1="662.95" y1="308.62" x2="665.95" y2="308.62" stroke="#111" stroke-width="0.9"/>
<circle cx="664.45" cy="306.28" r="2.2" fill="#fff" stroke="#111" stroke-width="1.1"/>
<line x1="673.45" y1="303.54" x2="673.45" y2="308.23" stroke="#111" stroke-width="0.9"/>
<line x1="671.95" y1="303.54" x2="674.95" y2="303.54" stroke="#111" stroke-width="0.9"/>
<line x1="671.95" y1="308.23" x2="674.95" y2="308.23" stroke="#111" stroke-width="0.9"/>
<circle cx="673.45" cy="305.88" r="2.2" fill="#fff" stroke="#111" stroke-width="1.1"/>
<polyline points="599.2,367.27 605.95,363.36 614.95,357.5 621.7,355.93 626.2,350.07 635.2,340.68 644.2,323.48 650.95,311.75 655.45,307.84 664.45,307.06 673.45,306.67" fill="none" stroke="#111" stroke-width="1.3"/>
<circle cx="599.2" cy="367.27" r="2.4" fill="#111"/>
<circle cx="605.95" cy="363.36" r="2.4" fill="#111"/>
<circle cx="614.95" cy="357.5" r="2.4" fill="#111"/>
<circle cx="621.7" cy="355.93" r="2.4" fill="#111"/>
<circle cx="626.2" cy="350.07" r="2.4" fill="#111"/>
<circle cx="635.2" cy="340.68" r="2.4" fill="#111"/>
<line x1="644.2" y1="321.13" x2="644.2" y2="325.83" stroke="#111" stroke-width="0.9"/>
<line x1="642.7" y1="321.13" x2="645.7" y2="321.13" stroke="#111" stroke-width="0.9"/>
<line x1="642.7" y1="325.83" x2="645.7" y2="325.83" stroke="#111" stroke-width="0.9"/>
<circle cx="644.2" cy="323.48" r="2.4" fill="#111"/>
<line x1="650.95" y1="309.4" x2="650.95" y2="314.1" stroke="#111" stroke-width="0.9"/>
<line x1="649.45" y1="309.4" x2="652.45" y2="309.4" stroke="#111" stroke-width="0.9"/>
<line x1="649.45" y1="314.1" x2="652.45" y2="314.1" stroke="#111" stroke-width="0.9"/>
<circle cx="650.95" cy="311.75" r="2.4" fill="#111"/>
<line x1="655.45" y1="305.49" x2="655.45" y2="310.19" stroke="#111" stroke-width="0.9"/>
<line x1="653.95" y1="305.49" x2="656.95" y2="305.49" stroke="#111" stroke-width="0.9"/>
<line x1="653.95" y1="310.19" x2="656.95" y2="310.19" stroke="#111" stroke-width="0.9"/>
<circle cx="655.45" cy="307.84" r="2.4" fill="#111"/>
<line x1="664.45" y1="304.71" x2="664.45" y2="309.4" stroke="#111" stroke-width="0.9"/>
<line x1="662.95" y1="304.71" x2="665.95" y2="304.71" stroke="#111" stroke-width="0.9"/>
<line x1="662.95" y1="309.4" x2="665.95" y2="309.4" stroke="#111" stroke-width="0.9"/>
<circle cx="664.45" cy="307.06" r="2.4" fill="#111"/>
<line x1="673.45" y1="304.32" x2="673.45" y2="309.01" stroke="#111" stroke-width="0.9"/>
<line x1="671.95" y1="304.32" x2="674.95" y2="304.32" stroke="#111" stroke-width="0.9"/>
<line x1="671.95" y1="309.01" x2="674.95" y2="309.01" stroke="#111" stroke-width="0.9"/>
<circle cx="673.45" cy="306.67" r="2.4" fill="#111"/>
<text transform="translate(1.3,479) scale(1.12,1)" font-size="15.5" font-weight="bold" fill="#000" stroke="#000" stroke-width="0.5">m</text>
<rect x="33.4" y="478.5" width="169.3" height="151.1" fill="#fff"/>
<line x1="41" y1="478.5" x2="41" y2="629.6" stroke="#ebebeb" stroke-width="0.9"/>
<line x1="58.15" y1="478.5" x2="58.15" y2="629.6" stroke="#ebebeb" stroke-width="0.6"/>
<line x1="75.3" y1="478.5" x2="75.3" y2="629.6" stroke="#ebebeb" stroke-width="0.9"/>
<line x1="92.45" y1="478.5" x2="92.45" y2="629.6" stroke="#ebebeb" stroke-width="0.6"/>
<line x1="109.6" y1="478.5" x2="109.6" y2="629.6" stroke="#ebebeb" stroke-width="0.9"/>
<line x1="126.75" y1="478.5" x2="126.75" y2="629.6" stroke="#ebebeb" stroke-width="0.6"/>
<line x1="143.9" y1="478.5" x2="143.9" y2="629.6" stroke="#ebebeb" stroke-width="0.9"/>
<line x1="161.05" y1="478.5" x2="161.05" y2="629.6" stroke="#ebebeb" stroke-width="0.6"/>
<line x1="178.2" y1="478.5" x2="178.2" y2="629.6" stroke="#ebebeb" stroke-width="0.9"/>
<line x1="195.35" y1="478.5" x2="195.35" y2="629.6" stroke="#ebebeb" stroke-width="0.6"/>
<line x1="33.4" y1="622.2" x2="202.7" y2="622.2" stroke="#ebebeb" stroke-width="0.9"/>
<line x1="33.4" y1="603.25" x2="202.7" y2="603.25" stroke="#ebebeb" stroke-width="0.6"/>
<line x1="33.4" y1="584.3" x2="202.7" y2="584.3" stroke="#ebebeb" stroke-width="0.9"/>
<line x1="33.4" y1="565.35" x2="202.7" y2="565.35" stroke="#ebebeb" stroke-width="0.6"/>
<line x1="33.4" y1="546.4" x2="202.7" y2="546.4" stroke="#ebebeb" stroke-width="0.9"/>
<line x1="33.4" y1="527.45" x2="202.7" y2="527.45" stroke="#ebebeb" stroke-width="0.6"/>
<line x1="33.4" y1="508.5" x2="202.7" y2="508.5" stroke="#ebebeb" stroke-width="0.9"/>
<line x1="33.4" y1="489.55" x2="202.7" y2="489.55" stroke="#ebebeb" stroke-width="0.6"/>
<line x1="75.3" y1="478.5" x2="75.3" y2="629.6" stroke="#c4c4c4" stroke-width="0.9" stroke-dasharray="4,3"/>
<line x1="143.9" y1="478.5" x2="143.9" y2="629.6" stroke="#c4c4c4" stroke-width="0.9" stroke-dasharray="4,3"/>
<line x1="33.4" y1="598.4" x2="202.7" y2="598.4" stroke="#c4c4c4" stroke-width="0.9" stroke-dasharray="4,3"/>
<g fill="#c2c2c2">
<circle cx="77.33" cy="621.28" r="1.2"/>
<circle cx="76.76" cy="621.7" r="1.2"/>
<circle cx="74.97" cy="621.68" r="1.2"/>
<circle cx="74.79" cy="621.75" r="1.2"/>
<circle cx="69.78" cy="621.3" r="1.2"/>
<circle cx="83.66" cy="621.99" r="1.2"/>
<circle cx="92.71" cy="621.98" r="1.2"/>
<circle cx="94.78" cy="621.78" r="1.2"/>
<circle cx="54.79" cy="615.54" r="1.2"/>
<circle cx="70.38" cy="621.27" r="1.2"/>
<circle cx="89.87" cy="621.82" r="1.2"/>
<circle cx="94.03" cy="622.08" r="1.2"/>
<circle cx="88.48" cy="622.1" r="1.2"/>
<circle cx="76.83" cy="621.91" r="1.2"/>
<circle cx="77.83" cy="621.82" r="1.2"/>
<circle cx="69.33" cy="620.72" r="1.2"/>
<circle cx="75.31" cy="621.69" r="1.2"/>
<circle cx="84.74" cy="621.86" r="1.2"/>
<circle cx="54.13" cy="614.45" r="1.2"/>
<circle cx="66.46" cy="620.8" r="1.2"/>
<circle cx="83.16" cy="622.08" r="1.2"/>
<circle cx="93.58" cy="621.92" r="1.2"/>
<circle cx="63.97" cy="619.03" r="1.2"/>
<circle cx="80.13" cy="621.75" r="1.2"/>
<circle cx="55.82" cy="617.99" r="1.2"/>
<circle cx="87.65" cy="622.1" r="1.2"/>
<circle cx="57.85" cy="615.31" r="1.2"/>
<circle cx="79.66" cy="621.93" r="1.2"/>
<circle cx="93.46" cy="621.83" r="1.2"/>
<circle cx="85.09" cy="621.79" r="1.2"/>
<circle cx="92.86" cy="621.81" r="1.2"/>
<circle cx="64.33" cy="618.6" r="1.2"/>
<circle cx="91.55" cy="622.1" r="1.2"/>
<circle cx="94.02" cy="622" r="1.2"/>
<circle cx="62.67" cy="619.52" r="1.2"/>
<circle cx="77.54" cy="621.63" r="1.2"/>
<circle cx="88.46" cy="622.09" r="1.2"/>
<circle cx="69.19" cy="620.97" r="1.2"/>
<circle cx="91.61" cy="621.97" r="1.2"/>
<circle cx="85.09" cy="622.02" r="1.2"/>
<circle cx="55.27" cy="617.42" r="1.2"/>
<circle cx="58.93" cy="618.1" r="1.2"/>
<circle cx="87.6" cy="621.73" r="1.2"/>
<circle cx="69.27" cy="620.59" r="1.2"/>
<circle cx="92.3" cy="621.95" r="1.2"/>
<circle cx="85.58" cy="622.09" r="1.2"/>
<circle cx="63.7" cy="619.93" r="1.2"/>
<circle cx="93.44" cy="621.94" r="1.2"/>
<circle cx="92.73" cy="621.96" r="1.2"/>
<circle cx="70.99" cy="621.33" r="1.2"/>
<circle cx="80.76" cy="621.39" r="1.2"/>
<circle cx="75.99" cy="621.68" r="1.2"/>
<circle cx="72.13" cy="621.44" r="1.2"/>
<circle cx="90.01" cy="622" r="1.2"/>
<circle cx="57.93" cy="618.33" r="1.2"/>
<circle cx="88.49" cy="621.94" r="1.2"/>
<circle cx="65.12" cy="620.1" r="1.2"/>
<circle cx="56.15" cy="617.8" r="1.2"/>
<circle cx="59.04" cy="618.11" r="1.2"/>
<circle cx="92.15" cy="621.96" r="1.2"/>
<circle cx="94.92" cy="621.94" r="1.2"/>
<circle cx="66.6" cy="620.74" r="1.2"/>
<circle cx="85.64" cy="621.95" r="1.2"/>
<circle cx="84.09" cy="621.79" r="1.2"/>
<circle cx="89.1" cy="622.09" r="1.2"/>
<circle cx="86.85" cy="622.02" r="1.2"/>
<circle cx="72.78" cy="621.33" r="1.2"/>
<circle cx="84.65" cy="621.82" r="1.2"/>
<circle cx="57.55" cy="618.53" r="1.2"/>
<circle cx="85.12" cy="622.06" r="1.2"/>
<circle cx="77.61" cy="621.84" r="1.2"/>
<circle cx="80.88" cy="622.04" r="1.2"/>
<circle cx="72.23" cy="621.35" r="1.2"/>
<circle cx="58.67" cy="618.13" r="1.2"/>
<circle cx="54.86" cy="616.42" r="1.2"/>
<circle cx="71.71" cy="620.97" r="1.2"/>
<circle cx="90.6" cy="622.06" r="1.2"/>
<circle cx="57.85" cy="618.64" r="1.2"/>
<circle cx="66.75" cy="620.75" r="1.2"/>
<circle cx="69.51" cy="621.3" r="1.2"/>
<circle cx="76.06" cy="621.92" r="1.2"/>
<circle cx="54.06" cy="616.03" r="1.2"/>
<circle cx="93.36" cy="621.75" r="1.2"/>
<circle cx="58.28" cy="618.26" r="1.2"/>
<circle cx="65.22" cy="620.2" r="1.2"/>
<circle cx="57.65" cy="616.51" r="1.2"/>
<circle cx="81.6" cy="621.86" r="1.2"/>
<circle cx="59.52" cy="617.01" r="1.2"/>
<circle cx="78.82" cy="621.91" r="1.2"/>
<circle cx="72.2" cy="620.74" r="1.2"/>
<circle cx="69.99" cy="620.85" r="1.2"/>
<circle cx="70.67" cy="621.01" r="1.2"/>
<circle cx="93.15" cy="621.64" r="1.2"/>
<circle cx="59.15" cy="616.34" r="1.2"/>
<circle cx="65.59" cy="619.74" r="1.2"/>
<circle cx="71.86" cy="621.11" r="1.2"/>
<circle cx="77.83" cy="621.97" r="1.2"/>
<circle cx="64.66" cy="620.2" r="1.2"/>
<circle cx="95.3" cy="621.9" r="1.2"/>
<circle cx="86.77" cy="621.94" r="1.2"/>
<circle cx="66.86" cy="619.97" r="1.2"/>
<circle cx="57.42" cy="618.52" r="1.2"/>
<circle cx="85.69" cy="621.89" r="1.2"/>
<circle cx="67.72" cy="621.01" r="1.2"/>
<circle cx="87.95" cy="621.85" r="1.2"/>
<circle cx="68.5" cy="620.02" r="1.2"/>
<circle cx="77.77" cy="621.8" r="1.2"/>
<circle cx="68.24" cy="620.79" r="1.2"/>
<circle cx="88.12" cy="621.71" r="1.2"/>
<circle cx="57.68" cy="617.69" r="1.2"/>
<circle cx="59.13" cy="617.96" r="1.2"/>
<circle cx="83.11" cy="621.87" r="1.2"/>
<circle cx="90.77" cy="621.67" r="1.2"/>
<circle cx="60.47" cy="619.42" r="1.2"/>
<circle cx="66.32" cy="620.26" r="1.2"/>
<circle cx="89.37" cy="622.05" r="1.2"/>
<circle cx="77.4" cy="621.99" r="1.2"/>
<circle cx="78.96" cy="621.86" r="1.2"/>
<circle cx="69.95" cy="620.91" r="1.2"/>
<circle cx="60.88" cy="619.54" r="1.2"/>
<circle cx="54.8" cy="617.09" r="1.2"/>
<circle cx="95.23" cy="622.08" r="1.2"/>
<circle cx="59.44" cy="617.49" r="1.2"/>
<circle cx="72.3" cy="621.47" r="1.2"/>
<circle cx="83.42" cy="622.09" r="1.2"/>
<circle cx="90.79" cy="622.06" r="1.2"/>
<circle cx="77.22" cy="621.36" r="1.2"/>
<circle cx="86.47" cy="622.03" r="1.2"/>
<circle cx="90.57" cy="621.79" r="1.2"/>
<circle cx="77.58" cy="621.89" r="1.2"/>
<circle cx="69.77" cy="620.79" r="1.2"/>
<circle cx="55.8" cy="615.91" r="1.2"/>
<circle cx="67.45" cy="620.77" r="1.2"/>
<circle cx="88.97" cy="621.85" r="1.2"/>
<circle cx="96.11" cy="621.75" r="1.2"/>
<circle cx="88.95" cy="622.04" r="1.2"/>
<circle cx="84.98" cy="621.88" r="1.2"/>
<circle cx="74.43" cy="621.33" r="1.2"/>
<circle cx="70.43" cy="621.43" r="1.2"/>
<circle cx="62.88" cy="619.19" r="1.2"/>
<circle cx="58.02" cy="616.33" r="1.2"/>
<circle cx="65.84" cy="619.83" r="1.2"/>
<circle cx="91.04" cy="621.8" r="1.2"/>
<circle cx="57.86" cy="618.2" r="1.2"/>
<circle cx="80.54" cy="621.54" r="1.2"/>
<circle cx="62.68" cy="619.25" r="1.2"/>
<circle cx="56.4" cy="616.32" r="1.2"/>
<circle cx="87.85" cy="622.03" r="1.2"/>
<circle cx="65.86" cy="620.28" r="1.2"/>
<circle cx="66.04" cy="619.82" r="1.2"/>
<circle cx="131.71" cy="621.56" r="1.2"/>
<circle cx="164.2" cy="615.31" r="1.2"/>
<circle cx="145.47" cy="621.7" r="1.2"/>
<circle cx="161.34" cy="617.65" r="1.2"/>
<circle cx="159.03" cy="619.12" r="1.2"/>
<circle cx="141.39" cy="621.93" r="1.2"/>
<circle cx="146.04" cy="621.69" r="1.2"/>
<circle cx="123.84" cy="621.84" r="1.2"/>
<circle cx="157.05" cy="618.37" r="1.2"/>
<circle cx="129.99" cy="621.94" r="1.2"/>
<circle cx="136.88" cy="622.07" r="1.2"/>
<circle cx="128.96" cy="621.98" r="1.2"/>
<circle cx="144.6" cy="621.74" r="1.2"/>
<circle cx="151.95" cy="619.72" r="1.2"/>
<circle cx="162.86" cy="614.9" r="1.2"/>
<circle cx="126.29" cy="622.08" r="1.2"/>
<circle cx="132.05" cy="621.91" r="1.2"/>
<circle cx="153.63" cy="620.56" r="1.2"/>
<circle cx="149.81" cy="620.22" r="1.2"/>
<circle cx="146.45" cy="621.58" r="1.2"/>
<circle cx="135.89" cy="621.73" r="1.2"/>
<circle cx="160.94" cy="617.25" r="1.2"/>
<circle cx="131.49" cy="621.73" r="1.2"/>
<circle cx="144.93" cy="620.96" r="1.2"/>
<circle cx="147" cy="621.48" r="1.2"/>
<circle cx="144.04" cy="621.44" r="1.2"/>
<circle cx="148.38" cy="620.14" r="1.2"/>
<circle cx="144.58" cy="621.68" r="1.2"/>
<circle cx="139.67" cy="621.96" r="1.2"/>
<circle cx="143.52" cy="621.47" r="1.2"/>
<circle cx="152.02" cy="620.2" r="1.2"/>
<circle cx="140.23" cy="621.92" r="1.2"/>
<circle cx="163.33" cy="617.06" r="1.2"/>
<circle cx="142.76" cy="621.85" r="1.2"/>
<circle cx="128.03" cy="621.72" r="1.2"/>
<circle cx="160.94" cy="617.93" r="1.2"/>
<circle cx="142.9" cy="621.88" r="1.2"/>
<circle cx="148.91" cy="621.11" r="1.2"/>
<circle cx="161.99" cy="616.96" r="1.2"/>
<circle cx="123.6" cy="621.82" r="1.2"/>
<circle cx="130.89" cy="622.05" r="1.2"/>
<circle cx="136.33" cy="621.7" r="1.2"/>
<circle cx="137.75" cy="622.01" r="1.2"/>
<circle cx="153.72" cy="620.4" r="1.2"/>
<circle cx="127.86" cy="621.93" r="1.2"/>
<circle cx="131.04" cy="622.09" r="1.2"/>
<circle cx="145.19" cy="621.44" r="1.2"/>
<circle cx="140.22" cy="621.96" r="1.2"/>
<circle cx="145.15" cy="621.67" r="1.2"/>
<circle cx="149.49" cy="621.03" r="1.2"/>
<circle cx="149.79" cy="620.21" r="1.2"/>
<circle cx="148.65" cy="621.27" r="1.2"/>
<circle cx="159.07" cy="619.18" r="1.2"/>
<circle cx="157.11" cy="618.36" r="1.2"/>
<circle cx="161.03" cy="618.37" r="1.2"/>
<circle cx="161.88" cy="617.51" r="1.2"/>
<circle cx="131.91" cy="621.6" r="1.2"/>
<circle cx="128.33" cy="622.1" r="1.2"/>
<circle cx="132.81" cy="622.08" r="1.2"/>
<circle cx="126.76" cy="621.93" r="1.2"/>
<circle cx="158.03" cy="618.11" r="1.2"/>
<circle cx="127.99" cy="621.91" r="1.2"/>
<circle cx="139.76" cy="622.06" r="1.2"/>
<circle cx="131.18" cy="622.06" r="1.2"/>
<circle cx="151.66" cy="619.57" r="1.2"/>
<circle cx="127.54" cy="621.79" r="1.2"/>
<circle cx="144.14" cy="621.88" r="1.2"/>
<circle cx="151.8" cy="620.22" r="1.2"/>
<circle cx="130.67" cy="622" r="1.2"/>
<circle cx="124.23" cy="622.06" r="1.2"/>
<circle cx="146.1" cy="621.16" r="1.2"/>
<circle cx="128.87" cy="622.08" r="1.2"/>
<circle cx="130.48" cy="621.98" r="1.2"/>
<circle cx="164.75" cy="614.74" r="1.2"/>
<circle cx="162.06" cy="618.08" r="1.2"/>
<circle cx="163.1" cy="617.83" r="1.2"/>
<circle cx="142.29" cy="621.98" r="1.2"/>
<circle cx="142.49" cy="621.68" r="1.2"/>
<circle cx="144.55" cy="621.37" r="1.2"/>
<circle cx="123.2" cy="621.97" r="1.2"/>
<circle cx="152.45" cy="620.64" r="1.2"/>
<circle cx="141.94" cy="621.84" r="1.2"/>
<circle cx="154.08" cy="620.15" r="1.2"/>
<circle cx="129.66" cy="622.02" r="1.2"/>
<circle cx="144.43" cy="621.03" r="1.2"/>
<circle cx="156.73" cy="619.79" r="1.2"/>
<circle cx="152.61" cy="620.23" r="1.2"/>
<circle cx="139.84" cy="621.74" r="1.2"/>
<circle cx="148.14" cy="620.07" r="1.2"/>
<circle cx="156.86" cy="619.88" r="1.2"/>
<circle cx="133.62" cy="621.75" r="1.2"/>
<circle cx="155.72" cy="619.47" r="1.2"/>
<circle cx="157.28" cy="618.17" r="1.2"/>
<circle cx="160.06" cy="617.74" r="1.2"/>
<circle cx="152.19" cy="620.81" r="1.2"/>
<circle cx="139.89" cy="621.55" r="1.2"/>
<circle cx="153.37" cy="620.11" r="1.2"/>
<circle cx="142.57" cy="621.85" r="1.2"/>
<circle cx="123.08" cy="621.91" r="1.2"/>
<circle cx="149.17" cy="620.78" r="1.2"/>
<circle cx="132.51" cy="621.77" r="1.2"/>
<circle cx="137" cy="621.96" r="1.2"/>
<circle cx="150.69" cy="620.5" r="1.2"/>
<circle cx="139.2" cy="621.94" r="1.2"/>
<circle cx="165.16" cy="615.86" r="1.2"/>
<circle cx="155.03" cy="619.38" r="1.2"/>
<circle cx="164.32" cy="615.66" r="1.2"/>
<circle cx="154.06" cy="620.43" r="1.2"/>
<circle cx="133.55" cy="622.04" r="1.2"/>
<circle cx="130.95" cy="622.06" r="1.2"/>
<circle cx="138.61" cy="621.92" r="1.2"/>
<circle cx="161.15" cy="618.22" r="1.2"/>
<circle cx="146.03" cy="620.58" r="1.2"/>
<circle cx="146.79" cy="621.62" r="1.2"/>
<circle cx="164.96" cy="615.64" r="1.2"/>
<circle cx="125.87" cy="621.79" r="1.2"/>
<circle cx="148.05" cy="621.53" r="1.2"/>
<circle cx="162.2" cy="618.02" r="1.2"/>
<circle cx="129.44" cy="621.97" r="1.2"/>
<circle cx="143.71" cy="621.89" r="1.2"/>
<circle cx="148.63" cy="620.28" r="1.2"/>
<circle cx="140.53" cy="621.79" r="1.2"/>
<circle cx="145.04" cy="621.51" r="1.2"/>
<circle cx="134.79" cy="621.96" r="1.2"/>
<circle cx="150.5" cy="620.75" r="1.2"/>
<circle cx="153.11" cy="620.54" r="1.2"/>
<circle cx="135.23" cy="621.91" r="1.2"/>
<circle cx="124.45" cy="622.09" r="1.2"/>
<circle cx="129.29" cy="622.1" r="1.2"/>
<circle cx="160.81" cy="617.68" r="1.2"/>
<circle cx="154.46" cy="618.26" r="1.2"/>
<circle cx="162.8" cy="616.96" r="1.2"/>
<circle cx="125.76" cy="621.91" r="1.2"/>
<circle cx="142.95" cy="621.75" r="1.2"/>
<circle cx="164.02" cy="617.72" r="1.2"/>
<circle cx="162.5" cy="616.71" r="1.2"/>
<circle cx="153.37" cy="618.73" r="1.2"/>
<circle cx="157.37" cy="619.3" r="1.2"/>
<circle cx="148.31" cy="620.96" r="1.2"/>
<circle cx="142.02" cy="621.69" r="1.2"/>
<circle cx="131.3" cy="621.83" r="1.2"/>
<circle cx="127.92" cy="622.01" r="1.2"/>
<circle cx="141.47" cy="621.85" r="1.2"/>
<circle cx="133.78" cy="621.86" r="1.2"/>
<circle cx="147.4" cy="620.87" r="1.2"/>
<circle cx="145.21" cy="621.46" r="1.2"/>
<circle cx="165.07" cy="615" r="1.2"/>
<circle cx="132.77" cy="621.99" r="1.2"/>
<circle cx="127.48" cy="621.79" r="1.2"/>
<circle cx="149.22" cy="620.79" r="1.2"/>
<circle cx="51.29" cy="610.83" r="1.2"/>
<circle cx="54.72" cy="613.67" r="1.2"/>
<circle cx="56.43" cy="611.78" r="1.2"/>
<circle cx="58.15" cy="614.62" r="1.2"/>
<circle cx="59.87" cy="611.21" r="1.2"/>
<circle cx="166.19" cy="605.15" r="1.2"/>
<circle cx="167.91" cy="601.36" r="1.2"/>
<circle cx="165.17" cy="609.88" r="1.2"/>
<circle cx="162.76" cy="611.21" r="1.2"/>
<circle cx="164.48" cy="612.73" r="1.2"/>
<circle cx="168.6" cy="607.99" r="1.2"/>
</g>
<circle cx="178.3" cy="588.1" r="1.2" fill="#f08a8a"/>
<circle cx="172.7" cy="593.5" r="1.2" fill="#f08a8a"/>
<circle cx="176.5" cy="594.3" r="1.2" fill="#f08a8a"/>
<circle cx="170.3" cy="598" r="1.2" fill="#f08a8a"/>
<circle cx="179" cy="587" r="1.2" fill="#f08a8a"/>
<circle cx="40.7" cy="562.3" r="1.2" fill="#6aaed6"/>
<circle cx="43.5" cy="594.7" r="1.2" fill="#6aaed6"/>
<line x1="178" y1="486.5" x2="193.5" y2="485.4" stroke="#b0b0b0" stroke-width="0.6"/>
<line x1="161" y1="498.5" x2="181.1" y2="493.2" stroke="#b0b0b0" stroke-width="0.6"/>
<line x1="181" y1="532" x2="184.8" y2="558" stroke="#b0b0b0" stroke-width="0.6"/>
<line x1="150" y1="553" x2="181.2" y2="561.8" stroke="#b0b0b0" stroke-width="0.6"/>
<line x1="166" y1="566" x2="182.2" y2="563.3" stroke="#b0b0b0" stroke-width="0.6"/>
<line x1="168" y1="585" x2="177.2" y2="579.9" stroke="#b0b0b0" stroke-width="0.6"/>
<circle cx="193.5" cy="485.4" r="1.8" fill="#8b0000"/>
<circle cx="181.1" cy="493.2" r="1.8" fill="#8b0000"/>
<circle cx="185.4" cy="559" r="1.8" fill="#8b0000"/>
<circle cx="181.6" cy="562.3" r="1.8" fill="#8b0000"/>
<circle cx="182.6" cy="563.5" r="1.8" fill="#8b0000"/>
<circle cx="177.2" cy="579.9" r="1.8" fill="#8b0000"/>
<text x="177.1" y="488.1" font-size="8.3" text-anchor="end" fill="#a31c22">NRF2 pathway</text>
<text x="194.4" y="507.4" font-size="8.3" text-anchor="end" fill="#a31c22">Nuclear receptors metapathway</text>
<text x="194" y="530.7" font-size="8.3" text-anchor="end" fill="#a31c22">NRF2 ARE regulation</text>
<text x="39.3" y="544.6" font-size="8.3" fill="#a31c22">Transcriptional activation by NRF2</text>
<text x="39.3" y="554" font-size="8.3" fill="#a31c22">in response to phytochemicals</text>
<text x="39.4" y="571.3" font-size="8.3" fill="#a31c22">Anti-viral&amp;anti-inflammation effects</text>
<text x="39.4" y="580.4" font-size="8.3" fill="#a31c22">of NRF2 on SARSCOV2</text>
<text x="169" y="590.2" font-size="8.3" text-anchor="end" fill="#a31c22">Ferroptosis</text>
<rect x="33.4" y="478.5" width="169.3" height="151.1" fill="none" stroke="#333" stroke-width="1"/>
<line x1="30.9" y1="622.2" x2="33.4" y2="622.2" stroke="#333" stroke-width="0.9"/>
<text x="29.4" y="625.1" text-anchor="end" fill="#222">0</text>
<line x1="30.9" y1="584.3" x2="33.4" y2="584.3" stroke="#333" stroke-width="0.9"/>
<text x="29.4" y="587.2" text-anchor="end" fill="#222">2</text>
<line x1="30.9" y1="546.4" x2="33.4" y2="546.4" stroke="#333" stroke-width="0.9"/>
<text x="29.4" y="549.3" text-anchor="end" fill="#222">4</text>
<line x1="30.9" y1="508.5" x2="33.4" y2="508.5" stroke="#333" stroke-width="0.9"/>
<text x="29.4" y="511.4" text-anchor="end" fill="#222">6</text>
<line x1="41" y1="629.6" x2="41" y2="632.1" stroke="#333" stroke-width="0.9"/>
<text x="39.5" y="642" text-anchor="middle" fill="#222">−2</text>
<line x1="75.3" y1="629.6" x2="75.3" y2="632.1" stroke="#333" stroke-width="0.9"/>
<text x="73.8" y="642" text-anchor="middle" fill="#222">−1</text>
<line x1="109.6" y1="629.6" x2="109.6" y2="632.1" stroke="#333" stroke-width="0.9"/>
<text x="109.6" y="642" text-anchor="middle" fill="#222">0</text>
<line x1="143.9" y1="629.6" x2="143.9" y2="632.1" stroke="#333" stroke-width="0.9"/>
<text x="143.9" y="642" text-anchor="middle" fill="#222">1</text>
<line x1="178.2" y1="629.6" x2="178.2" y2="632.1" stroke="#333" stroke-width="0.9"/>
<text x="178.2" y="642" text-anchor="middle" fill="#222">2</text>
<text x="113" y="655.1" text-anchor="middle" fill="#222">NES</text>
<text x="114.7" y="475.4" font-size="7.7" text-anchor="middle" fill="#222">Panc-1, MOF-Fe vs. Control, GSEA, 48 h</text>
<text transform="translate(15,561.5) rotate(-90)" text-anchor="middle" fill="#222">−Log<tspan font-size="5" dy="1.5">10</tspan><tspan dy="-1.5">(</tspan><tspan font-style="italic">p.adjust</tspan>)</text>
<text transform="translate(253.3,476.8) scale(1.12,1)" font-size="15.5" font-weight="bold" fill="#000" stroke="#000" stroke-width="0.5">n</text>
<rect x="277.5" y="476" width="163.5" height="148.8" fill="#fff"/>
<line x1="284.65" y1="476" x2="284.65" y2="624.8" stroke="#ebebeb" stroke-width="0.6"/>
<line x1="309.5" y1="476" x2="309.5" y2="624.8" stroke="#ebebeb" stroke-width="0.9"/>
<line x1="334.35" y1="476" x2="334.35" y2="624.8" stroke="#ebebeb" stroke-width="0.6"/>
<line x1="359.2" y1="476" x2="359.2" y2="624.8" stroke="#ebebeb" stroke-width="0.9"/>
<line x1="384.05" y1="476" x2="384.05" y2="624.8" stroke="#ebebeb" stroke-width="0.6"/>
<line x1="408.9" y1="476" x2="408.9" y2="624.8" stroke="#ebebeb" stroke-width="0.9"/>
<line x1="433.75" y1="476" x2="433.75" y2="624.8" stroke="#ebebeb" stroke-width="0.6"/>
<line x1="277.5" y1="618.2" x2="441" y2="618.2" stroke="#ebebeb" stroke-width="0.9"/>
<line x1="277.5" y1="587.8" x2="441" y2="587.8" stroke="#ebebeb" stroke-width="0.6"/>
<line x1="277.5" y1="557.4" x2="441" y2="557.4" stroke="#ebebeb" stroke-width="0.9"/>
<line x1="277.5" y1="527" x2="441" y2="527" stroke="#ebebeb" stroke-width="0.6"/>
<line x1="277.5" y1="496.6" x2="441" y2="496.6" stroke="#ebebeb" stroke-width="0.9"/>
<line x1="277.5" y1="603" x2="441" y2="603" stroke="#ebebeb" stroke-width="0.6"/>
<line x1="277.5" y1="572.6" x2="441" y2="572.6" stroke="#ebebeb" stroke-width="0.6"/>
<line x1="277.5" y1="542.2" x2="441" y2="542.2" stroke="#ebebeb" stroke-width="0.6"/>
<line x1="277.5" y1="511.8" x2="441" y2="511.8" stroke="#ebebeb" stroke-width="0.6"/>
<line x1="277.5" y1="481.4" x2="441" y2="481.4" stroke="#ebebeb" stroke-width="0.6"/>
<line x1="349.81" y1="476" x2="349.81" y2="624.8" stroke="#b8b8b8" stroke-width="0.9" stroke-dasharray="4,3"/>
<line x1="368.59" y1="476" x2="368.59" y2="624.8" stroke="#b8b8b8" stroke-width="0.9" stroke-dasharray="4,3"/>
<line x1="277.5" y1="610.3" x2="441" y2="610.3" stroke="#b8b8b8" stroke-width="0.9" stroke-dasharray="4,3"/>
<g fill="#bdbdbd" fill-opacity="0.85">
<circle cx="332.43" cy="611.63" r="1.3"/>
<circle cx="355.48" cy="617.97" r="1.3"/>
<circle cx="361.55" cy="616.67" r="1.3"/>
<circle cx="336.05" cy="615.63" r="1.3"/>
<circle cx="373.67" cy="614.56" r="1.3"/>
<circle cx="361.67" cy="618.2" r="1.3"/>
<circle cx="346.17" cy="614.4" r="1.3"/>
<circle cx="359.07" cy="615.79" r="1.3"/>
<circle cx="315.5" cy="612.08" r="1.3"/>
<circle cx="390.28" cy="611.45" r="1.3"/>
<circle cx="365.24" cy="616.01" r="1.3"/>
<circle cx="353.18" cy="616.59" r="1.3"/>
<circle cx="369.03" cy="616.11" r="1.3"/>
<circle cx="356.36" cy="615.74" r="1.3"/>
<circle cx="350.95" cy="618.15" r="1.3"/>
<circle cx="349.38" cy="614.53" r="1.3"/>
<circle cx="367.29" cy="617.94" r="1.3"/>
<circle cx="369.61" cy="614.52" r="1.3"/>
<circle cx="333.94" cy="615.63" r="1.3"/>
<circle cx="355.83" cy="616.19" r="1.3"/>
<circle cx="362.69" cy="617.74" r="1.3"/>
<circle cx="373.19" cy="614.53" r="1.3"/>
<circle cx="355.56" cy="615.69" r="1.3"/>
<circle cx="360.52" cy="615.63" r="1.3"/>
<circle cx="378.18" cy="614.69" r="1.3"/>
<circle cx="351.72" cy="615.48" r="1.3"/>
<circle cx="368.27" cy="617.59" r="1.3"/>
<circle cx="344.12" cy="615.23" r="1.3"/>
<circle cx="347.67" cy="617.47" r="1.3"/>
<circle cx="341.14" cy="615.67" r="1.3"/>
<circle cx="331.31" cy="613.92" r="1.3"/>
<circle cx="375.68" cy="616.11" r="1.3"/>
<circle cx="348.6" cy="618.08" r="1.3"/>
<circle cx="359.48" cy="617.67" r="1.3"/>
<circle cx="345.41" cy="616.55" r="1.3"/>
<circle cx="343.05" cy="616.02" r="1.3"/>
<circle cx="341.32" cy="616.66" r="1.3"/>
<circle cx="391.81" cy="614.3" r="1.3"/>
<circle cx="356.49" cy="617.01" r="1.3"/>
<circle cx="353.27" cy="615.92" r="1.3"/>
<circle cx="345.26" cy="613.81" r="1.3"/>
<circle cx="346.66" cy="617.05" r="1.3"/>
<circle cx="351.22" cy="617.52" r="1.3"/>
<circle cx="363.41" cy="618.2" r="1.3"/>
<circle cx="365.06" cy="615.49" r="1.3"/>
<circle cx="332.97" cy="611.89" r="1.3"/>
<circle cx="352.99" cy="615.57" r="1.3"/>
<circle cx="391.59" cy="614.06" r="1.3"/>
<circle cx="369.6" cy="615.11" r="1.3"/>
<circle cx="370.77" cy="616.38" r="1.3"/>
<circle cx="340.7" cy="616.56" r="1.3"/>
<circle cx="377.45" cy="615.94" r="1.3"/>
<circle cx="370.02" cy="615.99" r="1.3"/>
<circle cx="358.35" cy="618.2" r="1.3"/>
<circle cx="368.07" cy="615.52" r="1.3"/>
<circle cx="344.36" cy="615.53" r="1.3"/>
<circle cx="360.43" cy="617.23" r="1.3"/>
<circle cx="343.1" cy="613.43" r="1.3"/>
<circle cx="357.61" cy="616.41" r="1.3"/>
<circle cx="360.91" cy="618.2" r="1.3"/>
<circle cx="372.14" cy="616.32" r="1.3"/>
<circle cx="383.44" cy="613.63" r="1.3"/>
<circle cx="363.57" cy="617.36" r="1.3"/>
<circle cx="369.64" cy="615.86" r="1.3"/>
<circle cx="350.94" cy="614.8" r="1.3"/>
<circle cx="339.91" cy="615.27" r="1.3"/>
<circle cx="352.14" cy="614.71" r="1.3"/>
<circle cx="359.58" cy="618.1" r="1.3"/>
<circle cx="346.53" cy="615.46" r="1.3"/>
<circle cx="341.17" cy="616.17" r="1.3"/>
<circle cx="357.08" cy="617.04" r="1.3"/>
<circle cx="351.96" cy="616.85" r="1.3"/>
<circle cx="334.88" cy="614.1" r="1.3"/>
<circle cx="340.72" cy="614.98" r="1.3"/>
<circle cx="358.71" cy="618.2" r="1.3"/>
<circle cx="355.47" cy="615.85" r="1.3"/>
<circle cx="403.31" cy="610.4" r="1.3"/>
<circle cx="359.33" cy="618.2" r="1.3"/>
<circle cx="348.93" cy="616.13" r="1.3"/>
<circle cx="358.1" cy="617.57" r="1.3"/>
<circle cx="355.85" cy="615.58" r="1.3"/>
<circle cx="323.39" cy="613.41" r="1.3"/>
<circle cx="328.71" cy="611.18" r="1.3"/>
<circle cx="360.99" cy="617.23" r="1.3"/>
<circle cx="356.27" cy="616.21" r="1.3"/>
<circle cx="362.97" cy="615.75" r="1.3"/>
<circle cx="380.45" cy="613.25" r="1.3"/>
<circle cx="354.55" cy="616.86" r="1.3"/>
<circle cx="361.46" cy="618.2" r="1.3"/>
<circle cx="347.73" cy="616.62" r="1.3"/>
<circle cx="356.36" cy="617.08" r="1.3"/>
<circle cx="376.38" cy="615.47" r="1.3"/>
<circle cx="322.45" cy="613.6" r="1.3"/>
<circle cx="359.21" cy="616.54" r="1.3"/>
<circle cx="345.63" cy="614.37" r="1.3"/>
<circle cx="382.82" cy="614.86" r="1.3"/>
<circle cx="364.25" cy="617.66" r="1.3"/>
<circle cx="349.84" cy="617.35" r="1.3"/>
<circle cx="375.2" cy="615.31" r="1.3"/>
<circle cx="357.6" cy="618.2" r="1.3"/>
<circle cx="366.73" cy="615.89" r="1.3"/>
<circle cx="355.5" cy="617.67" r="1.3"/>
<circle cx="368.46" cy="617.48" r="1.3"/>
<circle cx="385.31" cy="614.95" r="1.3"/>
<circle cx="356.65" cy="618.1" r="1.3"/>
<circle cx="342.39" cy="615.6" r="1.3"/>
<circle cx="366.36" cy="616.57" r="1.3"/>
<circle cx="359.75" cy="617.28" r="1.3"/>
<circle cx="350.59" cy="617.77" r="1.3"/>
<circle cx="346.49" cy="614.62" r="1.3"/>
<circle cx="356.38" cy="615.75" r="1.3"/>
<circle cx="373.89" cy="615.04" r="1.3"/>
<circle cx="355.1" cy="618.2" r="1.3"/>
<circle cx="353.02" cy="617.09" r="1.3"/>
<circle cx="334.08" cy="614.45" r="1.3"/>
<circle cx="360.46" cy="616.26" r="1.3"/>
<circle cx="334.39" cy="614.63" r="1.3"/>
<circle cx="359.73" cy="618.2" r="1.3"/>
<circle cx="370.51" cy="617.98" r="1.3"/>
<circle cx="371.68" cy="616.13" r="1.3"/>
<circle cx="371.28" cy="614.38" r="1.3"/>
<circle cx="352.63" cy="615.04" r="1.3"/>
<circle cx="365.51" cy="618.2" r="1.3"/>
<circle cx="345.66" cy="616.39" r="1.3"/>
<circle cx="380.6" cy="612.55" r="1.3"/>
<circle cx="358.68" cy="616.08" r="1.3"/>
<circle cx="346.41" cy="614.14" r="1.3"/>
<circle cx="350.93" cy="618.06" r="1.3"/>
<circle cx="358.47" cy="616.24" r="1.3"/>
<circle cx="375.76" cy="614.12" r="1.3"/>
<circle cx="345.14" cy="614.44" r="1.3"/>
<circle cx="360.03" cy="616.03" r="1.3"/>
<circle cx="369.49" cy="614.85" r="1.3"/>
<circle cx="348.3" cy="617.77" r="1.3"/>
<circle cx="363.82" cy="617.39" r="1.3"/>
<circle cx="367.65" cy="617.2" r="1.3"/>
<circle cx="353.76" cy="618.2" r="1.3"/>
<circle cx="354.44" cy="616.31" r="1.3"/>
<circle cx="357" cy="617.36" r="1.3"/>
<circle cx="348.97" cy="616.98" r="1.3"/>
<circle cx="364.56" cy="615.36" r="1.3"/>
<circle cx="382.39" cy="615.21" r="1.3"/>
<circle cx="350.14" cy="617.53" r="1.3"/>
<circle cx="339.38" cy="612.91" r="1.3"/>
<circle cx="382.33" cy="615.16" r="1.3"/>
<circle cx="349.45" cy="616.45" r="1.3"/>
<circle cx="348.37" cy="617.31" r="1.3"/>
<circle cx="354.58" cy="615.28" r="1.3"/>
<circle cx="333.59" cy="613.72" r="1.3"/>
<circle cx="339.13" cy="616.07" r="1.3"/>
<circle cx="366.9" cy="615.09" r="1.3"/>
<circle cx="360.41" cy="617.83" r="1.3"/>
<circle cx="348.55" cy="616.19" r="1.3"/>
<circle cx="372.88" cy="616.69" r="1.3"/>
<circle cx="340.83" cy="613.12" r="1.3"/>
<circle cx="385.84" cy="613.51" r="1.3"/>
<circle cx="346.65" cy="615.95" r="1.3"/>
<circle cx="324.96" cy="612.19" r="1.3"/>
<circle cx="381.99" cy="612.33" r="1.3"/>
<circle cx="360.69" cy="617.52" r="1.3"/>
<circle cx="362.58" cy="618.2" r="1.3"/>
<circle cx="359.03" cy="618.2" r="1.3"/>
<circle cx="363.23" cy="617.33" r="1.3"/>
<circle cx="369.86" cy="615.69" r="1.3"/>
<circle cx="365.73" cy="617.7" r="1.3"/>
<circle cx="353.73" cy="617.84" r="1.3"/>
<circle cx="372.67" cy="615.45" r="1.3"/>
<circle cx="359.83" cy="617.36" r="1.3"/>
<circle cx="355.5" cy="617" r="1.3"/>
<circle cx="379.47" cy="615.47" r="1.3"/>
<circle cx="347.77" cy="615.56" r="1.3"/>
<circle cx="388.96" cy="611.87" r="1.3"/>
<circle cx="337.77" cy="615.93" r="1.3"/>
<circle cx="347.4" cy="616.64" r="1.3"/>
<circle cx="371.46" cy="614.87" r="1.3"/>
<circle cx="317.91" cy="612.75" r="1.3"/>
<circle cx="361.02" cy="616.16" r="1.3"/>
<circle cx="372.83" cy="617.06" r="1.3"/>
<circle cx="371" cy="616.43" r="1.3"/>
<circle cx="330.38" cy="614.91" r="1.3"/>
<circle cx="334.96" cy="614.33" r="1.3"/>
<circle cx="378.19" cy="616.2" r="1.3"/>
<circle cx="374.81" cy="616.55" r="1.3"/>
<circle cx="360.87" cy="615.87" r="1.3"/>
<circle cx="354.88" cy="617.97" r="1.3"/>
<circle cx="366.26" cy="618.2" r="1.3"/>
<circle cx="359.03" cy="617.64" r="1.3"/>
<circle cx="351.44" cy="617.35" r="1.3"/>
<circle cx="379.18" cy="615.3" r="1.3"/>
<circle cx="365.58" cy="618.2" r="1.3"/>
<circle cx="359.87" cy="617.66" r="1.3"/>
<circle cx="372.36" cy="616.44" r="1.3"/>
<circle cx="346.2" cy="615.93" r="1.3"/>
<circle cx="362.17" cy="618.2" r="1.3"/>
<circle cx="329.2" cy="612.3" r="1.3"/>
<circle cx="349.24" cy="615.35" r="1.3"/>
<circle cx="392.02" cy="612.01" r="1.3"/>
<circle cx="346.49" cy="617.51" r="1.3"/>
<circle cx="337.37" cy="615.02" r="1.3"/>
<circle cx="367.57" cy="614.79" r="1.3"/>
<circle cx="361.29" cy="617.06" r="1.3"/>
<circle cx="363.03" cy="617.44" r="1.3"/>
<circle cx="371.06" cy="617.59" r="1.3"/>
<circle cx="364.99" cy="618.2" r="1.3"/>
<circle cx="345.79" cy="615.65" r="1.3"/>
<circle cx="337.52" cy="615.28" r="1.3"/>
<circle cx="372.25" cy="616.8" r="1.3"/>
<circle cx="344.01" cy="616.89" r="1.3"/>
<circle cx="359.05" cy="616.62" r="1.3"/>
<circle cx="377.93" cy="614.21" r="1.3"/>
<circle cx="338.23" cy="614.58" r="1.3"/>
<circle cx="361.78" cy="618.2" r="1.3"/>
<circle cx="349.26" cy="617.41" r="1.3"/>
<circle cx="349.2" cy="616.49" r="1.3"/>
<circle cx="357.25" cy="616.12" r="1.3"/>
<circle cx="351.86" cy="618.13" r="1.3"/>
<circle cx="352.51" cy="618.2" r="1.3"/>
<circle cx="370.22" cy="615.24" r="1.3"/>
<circle cx="362.87" cy="615.84" r="1.3"/>
<circle cx="355.75" cy="616.94" r="1.3"/>
<circle cx="362.19" cy="615.46" r="1.3"/>
<circle cx="380.1" cy="612.5" r="1.3"/>
<circle cx="361.21" cy="618.05" r="1.3"/>
<circle cx="336.39" cy="613.49" r="1.3"/>
<circle cx="344.34" cy="616.77" r="1.3"/>
<circle cx="363.68" cy="616.4" r="1.3"/>
<circle cx="339.91" cy="614.35" r="1.3"/>
<circle cx="368.09" cy="614.73" r="1.3"/>
<circle cx="341.95" cy="616.62" r="1.3"/>
<circle cx="367.22" cy="616.51" r="1.3"/>
<circle cx="360.41" cy="616.58" r="1.3"/>
<circle cx="360.77" cy="618.2" r="1.3"/>
<circle cx="358.31" cy="617.94" r="1.3"/>
<circle cx="350.93" cy="617.37" r="1.3"/>
<circle cx="346.64" cy="617.02" r="1.3"/>
<circle cx="354.47" cy="615.21" r="1.3"/>
<circle cx="339.39" cy="615.34" r="1.3"/>
<circle cx="321.48" cy="610.68" r="1.3"/>
<circle cx="364.92" cy="617.81" r="1.3"/>
<circle cx="357.05" cy="618.2" r="1.3"/>
<circle cx="343.11" cy="616.83" r="1.3"/>
<circle cx="346.32" cy="616.74" r="1.3"/>
<circle cx="359.35" cy="616.67" r="1.3"/>
<circle cx="358.41" cy="617.46" r="1.3"/>
<circle cx="375.51" cy="617.18" r="1.3"/>
<circle cx="363.13" cy="618.2" r="1.3"/>
<circle cx="348.11" cy="616.01" r="1.3"/>
<circle cx="360.08" cy="618.2" r="1.3"/>
<circle cx="362.92" cy="618.2" r="1.3"/>
<circle cx="351.12" cy="617.67" r="1.3"/>
<circle cx="369.71" cy="617.45" r="1.3"/>
<circle cx="370.18" cy="615.67" r="1.3"/>
<circle cx="343.06" cy="617.2" r="1.3"/>
<circle cx="362.59" cy="616.14" r="1.3"/>
<circle cx="357.43" cy="616.77" r="1.3"/>
<circle cx="347.78" cy="615.86" r="1.3"/>
<circle cx="366.35" cy="616.34" r="1.3"/>
<circle cx="362.01" cy="618.2" r="1.3"/>
<circle cx="354.95" cy="616.57" r="1.3"/>
<circle cx="355.02" cy="617.54" r="1.3"/>
<circle cx="378.39" cy="616.6" r="1.3"/>
<circle cx="363.49" cy="617.72" r="1.3"/>
<circle cx="350.62" cy="615.49" r="1.3"/>
<circle cx="384.39" cy="612.03" r="1.3"/>
<circle cx="344.09" cy="616.15" r="1.3"/>
<circle cx="360.9" cy="616.09" r="1.3"/>
<circle cx="375.63" cy="614.63" r="1.3"/>
<circle cx="342.7" cy="616.33" r="1.3"/>
<circle cx="342.7" cy="614.94" r="1.3"/>
<circle cx="331.6" cy="614.06" r="1.3"/>
<circle cx="372.74" cy="615.51" r="1.3"/>
<circle cx="343.5" cy="614.2" r="1.3"/>
<circle cx="341.96" cy="614.11" r="1.3"/>
<circle cx="385.1" cy="615.44" r="1.3"/>
<circle cx="387.92" cy="612.19" r="1.3"/>
<circle cx="356.93" cy="617.86" r="1.3"/>
<circle cx="365.68" cy="618.2" r="1.3"/>
<circle cx="368.59" cy="615.1" r="1.3"/>
<circle cx="396.97" cy="611.97" r="1.3"/>
<circle cx="339.07" cy="615.32" r="1.3"/>
<circle cx="359.96" cy="618.2" r="1.3"/>
<circle cx="332.33" cy="611.62" r="1.3"/>
<circle cx="369.6" cy="615.75" r="1.3"/>
<circle cx="364.15" cy="615.84" r="1.3"/>
<circle cx="344.48" cy="614.27" r="1.3"/>
<circle cx="367.2" cy="616.44" r="1.3"/>
<circle cx="353.59" cy="618.2" r="1.3"/>
<circle cx="344.5" cy="615.14" r="1.3"/>
<circle cx="350.92" cy="616.37" r="1.3"/>
<circle cx="354.67" cy="617.74" r="1.3"/>
<circle cx="366.05" cy="615.6" r="1.3"/>
<circle cx="352.87" cy="615.44" r="1.3"/>
<circle cx="397.38" cy="612.32" r="1.3"/>
<circle cx="333.7" cy="615.62" r="1.3"/>
<circle cx="367.05" cy="615.49" r="1.3"/>
<circle cx="340.58" cy="616.8" r="1.3"/>
<circle cx="371.56" cy="615.28" r="1.3"/>
<circle cx="370.61" cy="615.57" r="1.3"/>
<circle cx="363.49" cy="616.53" r="1.3"/>
<circle cx="351.77" cy="617.15" r="1.3"/>
<circle cx="367.99" cy="617.2" r="1.3"/>
<circle cx="360.77" cy="617.42" r="1.3"/>
<circle cx="370.33" cy="615.07" r="1.3"/>
<circle cx="365.75" cy="614.99" r="1.3"/>
<circle cx="345.79" cy="616.31" r="1.3"/>
<circle cx="373.09" cy="614.63" r="1.3"/>
<circle cx="335.64" cy="612.4" r="1.3"/>
<circle cx="334.76" cy="614.76" r="1.3"/>
<circle cx="340.5" cy="614.82" r="1.3"/>
<circle cx="342.51" cy="616.92" r="1.3"/>
<circle cx="351.46" cy="617.53" r="1.3"/>
<circle cx="349.54" cy="615.49" r="1.3"/>
<circle cx="348.7" cy="615.24" r="1.3"/>
<circle cx="351.68" cy="616.82" r="1.3"/>
<circle cx="356.6" cy="615.61" r="1.3"/>
<circle cx="356.64" cy="616.22" r="1.3"/>
<circle cx="365.14" cy="617.36" r="1.3"/>
<circle cx="364.8" cy="615.24" r="1.3"/>
<circle cx="376.19" cy="614.88" r="1.3"/>
<circle cx="359.67" cy="617.83" r="1.3"/>
<circle cx="361.1" cy="618.2" r="1.3"/>
<circle cx="389.29" cy="610.98" r="1.3"/>
<circle cx="352.13" cy="615.04" r="1.3"/>
<circle cx="355.21" cy="616.9" r="1.3"/>
<circle cx="380" cy="614.36" r="1.3"/>
<circle cx="349.11" cy="617.59" r="1.3"/>
<circle cx="356.52" cy="618.2" r="1.3"/>
<circle cx="355.88" cy="615.75" r="1.3"/>
<circle cx="350.83" cy="615.9" r="1.3"/>
<circle cx="348.21" cy="617.7" r="1.3"/>
<circle cx="388.87" cy="614.11" r="1.3"/>
<circle cx="363.16" cy="615.49" r="1.3"/>
<circle cx="345.42" cy="615.68" r="1.3"/>
<circle cx="393.61" cy="610.17" r="1.3"/>
<circle cx="359.22" cy="617.75" r="1.3"/>
<circle cx="354.24" cy="618.2" r="1.3"/>
<circle cx="337.15" cy="613.27" r="1.3"/>
<circle cx="336.28" cy="616.08" r="1.3"/>
<circle cx="360.36" cy="617.81" r="1.3"/>
<circle cx="370.31" cy="617.93" r="1.3"/>
<circle cx="391.43" cy="614.35" r="1.3"/>
<circle cx="346.71" cy="617.07" r="1.3"/>
<circle cx="383.68" cy="613.14" r="1.3"/>
<circle cx="363.91" cy="617.45" r="1.3"/>
<circle cx="339.7" cy="613.74" r="1.3"/>
<circle cx="367.82" cy="615.01" r="1.3"/>
<circle cx="367.21" cy="617.66" r="1.3"/>
<circle cx="358.79" cy="617.39" r="1.3"/>
<circle cx="367.26" cy="614.84" r="1.3"/>
<circle cx="370.2" cy="614.53" r="1.3"/>
<circle cx="373.32" cy="617.23" r="1.3"/>
<circle cx="346.67" cy="615.65" r="1.3"/>
<circle cx="360.46" cy="615.69" r="1.3"/>
<circle cx="371.56" cy="617.05" r="1.3"/>
<circle cx="354.03" cy="616.89" r="1.3"/>
<circle cx="369.59" cy="617.08" r="1.3"/>
<circle cx="355.32" cy="617.56" r="1.3"/>
<circle cx="370.79" cy="617.21" r="1.3"/>
<circle cx="354.47" cy="617.39" r="1.3"/>
<circle cx="348.99" cy="615.12" r="1.3"/>
<circle cx="356.4" cy="618.2" r="1.3"/>
<circle cx="345.39" cy="614.13" r="1.3"/>
<circle cx="356.74" cy="615.42" r="1.3"/>
<circle cx="344.51" cy="615.88" r="1.3"/>
<circle cx="362.49" cy="616.69" r="1.3"/>
<circle cx="361.42" cy="618.2" r="1.3"/>
<circle cx="362.76" cy="616.89" r="1.3"/>
<circle cx="354.24" cy="616.77" r="1.3"/>
<circle cx="366.58" cy="614.81" r="1.3"/>
<circle cx="369.71" cy="617.37" r="1.3"/>
<circle cx="355.28" cy="616.39" r="1.3"/>
<circle cx="364.05" cy="616.92" r="1.3"/>
<circle cx="353.3" cy="617.58" r="1.3"/>
<circle cx="394.35" cy="612.95" r="1.3"/>
<circle cx="350.97" cy="614.69" r="1.3"/>
<circle cx="366.19" cy="614.95" r="1.3"/>
<circle cx="368.11" cy="617.02" r="1.3"/>
<circle cx="377.99" cy="614.31" r="1.3"/>
<circle cx="353.68" cy="615.23" r="1.3"/>
<circle cx="357.83" cy="617.74" r="1.3"/>
<circle cx="346.08" cy="616.34" r="1.3"/>
<circle cx="360.15" cy="616.67" r="1.3"/>
<circle cx="372.32" cy="616.02" r="1.3"/>
<circle cx="384.86" cy="613" r="1.3"/>
<circle cx="368.53" cy="614.69" r="1.3"/>
<circle cx="347.05" cy="614.73" r="1.3"/>
<circle cx="353.03" cy="616.01" r="1.3"/>
<circle cx="341.39" cy="615.51" r="1.3"/>
<circle cx="349.56" cy="617.17" r="1.3"/>
<circle cx="374.78" cy="615.32" r="1.3"/>
<circle cx="362.5" cy="618.2" r="1.3"/>
<circle cx="389.34" cy="613.55" r="1.3"/>
<circle cx="345.62" cy="617.13" r="1.3"/>
<circle cx="377.72" cy="613.84" r="1.3"/>
<circle cx="369.23" cy="616.51" r="1.3"/>
<circle cx="361.62" cy="617.98" r="1.3"/>
<circle cx="348.21" cy="617.17" r="1.3"/>
<circle cx="360.97" cy="615.85" r="1.3"/>
<circle cx="359.44" cy="618.2" r="1.3"/>
<circle cx="377.38" cy="615.61" r="1.3"/>
<circle cx="370.78" cy="615.84" r="1.3"/>
<circle cx="364.29" cy="617.03" r="1.3"/>
<circle cx="360.19" cy="615.68" r="1.3"/>
<circle cx="362.99" cy="616.06" r="1.3"/>
<circle cx="366.59" cy="615.62" r="1.3"/>
<circle cx="335.22" cy="614.59" r="1.3"/>
<circle cx="357.21" cy="618.2" r="1.3"/>
<circle cx="353.7" cy="616.61" r="1.3"/>
<circle cx="369.94" cy="615.13" r="1.3"/>
<circle cx="367.14" cy="617.77" r="1.3"/>
<circle cx="338.71" cy="613.71" r="1.3"/>
<circle cx="359.36" cy="617.85" r="1.3"/>
<circle cx="367.25" cy="614.58" r="1.3"/>
<circle cx="340.57" cy="613.75" r="1.3"/>
<circle cx="371.77" cy="615.3" r="1.3"/>
<circle cx="369.51" cy="615.48" r="1.3"/>
<circle cx="378.3" cy="615.68" r="1.3"/>
<circle cx="362.93" cy="616.36" r="1.3"/>
<circle cx="362.74" cy="615.51" r="1.3"/>
<circle cx="374.42" cy="614.26" r="1.3"/>
<circle cx="360.97" cy="615.98" r="1.3"/>
<circle cx="360.2" cy="618.05" r="1.3"/>
<circle cx="350.5" cy="618.19" r="1.3"/>
<circle cx="340.52" cy="615.79" r="1.3"/>
<circle cx="375.25" cy="613.41" r="1.3"/>
<circle cx="358.02" cy="617.27" r="1.3"/>
<circle cx="376.52" cy="614.99" r="1.3"/>
<circle cx="355.14" cy="615.88" r="1.3"/>
<circle cx="341.9" cy="614.76" r="1.3"/>
<circle cx="386.69" cy="611.79" r="1.3"/>
<circle cx="351.55" cy="614.84" r="1.3"/>
<circle cx="350.26" cy="617.66" r="1.3"/>
<circle cx="346.38" cy="616.81" r="1.3"/>
<circle cx="334.04" cy="613.82" r="1.3"/>
<circle cx="359.77" cy="618.2" r="1.3"/>
<circle cx="354.84" cy="618.2" r="1.3"/>
<circle cx="377.41" cy="613.39" r="1.3"/>
<circle cx="356.66" cy="615.65" r="1.3"/>
<circle cx="366.04" cy="616.86" r="1.3"/>
<circle cx="360.9" cy="617.29" r="1.3"/>
<circle cx="365.56" cy="615.05" r="1.3"/>
<circle cx="353.56" cy="615.45" r="1.3"/>
<circle cx="372.17" cy="615.2" r="1.3"/>
<circle cx="359.36" cy="616.13" r="1.3"/>
<circle cx="358.21" cy="615.54" r="1.3"/>
<circle cx="338.9" cy="616.06" r="1.3"/>
<circle cx="377.24" cy="615.93" r="1.3"/>
<circle cx="368.47" cy="616.82" r="1.3"/>
<circle cx="354.13" cy="617.68" r="1.3"/>
<circle cx="378.59" cy="616.37" r="1.3"/>
<circle cx="385.02" cy="611.84" r="1.3"/>
<circle cx="347.57" cy="616.62" r="1.3"/>
<circle cx="377.84" cy="615.67" r="1.3"/>
<circle cx="331.12" cy="612.69" r="1.3"/>
<circle cx="339.13" cy="615.77" r="1.3"/>
<circle cx="342.54" cy="613.27" r="1.3"/>
<circle cx="344.16" cy="615.88" r="1.3"/>
<circle cx="373" cy="613.71" r="1.3"/>
<circle cx="350" cy="616.15" r="1.3"/>
<circle cx="355.42" cy="615.47" r="1.3"/>
<circle cx="382.56" cy="615.45" r="1.3"/>
<circle cx="346.96" cy="614.23" r="1.3"/>
<circle cx="370.94" cy="614.34" r="1.3"/>
<circle cx="359.4" cy="616.95" r="1.3"/>
<circle cx="380.65" cy="614.1" r="1.3"/>
<circle cx="373.9" cy="613.89" r="1.3"/>
<circle cx="364.3" cy="617.85" r="1.3"/>
<circle cx="382.93" cy="614.39" r="1.3"/>
<circle cx="349.98" cy="617.42" r="1.3"/>
<circle cx="367.46" cy="616.04" r="1.3"/>
<circle cx="388.27" cy="611.76" r="1.3"/>
<circle cx="340.53" cy="615.53" r="1.3"/>
<circle cx="369.46" cy="617.54" r="1.3"/>
<circle cx="349.47" cy="616.38" r="1.3"/>
<circle cx="361.71" cy="617.89" r="1.3"/>
<circle cx="365.13" cy="615.28" r="1.3"/>
<circle cx="370.49" cy="614.55" r="1.3"/>
<circle cx="366.26" cy="616.84" r="1.3"/>
<circle cx="351.46" cy="615.91" r="1.3"/>
<circle cx="366.2" cy="615.63" r="1.3"/>
<circle cx="372.26" cy="613.96" r="1.3"/>
<circle cx="369.8" cy="616.16" r="1.3"/>
<circle cx="373.37" cy="615.84" r="1.3"/>
<circle cx="361.08" cy="616.1" r="1.3"/>
<circle cx="357.39" cy="616.06" r="1.3"/>
<circle cx="341.51" cy="613.93" r="1.3"/>
<circle cx="376.81" cy="615.36" r="1.3"/>
<circle cx="366.71" cy="614.87" r="1.3"/>
<circle cx="366.82" cy="617.16" r="1.3"/>
<circle cx="360.45" cy="616.25" r="1.3"/>
<circle cx="353.06" cy="617.7" r="1.3"/>
<circle cx="352.8" cy="615.85" r="1.3"/>
<circle cx="348.66" cy="615.36" r="1.3"/>
<circle cx="369.16" cy="616.57" r="1.3"/>
<circle cx="358.25" cy="615.92" r="1.3"/>
<circle cx="354.55" cy="618.2" r="1.3"/>
<circle cx="354.16" cy="616.59" r="1.3"/>
<circle cx="363.08" cy="617.3" r="1.3"/>
<circle cx="363.61" cy="617.88" r="1.3"/>
<circle cx="342.28" cy="614.51" r="1.3"/>
<circle cx="361.92" cy="618.2" r="1.3"/>
<circle cx="364.7" cy="615.71" r="1.3"/>
<circle cx="356.59" cy="617.63" r="1.3"/>
<circle cx="340.02" cy="615.17" r="1.3"/>
<circle cx="363.59" cy="617.18" r="1.3"/>
<circle cx="379.01" cy="614.45" r="1.3"/>
<circle cx="355.74" cy="618.12" r="1.3"/>
<circle cx="379.86" cy="615.28" r="1.3"/>
<circle cx="351.53" cy="614.75" r="1.3"/>
<circle cx="355.74" cy="615.4" r="1.3"/>
<circle cx="395.17" cy="610.58" r="1.3"/>
<circle cx="350.85" cy="616.47" r="1.3"/>
<circle cx="394.5" cy="613.85" r="1.3"/>
<circle cx="341.11" cy="615.29" r="1.3"/>
<circle cx="363.11" cy="618.2" r="1.3"/>
<circle cx="364.94" cy="617.52" r="1.3"/>
<circle cx="368.14" cy="617.35" r="1.3"/>
<circle cx="337.04" cy="613.9" r="1.3"/>
<circle cx="344.77" cy="615.49" r="1.3"/>
<circle cx="361.4" cy="618.06" r="1.3"/>
<circle cx="374.92" cy="615.73" r="1.3"/>
<circle cx="350.59" cy="616.29" r="1.3"/>
<circle cx="398.68" cy="611.49" r="1.3"/>
<circle cx="376.58" cy="613.65" r="1.3"/>
<circle cx="349.25" cy="615.02" r="1.3"/>
<circle cx="370.74" cy="615.34" r="1.3"/>
<circle cx="356.44" cy="615.71" r="1.3"/>
<circle cx="334.2" cy="615.47" r="1.3"/>
<circle cx="378.3" cy="616.43" r="1.3"/>
<circle cx="362.55" cy="618.2" r="1.3"/>
<circle cx="372.22" cy="616.71" r="1.3"/>
<circle cx="339.66" cy="615.46" r="1.3"/>
<circle cx="355.33" cy="615.56" r="1.3"/>
<circle cx="399.31" cy="610.17" r="1.3"/>
<circle cx="356.38" cy="615.44" r="1.3"/>
<circle cx="358.22" cy="617.51" r="1.3"/>
<circle cx="324.68" cy="610.19" r="1.3"/>
<circle cx="382.62" cy="613.3" r="1.3"/>
<circle cx="362.04" cy="618.2" r="1.3"/>
<circle cx="365.2" cy="615.21" r="1.3"/>
<circle cx="346.19" cy="613.83" r="1.3"/>
<circle cx="318.2" cy="612.2" r="1.3"/>
<circle cx="375.21" cy="616.4" r="1.3"/>
<circle cx="376.21" cy="615.91" r="1.3"/>
<circle cx="340.35" cy="615.16" r="1.3"/>
<circle cx="338.02" cy="616.25" r="1.3"/>
<circle cx="370.16" cy="615.84" r="1.3"/>
<circle cx="349.38" cy="617.99" r="1.3"/>
<circle cx="337.31" cy="615.31" r="1.3"/>
<circle cx="360.45" cy="616.74" r="1.3"/>
<circle cx="375.06" cy="615.21" r="1.3"/>
<circle cx="348.73" cy="614.84" r="1.3"/>
<circle cx="370.76" cy="614.18" r="1.3"/>
<circle cx="359.38" cy="618.2" r="1.3"/>
<circle cx="346.84" cy="615.39" r="1.3"/>
<circle cx="369.95" cy="617.66" r="1.3"/>
<circle cx="360.27" cy="618.2" r="1.3"/>
<circle cx="364.41" cy="615.13" r="1.3"/>
<circle cx="360.16" cy="615.88" r="1.3"/>
</g>
<g fill="#4f9fd4" fill-opacity="0.6">
<circle cx="324.03" cy="609.06" r="1.4"/>
<circle cx="338.78" cy="599.05" r="1.4"/>
<circle cx="345.89" cy="606.96" r="1.4"/>
<circle cx="348.09" cy="608.6" r="1.4"/>
<circle cx="328.66" cy="605.23" r="1.4"/>
<circle cx="341.93" cy="609.12" r="1.4"/>
<circle cx="336.39" cy="608.03" r="1.4"/>
<circle cx="344.44" cy="606.3" r="1.4"/>
<circle cx="347.58" cy="609.68" r="1.4"/>
<circle cx="342.82" cy="606.15" r="1.4"/>
<circle cx="334.64" cy="605.27" r="1.4"/>
<circle cx="326.56" cy="606.54" r="1.4"/>
<circle cx="337.45" cy="608.75" r="1.4"/>
<circle cx="342.17" cy="608.16" r="1.4"/>
<circle cx="338.48" cy="603.67" r="1.4"/>
<circle cx="323.88" cy="606.35" r="1.4"/>
<circle cx="332.16" cy="605.35" r="1.4"/>
<circle cx="343.5" cy="603.21" r="1.4"/>
<circle cx="337.43" cy="606.81" r="1.4"/>
<circle cx="347.22" cy="608.12" r="1.4"/>
<circle cx="345.08" cy="608.78" r="1.4"/>
<circle cx="341.4" cy="607.6" r="1.4"/>
<circle cx="348.64" cy="609.25" r="1.4"/>
<circle cx="336.73" cy="606.89" r="1.4"/>
<circle cx="344.43" cy="609.46" r="1.4"/>
<circle cx="343.49" cy="603.8" r="1.4"/>
<circle cx="342.45" cy="608.71" r="1.4"/>
<circle cx="336.45" cy="606.06" r="1.4"/>
<circle cx="332.84" cy="609.61" r="1.4"/>
<circle cx="332.9" cy="608.68" r="1.4"/>
<circle cx="330.44" cy="603.5" r="1.4"/>
<circle cx="337.15" cy="603.8" r="1.4"/>
<circle cx="341.46" cy="601.5" r="1.4"/>
<circle cx="334.67" cy="605.89" r="1.4"/>
<circle cx="340.52" cy="607.32" r="1.4"/>
<circle cx="348.47" cy="607.4" r="1.4"/>
<circle cx="339.35" cy="605.57" r="1.4"/>
<circle cx="316.45" cy="606.72" r="1.4"/>
<circle cx="346.63" cy="604.15" r="1.4"/>
<circle cx="344.87" cy="607.84" r="1.4"/>
<circle cx="340.93" cy="609.15" r="1.4"/>
<circle cx="345.41" cy="604.89" r="1.4"/>
<circle cx="347.85" cy="606.31" r="1.4"/>
<circle cx="323.69" cy="608.46" r="1.4"/>
<circle cx="338.86" cy="610.23" r="1.4"/>
<circle cx="346.31" cy="605.25" r="1.4"/>
<circle cx="336.33" cy="606.23" r="1.4"/>
<circle cx="334.93" cy="609.93" r="1.4"/>
<circle cx="345.6" cy="606.31" r="1.4"/>
<circle cx="345.33" cy="607.33" r="1.4"/>
<circle cx="346.71" cy="605.72" r="1.4"/>
<circle cx="337.72" cy="608.26" r="1.4"/>
<circle cx="344.37" cy="606.59" r="1.4"/>
<circle cx="336.34" cy="609.67" r="1.4"/>
<circle cx="342.19" cy="608.89" r="1.4"/>
<circle cx="343.04" cy="607.59" r="1.4"/>
<circle cx="321.37" cy="592.89" r="1.4"/>
<circle cx="328.55" cy="608.56" r="1.4"/>
<circle cx="337.15" cy="597.97" r="1.4"/>
<circle cx="345.67" cy="606.3" r="1.4"/>
<circle cx="311.72" cy="606.15" r="1.4"/>
<circle cx="334.09" cy="601.12" r="1.4"/>
<circle cx="341.7" cy="602.93" r="1.4"/>
<circle cx="324.49" cy="600.41" r="1.4"/>
<circle cx="329.6" cy="609.99" r="1.4"/>
<circle cx="337.19" cy="609.98" r="1.4"/>
<circle cx="331.36" cy="602.29" r="1.4"/>
<circle cx="342.7" cy="607.14" r="1.4"/>
<circle cx="335.76" cy="607.2" r="1.4"/>
<circle cx="342.58" cy="608.58" r="1.4"/>
<circle cx="347.14" cy="610.03" r="1.4"/>
<circle cx="338.65" cy="610.23" r="1.4"/>
<circle cx="341.58" cy="605.66" r="1.4"/>
<circle cx="345.31" cy="602.16" r="1.4"/>
<circle cx="342.8" cy="609.06" r="1.4"/>
<circle cx="324.09" cy="605.76" r="1.4"/>
<circle cx="346.46" cy="604.42" r="1.4"/>
<circle cx="343.35" cy="605.89" r="1.4"/>
<circle cx="328.69" cy="610.12" r="1.4"/>
<circle cx="337.28" cy="606.34" r="1.4"/>
<circle cx="342.2" cy="607.31" r="1.4"/>
<circle cx="337.87" cy="608.53" r="1.4"/>
<circle cx="346.98" cy="600.69" r="1.4"/>
<circle cx="333.34" cy="602.46" r="1.4"/>
<circle cx="336.46" cy="604.82" r="1.4"/>
<circle cx="337.26" cy="602.24" r="1.4"/>
<circle cx="322.68" cy="606.84" r="1.4"/>
<circle cx="344.72" cy="608" r="1.4"/>
<circle cx="340.35" cy="602.69" r="1.4"/>
<circle cx="347.58" cy="604.17" r="1.4"/>
<circle cx="342.42" cy="608.43" r="1.4"/>
<circle cx="319.98" cy="606.28" r="1.4"/>
<circle cx="342.07" cy="606.91" r="1.4"/>
<circle cx="338.37" cy="605.96" r="1.4"/>
<circle cx="325.64" cy="607.65" r="1.4"/>
<circle cx="337.42" cy="604.98" r="1.4"/>
<circle cx="346.3" cy="598.74" r="1.4"/>
<circle cx="336.17" cy="605.39" r="1.4"/>
<circle cx="331.9" cy="606.13" r="1.4"/>
<circle cx="345.92" cy="607.27" r="1.4"/>
<circle cx="335.25" cy="605.4" r="1.4"/>
<circle cx="331.15" cy="605.18" r="1.4"/>
<circle cx="334.4" cy="607.07" r="1.4"/>
<circle cx="337.12" cy="607.7" r="1.4"/>
<circle cx="345.33" cy="603.4" r="1.4"/>
<circle cx="340.37" cy="609.62" r="1.4"/>
<circle cx="347.7" cy="607.05" r="1.4"/>
<circle cx="344.85" cy="608.27" r="1.4"/>
<circle cx="335.41" cy="597.55" r="1.4"/>
<circle cx="345.88" cy="610.22" r="1.4"/>
<circle cx="333.33" cy="605.09" r="1.4"/>
<circle cx="336.3" cy="608.86" r="1.4"/>
<circle cx="328.47" cy="608.98" r="1.4"/>
<circle cx="344.03" cy="603.74" r="1.4"/>
<circle cx="344.46" cy="604.18" r="1.4"/>
<circle cx="332.09" cy="606.01" r="1.4"/>
<circle cx="336.59" cy="607.69" r="1.4"/>
<circle cx="341" cy="609.4" r="1.4"/>
<circle cx="348.63" cy="609.21" r="1.4"/>
<circle cx="347.09" cy="609.87" r="1.4"/>
<circle cx="314.47" cy="575.64" r="1.4"/>
<circle cx="314.47" cy="579.9" r="1.4"/>
<circle cx="338.08" cy="575.03" r="1.4"/>
<circle cx="309.5" cy="595.1" r="1.4"/>
<circle cx="308.26" cy="592.66" r="1.4"/>
<circle cx="310.74" cy="602.39" r="1.4"/>
<circle cx="316.95" cy="593.27" r="1.4"/>
<circle cx="339.32" cy="584.15" r="1.4"/>
<circle cx="340.56" cy="587.19" r="1.4"/>
<circle cx="336.83" cy="580.5" r="1.4"/>
<circle cx="329.38" cy="590.84" r="1.4"/>
</g>
<g fill="#ef3b50" fill-opacity="0.6">
<circle cx="383.68" cy="606" r="1.4"/>
<circle cx="378.45" cy="606.95" r="1.4"/>
<circle cx="400.02" cy="608.32" r="1.4"/>
<circle cx="379.94" cy="608.44" r="1.4"/>
<circle cx="383.46" cy="607.68" r="1.4"/>
<circle cx="382.67" cy="607.65" r="1.4"/>
<circle cx="385.39" cy="609.98" r="1.4"/>
<circle cx="372.11" cy="608.08" r="1.4"/>
<circle cx="379.1" cy="608.18" r="1.4"/>
<circle cx="377.43" cy="606.8" r="1.4"/>
<circle cx="371.57" cy="607.65" r="1.4"/>
<circle cx="378.26" cy="606.08" r="1.4"/>
<circle cx="377.01" cy="605.52" r="1.4"/>
<circle cx="374.11" cy="607.74" r="1.4"/>
<circle cx="377.47" cy="605.11" r="1.4"/>
<circle cx="381.33" cy="607.88" r="1.4"/>
<circle cx="387.47" cy="605.68" r="1.4"/>
<circle cx="379.86" cy="607.17" r="1.4"/>
<circle cx="390.99" cy="599.87" r="1.4"/>
<circle cx="379.81" cy="609.97" r="1.4"/>
<circle cx="392.42" cy="604.65" r="1.4"/>
<circle cx="379.2" cy="608.06" r="1.4"/>
<circle cx="380.05" cy="605.28" r="1.4"/>
<circle cx="384.8" cy="609.91" r="1.4"/>
<circle cx="373.85" cy="610.18" r="1.4"/>
<circle cx="370.62" cy="609.26" r="1.4"/>
<circle cx="394.37" cy="605.05" r="1.4"/>
<circle cx="377.02" cy="609.06" r="1.4"/>
<circle cx="372.56" cy="605.61" r="1.4"/>
<circle cx="371.04" cy="606.51" r="1.4"/>
<circle cx="377.87" cy="605.73" r="1.4"/>
<circle cx="371.74" cy="607.69" r="1.4"/>
<circle cx="374.07" cy="606.45" r="1.4"/>
<circle cx="377.06" cy="610.28" r="1.4"/>
<circle cx="376.3" cy="608.47" r="1.4"/>
<circle cx="384.75" cy="606.96" r="1.4"/>
<circle cx="393.99" cy="604.28" r="1.4"/>
<circle cx="370.43" cy="609.8" r="1.4"/>
<circle cx="389.51" cy="608.62" r="1.4"/>
<circle cx="382.82" cy="605.26" r="1.4"/>
<circle cx="371.09" cy="604.72" r="1.4"/>
<circle cx="370.24" cy="610.21" r="1.4"/>
<circle cx="370.71" cy="608.48" r="1.4"/>
<circle cx="384.99" cy="606.31" r="1.4"/>
<circle cx="372.64" cy="610.04" r="1.4"/>
<circle cx="370.01" cy="605.45" r="1.4"/>
<circle cx="370.79" cy="604.47" r="1.4"/>
<circle cx="380.02" cy="609.25" r="1.4"/>
<circle cx="383.19" cy="605.15" r="1.4"/>
<circle cx="371.26" cy="607.65" r="1.4"/>
<circle cx="388.59" cy="608.25" r="1.4"/>
<circle cx="372.55" cy="608.2" r="1.4"/>
<circle cx="374.46" cy="606.11" r="1.4"/>
<circle cx="391.35" cy="608.4" r="1.4"/>
<circle cx="378.52" cy="604.69" r="1.4"/>
<circle cx="389.32" cy="608.85" r="1.4"/>
<circle cx="374.94" cy="606.02" r="1.4"/>
<circle cx="395.39" cy="608.76" r="1.4"/>
<circle cx="371.13" cy="608.98" r="1.4"/>
<circle cx="382.85" cy="609.36" r="1.4"/>
<circle cx="381.26" cy="609.05" r="1.4"/>
<circle cx="372.35" cy="607.4" r="1.4"/>
<circle cx="377.05" cy="604.54" r="1.4"/>
<circle cx="372.46" cy="606.11" r="1.4"/>
<circle cx="384.13" cy="608.62" r="1.4"/>
<circle cx="379.87" cy="605.78" r="1.4"/>
<circle cx="385.42" cy="607.09" r="1.4"/>
<circle cx="376.96" cy="606.44" r="1.4"/>
<circle cx="393.09" cy="607.99" r="1.4"/>
<circle cx="379.88" cy="608.74" r="1.4"/>
<circle cx="382.8" cy="606.25" r="1.4"/>
<circle cx="380.81" cy="605.72" r="1.4"/>
<circle cx="373.24" cy="602.34" r="1.4"/>
<circle cx="377.99" cy="606.53" r="1.4"/>
<circle cx="374.26" cy="606.61" r="1.4"/>
<circle cx="374.33" cy="609.26" r="1.4"/>
<circle cx="370.85" cy="608.71" r="1.4"/>
<circle cx="375.82" cy="609.88" r="1.4"/>
<circle cx="374.51" cy="607.78" r="1.4"/>
<circle cx="372.2" cy="608.89" r="1.4"/>
<circle cx="379.07" cy="608.7" r="1.4"/>
<circle cx="380.02" cy="600.71" r="1.4"/>
<circle cx="392.4" cy="603.26" r="1.4"/>
<circle cx="382.37" cy="607.18" r="1.4"/>
<circle cx="381.37" cy="603.89" r="1.4"/>
<circle cx="381.91" cy="608.63" r="1.4"/>
<circle cx="373.92" cy="607.15" r="1.4"/>
<circle cx="391.9" cy="607.05" r="1.4"/>
<circle cx="379.23" cy="609.59" r="1.4"/>
<circle cx="389.6" cy="608.64" r="1.4"/>
<circle cx="373.53" cy="607.03" r="1.4"/>
<circle cx="379.64" cy="604.92" r="1.4"/>
<circle cx="396.2" cy="604.1" r="1.4"/>
<circle cx="369.79" cy="607.86" r="1.4"/>
<circle cx="374.37" cy="603.17" r="1.4"/>
<circle cx="372.19" cy="606.88" r="1.4"/>
<circle cx="389.58" cy="604.87" r="1.4"/>
<circle cx="382.49" cy="605.52" r="1.4"/>
<circle cx="375.49" cy="604.44" r="1.4"/>
<circle cx="374.53" cy="603.14" r="1.4"/>
<circle cx="371.67" cy="605.17" r="1.4"/>
<circle cx="378.28" cy="607.49" r="1.4"/>
<circle cx="378.69" cy="608.75" r="1.4"/>
<circle cx="372.55" cy="601.98" r="1.4"/>
<circle cx="398.49" cy="605.88" r="1.4"/>
<circle cx="379.62" cy="603.41" r="1.4"/>
<circle cx="377.01" cy="607.58" r="1.4"/>
<circle cx="394.1" cy="605.88" r="1.4"/>
<circle cx="400.99" cy="605.93" r="1.4"/>
<circle cx="371.66" cy="608.76" r="1.4"/>
<circle cx="385.26" cy="606.14" r="1.4"/>
<circle cx="385.78" cy="610.02" r="1.4"/>
<circle cx="393.24" cy="600.25" r="1.4"/>
<circle cx="380.86" cy="605.06" r="1.4"/>
<circle cx="377.77" cy="605.15" r="1.4"/>
<circle cx="382.92" cy="608.39" r="1.4"/>
<circle cx="370.65" cy="606.77" r="1.4"/>
<circle cx="395.47" cy="605.24" r="1.4"/>
<circle cx="370.41" cy="609.1" r="1.4"/>
<circle cx="383.96" cy="608.32" r="1.4"/>
<circle cx="415.86" cy="599.35" r="1.4"/>
<circle cx="382.81" cy="587.19" r="1.4"/>
<circle cx="389.02" cy="595.1" r="1.4"/>
<circle cx="393.99" cy="596.31" r="1.4"/>
<circle cx="398.96" cy="602.39" r="1.4"/>
<circle cx="401.44" cy="604.82" r="1.4"/>
</g>
<line x1="299.5" y1="551" x2="336" y2="590" stroke="#bdbdbd" stroke-width="0.6"/>
<line x1="306" y1="573" x2="336.5" y2="590" stroke="#bdbdbd" stroke-width="0.6"/>
<line x1="312" y1="596" x2="340.5" y2="608" stroke="#bdbdbd" stroke-width="0.6"/>
<line x1="320" y1="616" x2="345" y2="609" stroke="#bdbdbd" stroke-width="0.6"/>
<line x1="383" y1="593" x2="406" y2="574" stroke="#bdbdbd" stroke-width="0.6"/>
<line x1="384" y1="594" x2="398" y2="596" stroke="#bdbdbd" stroke-width="0.6"/>
<line x1="376" y1="611" x2="394" y2="614" stroke="#bdbdbd" stroke-width="0.6"/>
<line x1="422.3" y1="483" x2="424" y2="492" stroke="#bdbdbd" stroke-width="0.6"/>
<line x1="405.5" y1="534" x2="410" y2="525" stroke="#bdbdbd" stroke-width="0.6"/>
<circle cx="337.2" cy="591.1" r="2.3" fill="#00008b"/>
<circle cx="341.3" cy="609" r="2.3" fill="#00008b"/>
<circle cx="346.2" cy="609" r="2.3" fill="#00008b"/>
<circle cx="382.3" cy="593.4" r="2.3" fill="#8b0000"/>
<circle cx="369.4" cy="610.3" r="2.3" fill="#8b0000"/>
<circle cx="375.4" cy="611.3" r="2.3" fill="#8b0000"/>
<circle cx="422.3" cy="482.7" r="2.3" fill="#8b0000"/>
<circle cx="405.5" cy="534.2" r="2.3" fill="#8b0000"/>
<circle cx="397.1" cy="538.9" r="2.3" fill="#8b0000"/>
<text x="285.8" y="549" fill="#222">TFRC</text>
<text x="285.2" y="571.9" fill="#222">LPCAT3</text>
<text x="285.8" y="594.1" fill="#222">HMGCR</text>
<text x="285.2" y="616.7" fill="#222">SLC11A2</text>
<text x="431.6" y="498.3" text-anchor="end" fill="#222">FTL</text>
<text x="430.7" y="524.6" text-anchor="end" fill="#222">FTH1</text>
<text x="429.4" y="549" text-anchor="end" fill="#222">HMOX1</text>
<text x="430.6" y="571.9" text-anchor="end" fill="#222">CISD1</text>
<text x="431.2" y="594.3" text-anchor="end" fill="#222">SLC3A2</text>
<text x="430.3" y="616.7" text-anchor="end" fill="#222">SLC7A11</text>
<rect x="277.5" y="476" width="163.5" height="148.8" fill="none" stroke="#333" stroke-width="1"/>
<line x1="275" y1="618.2" x2="277.5" y2="618.2" stroke="#333" stroke-width="0.9"/>
<text x="273.5" y="621.1" text-anchor="end" fill="#222">0</text>
<line x1="275" y1="587.8" x2="277.5" y2="587.8" stroke="#333" stroke-width="0.9"/>
<text x="273.5" y="590.7" text-anchor="end" fill="#222">5</text>
<line x1="275" y1="557.4" x2="277.5" y2="557.4" stroke="#333" stroke-width="0.9"/>
<text x="273.5" y="560.3" text-anchor="end" fill="#222">10</text>
<line x1="275" y1="527" x2="277.5" y2="527" stroke="#333" stroke-width="0.9"/>
<text x="273.5" y="529.9" text-anchor="end" fill="#222">15</text>
<line x1="275" y1="496.6" x2="277.5" y2="496.6" stroke="#333" stroke-width="0.9"/>
<text x="273.5" y="499.5" text-anchor="end" fill="#222">20</text>
<line x1="309.5" y1="624.8" x2="309.5" y2="627.3" stroke="#333" stroke-width="0.9"/>
<text x="308" y="636.8" text-anchor="middle" fill="#222">−2</text>
<line x1="359.2" y1="624.8" x2="359.2" y2="627.3" stroke="#333" stroke-width="0.9"/>
<text x="359.2" y="636.8" text-anchor="middle" fill="#222">0</text>
<line x1="408.9" y1="624.8" x2="408.9" y2="627.3" stroke="#333" stroke-width="0.9"/>
<text x="408.9" y="636.8" text-anchor="middle" fill="#222">2</text>
<text x="357.5" y="644.8" text-anchor="middle" fill="#222">Relative Abundance</text>
<text x="357.5" y="653.8" text-anchor="middle" fill="#222">Log<tspan font-size="5" dy="1.5">2</tspan><tspan dy="-1.5">(MOF-Fe vs. Control)</tspan></text>
<text x="357.9" y="472.6" text-anchor="middle" fill="#222">Panc-1, Proteomics, 48 h</text>
<text transform="translate(258,550) rotate(-90)" text-anchor="middle" fill="#222">−Log<tspan font-size="5" dy="1.5">10</tspan><tspan dy="-1.5">(</tspan><tspan font-style="italic">P</tspan><tspan>.</tspan><tspan font-style="italic">Value</tspan>)</text>
<text transform="translate(469.6,475.8) scale(1.12,1)" font-size="15.5" font-weight="bold" fill="#000" stroke="#000" stroke-width="0.5">o</text>
<text x="567.7" y="472.3" text-anchor="middle">MOF-Fe (3 µg Fe/mL)</text>
<line x1="509.4" y1="476.6" x2="628" y2="476.6" stroke="#111" stroke-width="1"/>
<text x="505.9" y="490.7" text-anchor="end">Time (h)</text>
<text x="520.4" y="490.7" text-anchor="middle">0</text>
<text x="544.6" y="490.7" text-anchor="middle">6</text>
<text x="567.7" y="490.7" text-anchor="middle">12</text>
<text x="591.5" y="490.7" text-anchor="middle">24</text>
<text x="615.2" y="490.7" text-anchor="middle">48</text>
<rect x="508.6" y="495.6" width="120" height="20.7" fill="#f5f5f5" stroke="#222" stroke-width="1" rx="1.2"/>
<text x="505.9" y="510.5" text-anchor="end">NRF2</text>
<rect x="508.6" y="520.5" width="120" height="19.9" fill="#f5f5f5" stroke="#222" stroke-width="1" rx="1.2"/>
<text x="505.9" y="536.2" text-anchor="end">HMOX1</text>
<rect x="508.6" y="544" width="120" height="20.2" fill="#f5f5f5" stroke="#222" stroke-width="1" rx="1.2"/>
<text x="505.9" y="563" text-anchor="end">FTH1</text>
<rect x="508.6" y="568.5" width="120" height="19.9" fill="#f5f5f5" stroke="#222" stroke-width="1" rx="1.2"/>
<text x="505.9" y="581.6" text-anchor="end">β-Actin</text>
<g filter="url(#bandblur)">
<rect x="514" y="500.1" width="16" height="2" rx="1" fill="#000" fill-opacity="0.42"/>
<rect x="514" y="504.7" width="16" height="2" rx="1" fill="#000" fill-opacity="0.36"/>
<rect x="514" y="509.2" width="16" height="2" rx="1" fill="#000" fill-opacity="0.42"/>
<rect x="536.8" y="500.1" width="16" height="2" rx="1" fill="#000" fill-opacity="0.55"/>
<rect x="536.8" y="504.45" width="16" height="2.5" rx="1.25" fill="#000" fill-opacity="0.80"/>
<rect x="536.8" y="508.95" width="16" height="2.5" rx="1.25" fill="#000" fill-opacity="0.75"/>
<rect x="559.6" y="500.1" width="16" height="2" rx="1" fill="#000" fill-opacity="0.55"/>
<rect x="559.6" y="504.2" width="16" height="3" rx="1.5" fill="#000" fill-opacity="1.00"/>
<rect x="559.6" y="508.95" width="16" height="2.5" rx="1.25" fill="#000" fill-opacity="0.80"/>
<rect x="582.5" y="500.1" width="16" height="2" rx="1" fill="#000" fill-opacity="0.45"/>
<rect x="582.5" y="503.9" width="16" height="3.6" rx="1.8" fill="#000" fill-opacity="1.00"/>
<rect x="582.5" y="508.95" width="16" height="2.5" rx="1.25" fill="#000" fill-opacity="0.85"/>
<rect x="605.3" y="500.2" width="16" height="1.8" rx="0.9" fill="#000" fill-opacity="0.30"/>
<rect x="605.3" y="504.7" width="16" height="2" rx="1" fill="#000" fill-opacity="0.45"/>
<rect x="605.3" y="509.2" width="16" height="2" rx="1" fill="#000" fill-opacity="0.36"/>
<rect x="514.5" y="530.2" width="15" height="2.2" rx="1.1" fill="#000" fill-opacity="0.30"/>
<rect x="537.3" y="530.2" width="15" height="2.2" rx="1.1" fill="#000" fill-opacity="0.25"/>
<rect x="559.6" y="529.8" width="16" height="3" rx="1.5" fill="#000" fill-opacity="0.65"/>
<rect x="581.5" y="528.8" width="18" height="5" rx="2.5" fill="#000" fill-opacity="1.00"/>
<rect x="604.8" y="529.6" width="17" height="3.4" rx="1.7" fill="#000" fill-opacity="0.85"/>
<rect x="518" y="552.1" width="12" height="2.4" rx="1.2" fill="#000" fill-opacity="0.07"/>
<rect x="541.7" y="552" width="12" height="2.6" rx="1.3" fill="#000" fill-opacity="0.14"/>
<rect x="562.5" y="551.8" width="14" height="3" rx="1.5" fill="#000" fill-opacity="0.65"/>
<rect x="582.8" y="551.3" width="17" height="4" rx="2" fill="#000" fill-opacity="0.95"/>
<rect x="605.1" y="550.5" width="18" height="5.6" rx="2.8" fill="#000" fill-opacity="1.00"/>
<rect x="512.5" y="575.8" width="19" height="4.4" rx="2.2" fill="#000" fill-opacity="1.00"/>
<rect x="535.8" y="575.8" width="20" height="4.4" rx="2.2" fill="#000" fill-opacity="1.00"/>
<rect x="560.5" y="575.8" width="18" height="4.4" rx="2.2" fill="#000" fill-opacity="1.00"/>
<rect x="581.4" y="575.8" width="18" height="4.4" rx="2.2" fill="#000" fill-opacity="1.00"/>
<rect x="604.7" y="575.8" width="17" height="4.4" rx="2.2" fill="#000" fill-opacity="1.00"/>
</g>
<text x="631" y="515.7">-72 kD</text>
<text x="631" y="532.7">-37 kD</text>
<text x="631" y="563">-17 kD</text>
<text x="631" y="576.9">-43 kD</text>
</svg></body></html>
